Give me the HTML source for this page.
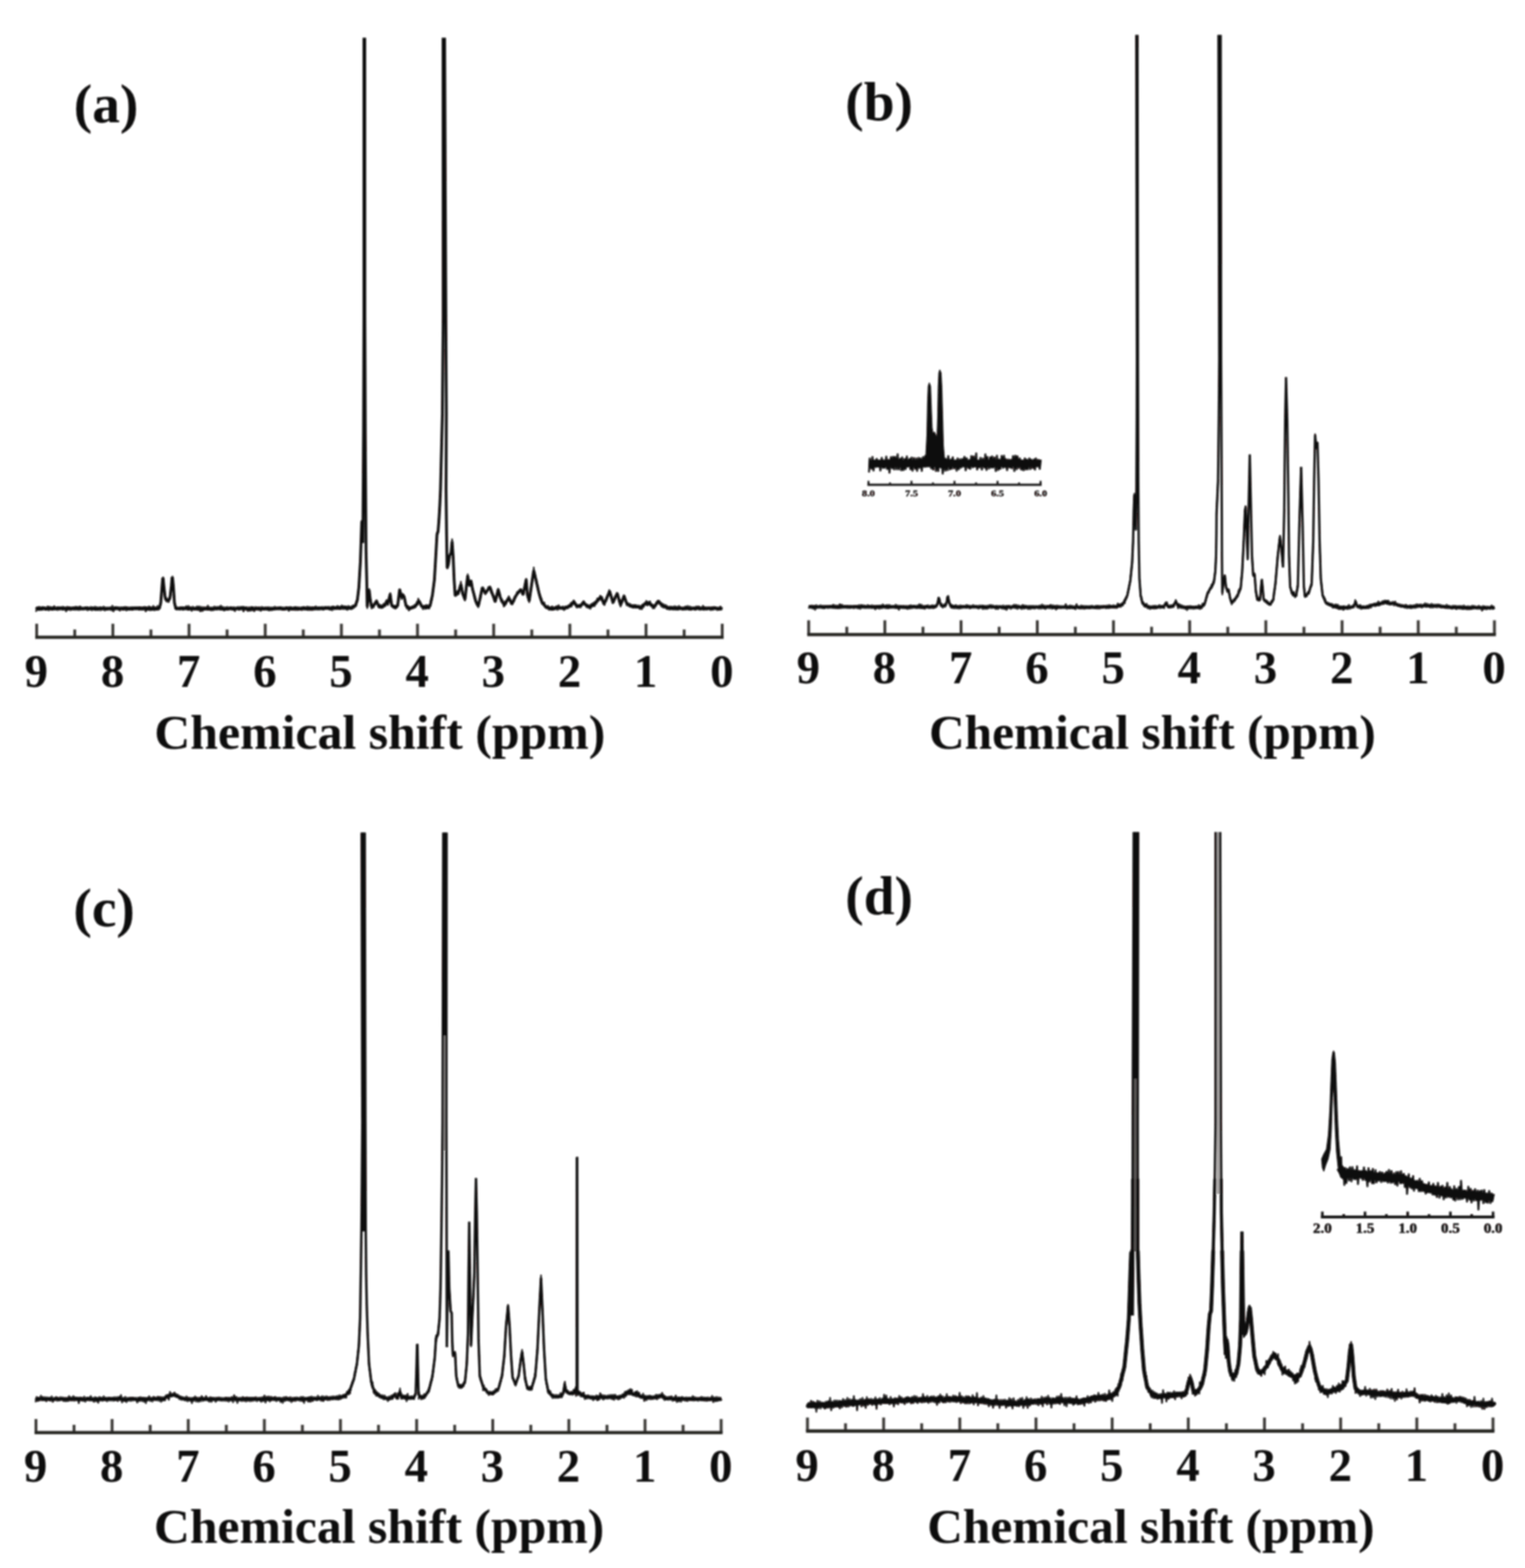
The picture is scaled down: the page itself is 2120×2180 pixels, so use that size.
<!DOCTYPE html>
<html lang="en"><head><meta charset="utf-8"><title>1H NMR spectra</title>
<style>html,body{margin:0;padding:0;background:#fff;overflow:hidden}svg{display:block}text{font-family:"Liberation Serif", "DejaVu Serif", serif;font-weight:bold;fill:#0c0909}</style></head><body>
<svg width="2120" height="2180" viewBox="0 0 2120 2180" role="img" aria-label="1H NMR spectra, panels a to d">
<defs><filter id="bl" x="-2%" y="-2%" width="104%" height="104%"><feGaussianBlur stdDeviation="0.9"/></filter></defs>
<rect width="2120" height="2180" fill="#fff"/>
<g filter="url(#bl)">
<g id="panel-a">
<line x1="1004.0" y1="867.2" x2="1004.0" y2="886.0" stroke="#3d3a39" stroke-width="4.0"/>
<line x1="951.1" y1="875.2" x2="951.1" y2="886.0" stroke="#3d3a39" stroke-width="4.0"/>
<line x1="898.1" y1="867.2" x2="898.1" y2="886.0" stroke="#3d3a39" stroke-width="4.0"/>
<line x1="845.2" y1="875.2" x2="845.2" y2="886.0" stroke="#3d3a39" stroke-width="4.0"/>
<line x1="792.2" y1="867.2" x2="792.2" y2="886.0" stroke="#3d3a39" stroke-width="4.0"/>
<line x1="739.3" y1="875.2" x2="739.3" y2="886.0" stroke="#3d3a39" stroke-width="4.0"/>
<line x1="686.3" y1="867.2" x2="686.3" y2="886.0" stroke="#3d3a39" stroke-width="4.0"/>
<line x1="633.4" y1="875.2" x2="633.4" y2="886.0" stroke="#3d3a39" stroke-width="4.0"/>
<line x1="580.4" y1="867.2" x2="580.4" y2="886.0" stroke="#3d3a39" stroke-width="4.0"/>
<line x1="527.5" y1="875.2" x2="527.5" y2="886.0" stroke="#3d3a39" stroke-width="4.0"/>
<line x1="474.6" y1="867.2" x2="474.6" y2="886.0" stroke="#3d3a39" stroke-width="4.0"/>
<line x1="421.6" y1="875.2" x2="421.6" y2="886.0" stroke="#3d3a39" stroke-width="4.0"/>
<line x1="368.7" y1="867.2" x2="368.7" y2="886.0" stroke="#3d3a39" stroke-width="4.0"/>
<line x1="315.7" y1="875.2" x2="315.7" y2="886.0" stroke="#3d3a39" stroke-width="4.0"/>
<line x1="262.8" y1="867.2" x2="262.8" y2="886.0" stroke="#3d3a39" stroke-width="4.0"/>
<line x1="209.8" y1="875.2" x2="209.8" y2="886.0" stroke="#3d3a39" stroke-width="4.0"/>
<line x1="156.9" y1="867.2" x2="156.9" y2="886.0" stroke="#3d3a39" stroke-width="4.0"/>
<line x1="103.9" y1="875.2" x2="103.9" y2="886.0" stroke="#3d3a39" stroke-width="4.0"/>
<line x1="51.0" y1="867.2" x2="51.0" y2="886.0" stroke="#3d3a39" stroke-width="4.0"/>
<line x1="49.0" y1="886.0" x2="1006.0" y2="886.0" stroke="#282524" stroke-width="4.6"/>
<text x="1003.5" y="955.0" font-size="65" text-anchor="middle">0</text>
<text x="897.6" y="955.0" font-size="65" text-anchor="middle">1</text>
<text x="791.7" y="955.0" font-size="65" text-anchor="middle">2</text>
<text x="685.8" y="955.0" font-size="65" text-anchor="middle">3</text>
<text x="579.9" y="955.0" font-size="65" text-anchor="middle">4</text>
<text x="474.1" y="955.0" font-size="65" text-anchor="middle">5</text>
<text x="368.2" y="955.0" font-size="65" text-anchor="middle">6</text>
<text x="262.3" y="955.0" font-size="65" text-anchor="middle">7</text>
<text x="156.4" y="955.0" font-size="65" text-anchor="middle">8</text>
<text x="50.5" y="955.0" font-size="65" text-anchor="middle">9</text>
<text x="214.5" y="1041.0" font-size="68" textLength="627.0" lengthAdjust="spacingAndGlyphs">Chemical shift (ppm)</text>
<path d="M50.0 846.9 L52.2 844.9 L54.4 847.0 L56.5 847.3 L58.7 844.6 L60.9 845.2 L63.1 846.8 L65.3 847.1 L67.5 845.1 L69.7 846.1 L71.9 847.2 L74.1 844.8 L76.3 846.5 L78.5 845.7 L80.7 844.8 L82.9 845.5 L85.1 845.2 L87.3 847.1 L89.5 845.7 L91.7 845.7 L93.9 847.3 L96.1 844.7 L98.3 846.6 L100.5 845.5 L102.7 845.4 L104.9 844.9 L107.1 845.1 L109.3 845.6 L111.5 846.2 L113.7 846.2 L115.8 845.9 L118.0 845.5 L120.2 844.8 L122.4 845.5 L124.6 846.4 L126.8 846.4 L129.0 845.4 L131.2 847.1 L133.4 847.4 L135.6 847.1 L137.8 845.8 L140.0 845.2 L142.2 846.4 L144.4 845.6 L146.6 846.7 L148.8 846.0 L151.0 846.5 L153.2 846.0 L155.4 846.0 L157.6 847.4 L159.8 845.1 L162.0 844.7 L164.2 846.4 L166.4 846.7 L168.6 844.9 L170.8 847.4 L173.0 844.9 L175.1 845.2 L177.3 846.5 L179.5 847.1 L181.7 846.1 L183.9 847.4 L186.1 845.1 L188.3 846.5 L190.5 845.1 L192.7 846.2 L194.9 844.5 L197.1 846.9 L199.3 845.3 L201.5 844.7 L203.7 846.7 L205.9 847.3 L208.1 844.6 L210.3 847.4 L212.5 847.2 L214.7 845.2 L216.9 846.9 L219.1 845.5 L221.5 846.1 L223.5 838.0 L225.3 814.9 L226.2 803.7 L226.8 804.0 L227.8 815.1 L229.5 830.3 L231.5 833.8 L234.5 834.8 L236.5 830.0 L238.2 814.9 L239.2 802.4 L239.9 803.5 L241.0 815.1 L242.5 838.0 L244.5 846.5 L246.5 845.9 L248.5 846.1 L250.7 846.6 L252.9 844.8 L255.1 845.7 L257.3 845.4 L259.5 845.7 L261.7 847.3 L263.9 846.4 L266.1 846.1 L268.3 846.0 L270.5 846.7 L272.7 846.0 L274.9 846.9 L277.1 846.3 L279.4 846.7 L281.6 847.2 L283.8 847.0 L286.0 846.5 L288.2 846.8 L290.4 847.1 L292.6 845.7 L294.8 847.3 L297.0 846.3 L299.2 846.0 L301.4 846.7 L303.6 845.2 L305.8 846.5 L308.0 846.3 L310.2 847.2 L312.4 847.4 L314.6 846.8 L316.8 846.8 L319.0 845.9 L321.2 844.8 L323.4 847.2 L325.6 847.0 L327.9 845.9 L330.1 845.6 L332.3 847.0 L334.5 845.0 L336.7 844.6 L338.9 844.6 L341.1 845.3 L343.3 847.0 L345.5 846.9 L347.7 847.3 L349.9 844.5 L352.1 846.3 L354.3 846.6 L356.5 846.8 L358.7 845.6 L360.9 846.0 L363.1 847.3 L365.3 845.6 L367.5 847.0 L369.7 845.4 L371.9 847.3 L374.1 847.1 L376.4 845.7 L378.6 847.2 L380.8 846.5 L383.0 846.4 L385.2 845.3 L387.4 846.4 L389.6 844.7 L391.8 846.4 L394.0 846.8 L396.2 846.8 L398.4 844.7 L400.6 846.6 L402.8 844.6 L405.0 845.5 L407.2 847.0 L409.4 845.3 L411.6 844.6 L413.8 846.9 L416.0 846.3 L418.2 846.6 L420.4 845.2 L422.6 844.6 L424.9 846.3 L427.1 846.7 L430.0 844.7 L432.2 847.2 L434.4 844.8 L436.5 846.0 L438.7 845.0 L440.9 846.7 L443.1 845.4 L445.3 845.3 L447.4 845.4 L449.6 846.6 L451.8 845.0 L454.0 844.7 L456.1 845.4 L458.3 846.5 L460.5 845.6 L462.7 844.0 L464.9 845.4 L467.0 845.1 L469.2 843.8 L471.4 846.5 L473.6 844.2 L475.8 844.7 L477.9 843.9 L480.1 844.2 L482.3 845.5 L484.5 845.3 L486.6 845.7 L488.8 845.6 L491.4 843.6 L494.1 841.9 L496.8 834.2 L498.9 816.5 L501.0 780.9 L502.3 743.1 L502.9 724.6 L504.4 755.0 L505.4 600.0 L505.9 440.0 L505.9 52.6 M507.1 52.6 L507.2 440.0 L507.8 600.0 L508.8 764.0 L509.8 806.0 L510.5 843.8 L511.9 831.1 L513.2 820.2 L514.7 833.4 L516.6 843.6 L519.3 842.3 L521.4 839.1 L523.5 835.4 L526.6 843.4 L528.7 844.2 L530.8 844.6 L532.9 841.9 L535.0 842.2 L537.6 835.4 L539.2 839.8 L542.4 825.9 L544.5 841.8 L547.1 843.8 L549.7 844.8 L552.9 841.6 L555.6 819.3 L558.2 830.8 L559.8 826.5 L561.9 829.9 L564.5 842.5 L567.1 843.9 L569.7 846.3 L572.2 844.6 L574.6 844.4 L577.1 843.4 L579.7 839.6 L582.3 835.2 L584.4 839.3 L586.5 843.2 L588.6 843.6 L590.7 843.3 L592.8 845.6 L595.4 843.3 L598.1 841.4 L601.2 827.1 L603.9 806.0 L606.1 768.3 L607.5 743.0 L609.0 738.8 L610.3 722.0 L611.5 701.1 L612.4 680.0 L615.0 575.0 L616.1 440.0 L615.9 52.6 M618.1 52.6 L619.8 440.0 L620.5 575.0 L620.1 680.0 L620.8 743.0 L621.6 789.6 L623.3 784.8 L625.0 772.8 L627.1 768.2 L628.5 752.6 L630.0 774.5 L631.3 806.0 L632.7 828.1 L634.8 825.7 L636.9 825.4 L638.8 818.7 L640.7 812.2 L643.2 825.4 L646.4 833.5 L648.5 814.3 L650.2 800.3 L652.3 814.2 L654.8 807.7 L656.9 819.0 L659.0 826.7 L661.1 835.0 L663.0 839.7 L664.9 842.9 L666.7 834.8 L668.4 827.0 L670.5 817.0 L672.6 821.0 L674.7 824.9 L677.9 820.5 L681.1 816.1 L684.2 825.1 L686.3 830.4 L688.4 836.6 L690.5 828.3 L692.6 819.6 L695.8 831.8 L698.4 836.1 L701.0 841.4 L703.1 837.8 L705.2 834.5 L707.3 831.1 L709.4 835.4 L711.5 839.9 L713.6 836.0 L715.7 831.1 L717.8 827.6 L719.9 824.3 L722.0 821.9 L724.1 819.4 L727.3 826.8 L729.4 816.1 L731.5 805.5 L733.2 827.1 L735.7 835.5 L738.8 814.4 L742.0 792.8 L745.1 806.4 L747.2 815.5 L749.3 824.5 L751.4 831.6 L753.5 837.7 L756.2 840.2 L758.8 844.1 L761.2 845.4 L763.7 844.8 L766.1 846.6 L768.2 847.1 L770.3 846.4 L772.4 844.9 L774.5 844.5 L776.6 844.6 L778.7 845.0 L780.8 845.1 L782.9 846.0 L785.0 846.2 L787.1 843.8 L789.2 844.7 L791.3 842.4 L793.4 841.3 L795.5 839.9 L797.6 836.0 L799.7 839.7 L801.8 843.2 L804.5 841.9 L807.1 842.1 L809.2 840.3 L811.3 836.7 L813.4 840.7 L815.5 842.0 L818.1 842.3 L820.8 844.1 L821.8 842.1 L823.9 840.0 L826.0 839.8 L828.1 837.2 L830.5 835.5 L833.0 832.0 L835.4 829.9 L837.5 834.1 L839.6 839.9 L841.7 835.6 L843.8 830.8 L845.6 826.6 L847.4 821.9 L849.8 829.8 L852.2 838.1 L854.2 833.0 L856.1 828.7 L858.1 825.1 L860.4 833.2 L862.7 841.3 L865.1 834.8 L867.6 828.5 L869.3 833.6 L871.1 838.7 L873.6 840.4 L876.0 842.7 L878.5 843.3 L880.6 844.1 L882.7 841.9 L884.8 844.0 L886.9 844.0 L889.0 844.3 L891.1 844.4 L893.5 841.9 L896.0 840.3 L898.4 838.5 L901.1 838.7 L903.7 839.4 L906.3 841.2 L908.9 843.4 L911.1 841.3 L913.2 838.7 L915.3 835.8 L917.9 839.4 L920.5 841.0 L922.6 842.3 L924.7 843.0 L926.8 844.9 L928.9 844.3 L931.1 847.0 L933.4 844.2 L935.6 846.9 L937.8 846.2 L940.0 845.1 L942.3 846.9 L944.5 845.2 L946.7 845.7 L948.9 846.5 L951.2 846.5 L953.4 846.7 L955.6 846.1 L957.8 846.2 L960.0 846.8 L962.3 845.9 L964.5 846.5 L966.7 845.9 L968.9 845.9 L971.2 845.4 L973.4 846.1 L975.6 845.7 L977.8 846.4 L980.1 845.7 L982.3 846.9 L984.5 845.5 L986.7 846.0 L989.0 846.3 L991.2 845.7 L993.4 844.8 L995.6 845.6 L997.9 846.0 L1000.1 847.3 L1002.3 845.8 L1004.5 846.0" fill="none" stroke="#0a0808" stroke-width="3.8" stroke-linejoin="bevel" stroke-linecap="butt"/><path d="M50.0 850.6 L51.5 843.7 L53.0 848.9 L54.4 842.9 L55.9 848.2 L57.4 843.6 L58.9 848.8 L60.4 843.5 L61.9 848.3 L63.4 843.7 L64.9 848.7 L66.4 842.3 L67.9 849.2 L69.4 842.9 L70.9 848.1 L72.4 843.6 L73.9 848.8 L75.4 842.1 L76.9 848.3 L78.4 843.8 L79.9 849.0 L81.4 843.6 L82.9 848.5 L84.4 843.3 L85.9 848.1 L87.4 842.7 L88.9 848.1 L90.4 843.7 L91.9 850.9 L93.4 842.9 L94.9 848.4 L96.4 843.4 L97.8 849.1 L99.3 843.9 L100.8 848.4 L102.3 843.5 L103.8 848.8 L105.3 842.7 L106.8 848.7 L108.3 842.9 L109.8 849.1 L111.3 842.3 L112.8 848.4 L114.3 843.7 L115.8 848.4 L117.3 843.8 L118.8 848.2 L120.3 843.9 L121.8 849.1 L123.3 843.8 L124.8 848.3 L126.3 843.1 L127.8 849.2 L129.3 843.4 L130.8 848.4 L132.3 842.9 L133.8 848.4 L135.3 843.6 L136.8 848.9 L138.3 843.7 L139.8 849.2 L141.3 843.7 L142.7 848.4 L144.2 842.6 L145.7 849.5 L147.2 843.8 L148.7 848.6 L150.2 843.9 L151.7 848.3 L153.2 843.6 L154.7 849.2 L156.2 841.5 L157.7 850.8 L159.2 843.3 L160.7 848.1 L162.2 843.2 L163.7 848.1 L165.2 843.5 L166.7 849.7 L168.2 843.8 L169.7 848.1 L171.2 843.5 L172.7 848.5 L174.2 843.1 L175.7 849.4 L177.2 843.4 L178.7 848.6 L180.2 843.7 L181.7 848.1 L183.2 843.4 L184.7 848.3 L186.2 843.4 L187.6 848.1 L189.1 843.3 L190.6 848.3 L192.1 843.3 L193.6 848.7 L195.1 843.7 L196.6 848.4 L198.1 843.6 L199.6 848.5 L201.1 842.9 L202.6 850.9 L204.1 843.4 L205.6 848.7 L207.1 842.3 L208.6 849.2 L210.1 843.6 L211.6 848.3 L213.1 841.8 L214.6 849.3 L216.1 843.6 L217.6 848.7 L219.1 841.7 L220.3 848.5 L221.5 843.6 L221.9 846.6 L222.3 840.2 L222.7 843.5 L223.1 836.9 L223.5 840.7 L223.6 834.3 L223.7 837.1 L223.9 830.6 L224.0 834.9 L224.1 827.6 L224.2 831.7 L224.3 825.1 L224.5 829.4 L224.6 821.7 L224.7 825.0 L224.8 817.5 L224.9 822.1 L225.1 815.4 L225.2 819.4 L225.3 812.4 L225.4 816.0 L225.6 809.5 L225.7 812.4 L225.8 805.6 L225.9 811.8 L226.1 802.9 L226.2 806.4 L226.8 801.8 L226.9 807.8 L227.1 804.9 L227.2 811.0 L227.4 807.9 L227.5 816.0 L227.7 811.2 L227.8 817.7 L228.0 813.8 L228.1 820.2 L228.3 816.5 L228.5 823.9 L228.7 819.4 L228.8 827.6 L229.0 821.6 L229.2 829.3 L229.3 825.9 L229.5 834.5 L230.0 828.9 L230.5 835.3 L231.0 830.9 L231.5 837.1 L233.0 832.6 L234.5 838.0 L235.0 831.3 L235.5 834.9 L236.0 828.3 L236.5 833.8 L236.7 823.9 L236.8 829.2 L237.0 823.3 L237.2 827.8 L237.3 819.0 L237.5 825.5 L237.7 816.9 L237.9 820.6 L238.0 814.4 L238.2 817.7 L238.3 811.1 L238.4 814.2 L238.6 806.7 L238.7 811.5 L238.8 805.0 L238.9 809.1 L239.1 802.7 L239.2 806.4 L239.9 800.7 L240.0 808.6 L240.2 803.6 L240.3 810.0 L240.4 807.0 L240.6 815.1 L240.7 809.5 L240.9 816.3 L241.0 811.3 L241.1 818.7 L241.2 814.6 L241.3 821.9 L241.4 818.0 L241.5 826.2 L241.6 822.0 L241.7 830.6 L241.8 824.7 L241.9 831.7 L242.0 828.1 L242.1 834.4 L242.2 828.6 L242.3 837.0 L242.4 833.9 L242.5 840.2 L242.9 836.3 L243.3 844.0 L243.7 839.9 L244.1 848.0 L244.5 842.7 L245.8 848.3 L247.2 843.8 L248.5 848.2 L250.0 843.6 L251.5 848.2 L253.0 843.4 L254.5 848.7 L256.0 843.8 L257.5 848.2 L259.0 842.0 L260.5 848.2 L262.0 841.8 L263.5 848.1 L265.0 843.4 L266.5 850.1 L268.0 842.7 L269.5 848.6 L271.0 843.9 L272.5 848.5 L274.0 842.2 L275.5 849.1 L277.0 842.1 L278.5 850.9 L280.0 843.0 L281.5 850.2 L283.0 843.4 L284.5 848.2 L286.0 843.6 L287.5 848.1 L289.0 841.2 L290.5 848.5 L292.0 843.8 L293.5 849.5 L295.0 843.7 L296.5 849.3 L298.0 842.6 L299.5 848.3 L301.0 843.0 L302.5 848.1 L304.0 842.9 L305.5 848.3 L307.0 841.1 L308.5 848.2 L310.0 843.1 L311.5 849.6 L313.0 843.7 L314.5 848.2 L316.0 843.0 L317.5 848.4 L319.0 843.8 L320.5 848.2 L322.0 843.6 L323.5 848.5 L325.0 843.3 L326.5 850.4 L328.0 843.8 L329.5 848.1 L331.0 843.0 L332.5 848.6 L334.0 843.1 L335.5 848.3 L337.0 843.0 L338.5 850.8 L340.0 843.7 L341.5 848.4 L343.0 843.4 L344.5 850.2 L346.0 843.5 L347.5 850.1 L349.0 843.1 L350.5 849.6 L352.0 843.5 L353.5 850.6 L355.0 843.1 L356.5 848.1 L358.0 843.6 L359.5 849.0 L361.0 843.4 L362.5 850.0 L364.0 843.0 L365.5 848.6 L367.0 843.8 L368.5 848.5 L370.0 843.6 L371.5 848.3 L373.0 843.2 L374.5 849.6 L376.0 843.7 L377.5 849.2 L379.0 843.8 L380.5 848.1 L382.0 842.7 L383.5 848.2 L385.0 843.8 L386.5 848.1 L388.0 843.3 L389.5 848.2 L391.0 843.4 L392.5 848.6 L394.0 843.7 L395.5 848.5 L397.0 843.6 L398.5 848.2 L400.0 843.7 L401.5 850.1 L403.0 843.8 L404.5 848.7 L406.1 843.8 L407.6 848.6 L409.1 843.4 L410.6 849.0 L412.1 843.5 L413.6 849.0 L415.1 843.5 L416.6 848.5 L418.1 843.7 L419.6 849.0 L421.1 843.7 L422.6 848.5 L424.1 843.5 L425.6 848.4 L427.1 842.6 L428.5 849.1 L430.0 843.1 L431.5 849.1 L433.0 843.5 L434.5 848.9 L436.0 843.5 L437.5 848.5 L439.0 842.3 L440.6 848.2 L442.1 843.2 L443.6 848.4 L445.1 843.3 L446.6 848.3 L448.1 843.1 L449.6 848.4 L451.1 843.0 L452.6 847.7 L454.1 843.0 L455.6 847.8 L457.1 842.8 L458.7 848.4 L460.2 843.1 L461.7 849.2 L463.2 842.4 L464.7 847.9 L466.2 843.0 L467.7 847.7 L469.2 841.8 L470.7 847.5 L472.2 842.7 L473.7 847.8 L475.2 841.0 L476.8 847.6 L478.3 842.1 L479.8 847.7 L481.3 842.3 L482.8 848.7 L484.3 841.7 L485.8 847.2 L487.3 842.7 L488.8 847.8 L490.1 841.1 L491.4 846.3 L492.8 840.4 L494.1 844.1 L494.6 837.8 L495.2 842.9 L495.7 834.4 L496.3 838.2 L496.8 831.7 L497.0 835.9 L497.2 829.0 L497.3 832.7 L497.5 824.0 L497.7 829.2 L497.9 823.1 L498.0 828.9 L498.2 820.0 L498.4 823.1 L498.6 817.0 L498.7 820.3 L498.9 813.9 L499.0 818.0 L499.1 811.0 L499.2 815.7 L499.3 808.3 L499.3 813.8 L499.4 804.4 L499.5 808.3 L499.6 802.5 L499.7 805.4 L499.8 799.6 L499.9 803.0 L500.0 795.1 L500.0 802.1 L500.1 792.5 L500.2 796.9 L500.3 790.5 L500.4 793.7 L500.5 786.5 L500.6 790.6 L500.7 784.7 L500.7 788.0 L500.8 781.1 L500.9 784.8 L501.0 778.5 L501.1 781.4 L501.1 775.7 L501.2 778.5 L501.2 772.6 L501.3 775.7 L501.3 769.2 L501.4 774.4 L501.4 765.8 L501.5 770.2 L501.5 763.2 L501.6 768.4 L501.6 760.4 L501.7 764.2 L501.7 757.2 L501.8 762.6 L501.8 754.1 L501.9 757.7 L501.9 750.9 L502.0 754.7 L502.0 747.4 L502.1 752.6 L502.1 745.4 L502.2 748.5 L502.2 742.1 L502.3 745.5 L502.3 739.3 L502.4 742.5 L502.4 734.7 L502.5 739.5 L502.5 733.2 L502.6 736.1 L502.6 728.7 L502.7 733.6 L502.7 726.6 L502.8 729.9 L502.8 723.2 L502.9 726.7 L503.0 723.7 L503.0 729.7 L503.1 726.7 L503.2 734.3 L503.3 729.1 L503.3 738.5 L503.4 732.2 L503.5 739.0 L503.6 735.2 L503.6 742.2 L503.7 738.6 L503.8 745.1 L503.9 741.5 L503.9 749.3 L504.0 745.2 L504.1 751.8 L504.2 748.3 L504.2 754.2 L504.3 751.1 M510.5 846.4 L510.6 839.2 L510.8 843.0 L511.0 837.0 L511.2 840.0 L511.4 833.6 L511.6 836.7 L511.7 830.5 L511.9 835.2 L512.1 827.5 L512.3 831.0 L512.5 824.3 L512.7 827.6 L512.8 820.4 L513.0 826.8 L513.2 818.0 L513.4 824.9 L513.5 820.1 L513.7 827.0 L513.8 821.6 L514.0 830.1 L514.2 826.8 L514.3 832.9 L514.5 829.8 L514.7 835.8 L515.0 832.5 L515.3 841.1 L515.6 835.8 L515.9 843.4 L516.2 839.1 L516.6 846.9 L517.9 839.9 L519.3 845.4 L520.1 838.3 L521.0 841.7 L521.8 835.9 L522.6 839.3 L523.5 833.6 L524.1 839.5 L524.7 836.1 L525.4 842.2 L526.0 839.1 L526.6 845.1 L528.0 840.0 L529.4 845.8 L530.8 840.8 L532.2 845.8 L533.6 838.5 L535.0 843.9 L535.5 838.0 L536.1 841.6 L536.6 835.8 L537.1 840.6 L537.6 833.4 L538.1 839.2 L538.7 835.5 L539.2 842.1 L539.6 834.9 L539.9 839.9 L540.3 833.0 L540.6 835.8 L541.0 829.5 L541.3 833.0 L541.7 826.3 L542.0 830.2 L542.4 823.8 L542.6 829.6 L542.8 824.0 L543.0 832.7 L543.2 828.8 L543.3 835.5 L543.5 832.1 L543.7 838.3 L543.9 834.2 L544.1 842.4 L544.3 837.9 L544.5 843.9 L545.8 840.3 L547.1 846.1 L548.4 841.3 L549.7 847.1 L550.8 841.2 L551.8 845.5 L552.9 838.7 L553.1 843.6 L553.3 835.7 L553.4 840.1 L553.6 832.8 L553.8 837.1 L554.0 830.4 L554.2 834.2 L554.4 826.9 L554.5 830.6 L554.7 824.1 L554.9 828.1 L555.1 821.2 L555.3 824.8 L555.4 818.2 L555.6 823.6 L555.9 818.3 L556.3 825.4 L556.6 820.6 L556.9 827.4 L557.2 823.0 L557.5 830.9 L557.8 826.6 L558.2 833.9 L558.7 827.5 L559.3 831.3 L559.8 824.8 L560.9 831.8 L561.9 827.3 L562.2 834.5 L562.6 830.1 L562.9 837.0 L563.2 833.2 L563.5 839.4 L563.8 836.1 L564.1 842.9 L564.5 839.4 L565.8 847.0 L567.1 841.5 L568.4 849.5 L569.7 843.6 L571.2 847.5 L572.6 842.5 L574.1 846.4 L575.6 840.8 L577.1 845.0 L577.9 838.9 L578.8 842.5 L579.7 835.7 L580.6 841.6 L581.4 831.5 L582.3 837.3 L582.9 834.2 L583.5 839.7 L584.1 836.2 L584.7 842.4 L585.3 838.7 L585.9 844.8 L586.5 841.3 L588.1 847.7 L589.7 841.2 L591.2 847.2 L592.8 840.3 L594.1 846.9 L595.4 840.9 L596.8 846.9 L598.1 839.5 L598.4 843.8 L598.7 834.2 L599.0 840.3 L599.3 833.4 L599.6 836.6 L600.0 830.7 L600.3 834.9 L600.6 827.4 L600.9 831.7 L601.2 824.1 L601.4 828.0 L601.6 821.2 L601.8 824.8 L602.0 818.9 L602.2 822.1 L602.4 815.8 L602.6 821.1 L602.8 812.3 L603.0 815.9 L603.2 809.4 L603.4 813.1 L603.6 806.8 L603.8 810.4 L603.9 803.4 L604.0 808.3 L604.1 800.8 L604.2 803.8 L604.3 797.9 L604.4 801.4 L604.5 793.4 L604.5 798.4 L604.6 791.1 L604.7 794.6 L604.8 788.7 L604.9 792.8 L605.0 784.7 L605.0 789.6 L605.1 782.7 L605.2 785.8 L605.3 779.7 L605.4 782.9 L605.5 776.3 L605.5 779.5 L605.6 771.7 L605.7 778.6 L605.8 770.6 L605.9 773.6 L606.0 766.9 L606.1 770.5 L606.1 764.1 L606.2 767.9 L606.3 761.6 L606.4 767.2 L606.5 756.6 L606.6 761.5 L606.7 755.1 L606.7 759.2 L606.8 752.7 L606.9 755.7 L607.0 749.3 L607.1 753.4 L607.2 746.5 L607.3 750.2 L607.3 743.7 L607.4 746.7 L607.5 739.5 L608.0 743.8 L608.5 737.9 L609.0 741.7 L609.1 734.9 L609.2 739.2 L609.3 731.9 L609.4 735.4 L609.6 728.7 L609.7 732.1 L609.8 725.0 L609.9 730.3 L610.0 721.6 L610.1 727.7 L610.3 718.5 L610.3 722.9 L610.4 716.4 L610.5 721.4 L610.6 711.8 L610.7 717.3 L610.8 710.5 L610.9 714.5 L611.0 706.7 L611.1 711.7 L611.2 704.8 L611.2 708.0 L611.3 701.4 L611.4 705.6 L611.5 698.6 L611.6 704.1 L611.6 694.7 L611.7 698.8 L611.8 692.8 L611.8 696.9 L611.9 689.8 L611.9 692.7 L612.0 686.5 L612.1 690.3 L612.1 682.6 L612.2 687.0 L612.2 680.7 L612.3 683.8 M621.6 791.4 L622.2 784.8 L622.7 790.1 L623.3 782.3 L623.5 786.0 L623.7 779.8 L623.9 783.2 L624.1 776.2 L624.3 779.4 L624.5 773.3 L624.7 777.1 L625.0 770.2 L625.7 773.9 L626.4 767.5 L627.1 770.5 L627.2 764.6 L627.3 769.0 L627.5 761.1 L627.6 765.5 L627.7 758.7 L627.9 762.1 L628.0 754.8 L628.1 760.8 L628.3 752.8 L628.4 756.7 L628.5 748.8 L628.6 757.1 L628.7 751.7 L628.8 759.0 L628.9 755.4 L629.0 762.9 L629.1 758.1 L629.2 765.3 L629.3 762.0 L629.4 768.6 L629.5 764.2 L629.6 770.9 L629.7 767.8 L629.8 774.4 L629.9 770.3 L630.0 776.7 L630.1 773.0 L630.1 782.4 L630.2 776.4 L630.2 782.8 L630.3 779.4 L630.4 785.7 L630.4 781.1 L630.5 789.6 L630.5 784.4 L630.6 791.9 L630.7 787.8 L630.7 795.0 L630.8 791.4 L630.8 797.9 L630.9 794.8 L631.0 802.1 L631.0 797.9 L631.1 804.0 L631.1 800.0 L631.2 807.8 L631.3 803.9 L631.4 810.3 L631.5 806.7 L631.6 812.7 L631.7 807.7 L631.8 816.0 L631.9 812.0 L632.0 818.8 L632.1 813.2 L632.2 821.7 L632.3 818.8 L632.4 824.7 L632.5 821.7 L632.6 829.5 L632.7 824.8 L634.1 829.1 L635.5 820.8 L636.9 827.2 L637.4 820.1 L637.8 826.3 L638.2 817.7 L638.6 822.7 L639.0 814.0 L639.5 819.2 L639.9 812.3 L640.3 816.5 L640.7 807.9 L641.0 817.0 L641.3 813.0 L641.6 819.6 L641.8 815.8 L642.1 821.9 L642.4 817.4 L642.7 825.4 L643.0 821.3 L643.2 827.4 L643.8 823.9 L644.3 830.8 L644.8 826.5 L645.3 833.7 L645.9 829.6 L646.4 835.9 L646.5 828.6 L646.7 833.2 L646.9 825.6 L647.0 830.0 L647.2 822.1 L647.4 827.1 L647.5 820.2 L647.7 823.9 L647.8 817.9 L648.0 821.1 L648.2 815.0 L648.3 818.4 L648.5 812.0 L648.7 815.2 L648.8 808.6 L649.0 812.5 L649.2 806.6 L649.3 809.5 L649.5 803.7 L649.7 807.3 L649.8 799.7 L650.0 803.9 L650.2 797.5 L650.4 803.9 L650.6 800.7 L650.8 806.7 L651.0 803.5 L651.2 812.0 L651.4 806.3 L651.6 812.5 L651.8 809.1 L652.1 815.2 L652.3 812.3 L652.8 815.5 L653.3 808.8 L653.8 813.1 L654.3 806.0 L654.8 809.7 L655.1 806.0 L655.3 812.6 L655.6 809.4 L655.8 816.5 L656.1 810.4 L656.4 818.6 L656.6 815.0 L656.9 821.3 L657.2 817.8 L657.6 824.3 L657.9 819.6 L658.3 826.5 L658.6 823.3 L659.0 830.8 L659.3 825.6 L659.7 832.6 L660.0 829.1 L660.4 835.6 L660.7 830.6 L661.1 838.1 L661.7 833.0 L662.4 840.2 L663.0 836.2 L663.6 842.5 L664.2 838.9 L664.9 845.1 L665.2 838.6 L665.5 842.8 L665.8 836.1 L666.2 839.6 L666.5 832.6 L666.8 837.0 L667.1 829.8 L667.5 834.2 L667.8 826.5 L668.1 833.4 L668.4 824.8 L668.7 828.4 L669.0 821.9 L669.3 825.6 L669.6 818.7 L669.9 822.9 L670.2 815.9 L670.5 818.9 L671.2 815.6 L671.9 822.6 L672.6 817.5 L673.3 824.6 L674.0 820.7 L674.7 827.2 L675.5 821.1 L676.3 824.7 L677.1 818.9 L677.9 821.9 L678.9 815.3 L680.0 820.5 L681.1 814.4 L681.6 820.1 L682.1 817.0 L682.6 824.8 L683.2 819.6 L683.7 825.9 L684.2 822.7 L684.7 828.7 L685.3 825.1 L685.8 831.6 L686.3 827.0 L686.8 834.9 L687.4 831.2 L687.9 837.6 L688.4 833.6 L688.8 837.9 L689.1 829.9 L689.5 834.8 L689.8 828.3 L690.2 832.5 L690.5 825.4 L690.9 829.6 L691.2 823.1 L691.6 828.6 L691.9 818.8 L692.3 823.9 L692.6 817.5 L693.0 824.5 L693.4 820.4 L693.8 826.5 L694.2 822.8 L694.6 829.2 L695.0 824.3 L695.4 832.1 L695.8 829.1 L696.4 836.7 L697.1 831.1 L697.7 838.3 L698.4 834.0 L699.0 840.0 L699.7 836.8 L700.4 844.2 L701.0 838.8 L701.8 842.9 L702.6 834.9 L703.4 840.9 L704.2 834.3 L704.9 837.5 L705.7 831.4 L706.5 835.6 L707.3 828.2 L708.0 836.0 L708.7 831.5 L709.4 837.6 L710.1 833.4 L710.8 840.6 L711.5 837.1 L712.2 841.2 L712.9 834.3 L713.6 838.0 L714.3 831.4 L715.0 836.5 L715.7 828.4 L716.4 832.4 L717.1 826.3 L717.8 829.3 L718.9 822.1 L719.9 826.9 L721.0 820.8 L722.0 824.8 L723.1 818.6 L724.1 822.3 L724.7 818.5 L725.4 825.6 L726.0 821.9 L726.6 828.0 L727.3 824.9 L727.5 827.8 L727.8 822.0 L728.1 824.9 L728.4 817.8 L728.7 822.3 L728.9 816.3 L729.2 819.1 L729.5 812.4 L729.8 816.4 L730.1 810.4 L730.4 814.3 L730.6 807.2 L730.9 811.4 L731.2 804.4 L731.5 808.3 L731.6 803.7 L731.7 810.6 L731.8 807.8 L732.0 813.9 L732.1 811.0 L732.2 817.9 L732.3 812.3 L732.4 820.0 L732.6 817.2 L732.7 823.4 L732.8 820.2 L732.9 826.2 L733.0 822.5 L733.2 829.5 L733.6 826.3 L734.0 832.2 L734.4 828.0 L734.8 835.9 L735.3 830.8 L735.7 838.2 L735.9 830.9 L736.1 836.0 L736.3 828.7 L736.6 831.8 L736.8 825.3 L737.0 829.4 L737.2 822.3 L737.5 825.6 L737.7 818.6 L737.9 823.0 L738.1 816.3 L738.4 820.1 L738.6 813.2 L738.8 817.0 L739.0 809.6 L739.2 814.0 L739.5 805.4 L739.7 811.7 L739.9 805.1 L740.1 809.2 L740.3 801.7 L740.5 806.0 L740.7 798.9 L740.9 802.6 L741.1 795.3 L741.3 799.2 L741.6 793.1 L741.8 796.4 L742.0 788.0 L742.3 796.5 L742.7 793.5 L743.0 799.4 L743.4 796.4 L743.7 802.8 L744.1 798.4 L744.4 805.3 L744.8 801.6 L745.1 808.7 L745.4 805.1 L745.8 811.7 L746.1 805.5 L746.4 815.0 L746.7 810.1 L747.1 817.1 L747.4 813.4 L747.7 820.8 L748.0 814.8 L748.4 823.2 L748.7 818.9 L749.0 826.3 L749.3 822.7 L749.8 829.2 L750.3 825.1 L750.7 832.5 L751.2 828.2 L751.7 835.1 L752.1 830.3 L752.6 837.6 L753.1 831.8 L753.5 840.6 L754.6 836.5 L755.6 842.4 L756.7 836.9 L757.7 844.9 L758.8 841.6 L760.3 846.8 L761.7 841.4 L763.2 848.6 L764.7 843.4 L766.1 848.8 L767.6 842.2 L769.1 848.0 L770.6 843.6 L772.1 848.0 L773.6 842.1 L775.1 848.8 L776.6 840.8 L778.1 847.5 L779.6 843.1 L781.1 847.3 L782.6 842.6 L784.1 848.9 L785.6 842.7 L787.1 847.0 L788.4 842.0 L789.7 846.3 L790.9 840.4 L792.2 844.7 L793.4 837.8 L794.5 844.0 L795.5 836.3 L796.6 840.2 L797.6 833.8 L798.5 840.9 L799.3 836.8 L800.2 842.5 L801.0 838.7 L801.8 845.4 L803.2 840.5 L804.5 845.0 L805.8 840.1 L807.1 845.3 L807.9 838.8 L808.8 843.1 L809.6 837.0 L810.5 840.7 L811.3 834.9 L812.1 840.7 L813.0 837.3 L813.8 842.7 L814.7 838.8 L815.5 845.1 L816.8 840.1 L818.1 846.0 L819.4 841.3 L820.8 847.2 L821.3 839.5 L821.8 845.1 L823.0 838.8 L824.3 843.9 L825.5 836.9 L826.8 843.3 L828.1 834.8 L829.1 840.2 L830.2 831.3 L831.2 837.0 L832.3 830.8 L833.3 834.9 L834.4 827.4 L835.4 834.2 L836.0 828.7 L836.6 835.9 L837.2 829.7 L837.8 837.5 L838.4 833.9 L839.0 840.9 L839.6 835.9 L840.3 842.2 L841.0 834.0 L841.7 838.0 L842.4 831.4 L843.1 836.2 L843.8 828.3 L844.3 832.5 L844.8 826.1 L845.4 829.7 L845.9 823.5 L846.4 826.9 L846.9 819.6 L847.4 824.2 L847.8 820.9 L848.3 827.7 L848.7 823.9 L849.2 830.4 L849.6 826.4 L850.0 833.2 L850.5 829.7 L850.9 836.2 L851.3 831.8 L851.8 839.8 L852.2 832.7 L852.9 838.9 L853.5 832.4 L854.2 835.5 L854.8 829.3 L855.5 833.1 L856.1 826.9 L856.8 829.9 L857.5 823.4 L858.1 827.4 L858.5 823.8 L858.9 830.1 L859.3 826.7 L859.6 833.6 L860.0 829.8 L860.4 837.2 L860.8 832.6 L861.2 838.7 L861.6 833.1 L862.0 841.7 L862.3 838.2 L862.7 844.1 L863.2 837.4 L863.7 841.4 L864.2 834.7 L864.7 838.7 L865.1 832.7 L865.6 837.3 L866.1 829.6 L866.6 834.8 L867.1 826.7 L867.6 830.3 L868.0 827.2 L868.5 834.7 L868.9 829.2 L869.3 836.4 L869.8 833.1 L870.2 839.3 L870.7 834.9 L871.1 842.3 L872.6 837.7 L874.1 843.5 L875.5 838.9 L877.0 844.4 L878.5 840.2 L880.1 845.5 L881.6 840.3 L883.2 845.6 L884.8 840.9 L886.4 845.7 L887.9 841.1 L889.5 847.4 L891.1 841.6 L892.3 847.8 L893.5 839.3 L894.8 844.9 L896.0 837.5 L897.2 841.6 L898.4 834.6 L899.8 842.5 L901.1 835.9 L902.4 841.8 L903.7 835.3 L905.0 843.8 L906.3 839.5 L907.6 846.6 L908.9 841.1 L909.8 846.3 L910.8 839.3 L911.7 843.6 L912.6 836.2 L913.5 840.4 L914.4 834.2 L915.3 839.0 L916.3 834.5 L917.4 841.0 L918.4 836.6 L919.5 844.0 L920.5 838.3 L921.9 845.4 L923.3 839.8 L924.7 845.9 L926.1 840.8 L927.5 847.7 L928.9 842.8 L930.4 848.0 L931.9 842.5 L933.4 847.9 L935.0 842.9 L936.5 847.7 L938.0 841.9 L939.5 848.6 L941.0 842.8 L942.5 848.2 L944.0 841.7 L945.5 848.0 L947.1 843.5 L948.6 848.5 L950.1 843.5 L951.6 847.8 L953.1 842.2 L954.6 847.8 L956.1 841.7 L957.6 848.5 L959.2 842.4 L960.7 848.6 L962.2 843.6 L963.7 847.9 L965.2 843.2 L966.7 848.7 L968.2 842.3 L969.7 848.1 L971.3 842.2 L972.8 848.8 L974.3 843.5 L975.8 848.4 L977.3 841.4 L978.8 848.8 L980.3 843.4 L981.8 848.2 L983.4 843.5 L984.9 848.0 L986.4 843.4 L987.9 849.1 L989.4 843.3 L990.9 848.7 L992.4 843.1 L993.9 848.0 L995.5 843.7 L997.0 848.9 L998.5 843.8 L1000.0 848.1 L1001.5 842.4 L1003.0 848.6" fill="none" stroke="#0a0808" stroke-width="2.1" stroke-linejoin="bevel" stroke-linecap="butt"/>
</g>
<g id="panel-b">
<line x1="2077.5" y1="862.4" x2="2077.5" y2="882.2" stroke="#3d3a39" stroke-width="4.0"/>
<line x1="2024.5" y1="871.4" x2="2024.5" y2="882.2" stroke="#3d3a39" stroke-width="4.0"/>
<line x1="1971.6" y1="862.4" x2="1971.6" y2="882.2" stroke="#3d3a39" stroke-width="4.0"/>
<line x1="1918.6" y1="871.4" x2="1918.6" y2="882.2" stroke="#3d3a39" stroke-width="4.0"/>
<line x1="1865.7" y1="862.4" x2="1865.7" y2="882.2" stroke="#3d3a39" stroke-width="4.0"/>
<line x1="1812.7" y1="871.4" x2="1812.7" y2="882.2" stroke="#3d3a39" stroke-width="4.0"/>
<line x1="1759.7" y1="862.4" x2="1759.7" y2="882.2" stroke="#3d3a39" stroke-width="4.0"/>
<line x1="1706.8" y1="871.4" x2="1706.8" y2="882.2" stroke="#3d3a39" stroke-width="4.0"/>
<line x1="1653.8" y1="862.4" x2="1653.8" y2="882.2" stroke="#3d3a39" stroke-width="4.0"/>
<line x1="1600.9" y1="871.4" x2="1600.9" y2="882.2" stroke="#3d3a39" stroke-width="4.0"/>
<line x1="1547.9" y1="862.4" x2="1547.9" y2="882.2" stroke="#3d3a39" stroke-width="4.0"/>
<line x1="1494.9" y1="871.4" x2="1494.9" y2="882.2" stroke="#3d3a39" stroke-width="4.0"/>
<line x1="1442.0" y1="862.4" x2="1442.0" y2="882.2" stroke="#3d3a39" stroke-width="4.0"/>
<line x1="1389.0" y1="871.4" x2="1389.0" y2="882.2" stroke="#3d3a39" stroke-width="4.0"/>
<line x1="1336.0" y1="862.4" x2="1336.0" y2="882.2" stroke="#3d3a39" stroke-width="4.0"/>
<line x1="1283.1" y1="871.4" x2="1283.1" y2="882.2" stroke="#3d3a39" stroke-width="4.0"/>
<line x1="1230.1" y1="862.4" x2="1230.1" y2="882.2" stroke="#3d3a39" stroke-width="4.0"/>
<line x1="1177.2" y1="871.4" x2="1177.2" y2="882.2" stroke="#3d3a39" stroke-width="4.0"/>
<line x1="1124.2" y1="862.4" x2="1124.2" y2="882.2" stroke="#3d3a39" stroke-width="4.0"/>
<line x1="1122.2" y1="882.2" x2="2079.5" y2="882.2" stroke="#282524" stroke-width="4.6"/>
<text x="2077.0" y="950.3" font-size="65" text-anchor="middle">0</text>
<text x="1971.1" y="950.3" font-size="65" text-anchor="middle">1</text>
<text x="1865.2" y="950.3" font-size="65" text-anchor="middle">2</text>
<text x="1759.2" y="950.3" font-size="65" text-anchor="middle">3</text>
<text x="1653.3" y="950.3" font-size="65" text-anchor="middle">4</text>
<text x="1547.4" y="950.3" font-size="65" text-anchor="middle">5</text>
<text x="1441.5" y="950.3" font-size="65" text-anchor="middle">6</text>
<text x="1335.5" y="950.3" font-size="65" text-anchor="middle">7</text>
<text x="1229.6" y="950.3" font-size="65" text-anchor="middle">8</text>
<text x="1123.7" y="950.3" font-size="65" text-anchor="middle">9</text>
<text x="1291.5" y="1040.5" font-size="68" textLength="621.0" lengthAdjust="spacingAndGlyphs">Chemical shift (ppm)</text>
<path d="M1124.2 843.5 L1126.4 842.8 L1128.5 844.4 L1130.7 843.3 L1132.9 843.2 L1135.1 844.1 L1137.3 843.5 L1139.5 844.1 L1141.7 843.6 L1143.9 844.7 L1146.1 844.9 L1148.3 843.4 L1150.5 843.8 L1152.7 843.6 L1154.9 842.7 L1157.1 842.4 L1159.3 844.9 L1161.5 844.8 L1163.7 844.7 L1165.8 844.8 L1168.0 844.1 L1170.2 843.5 L1172.4 843.6 L1174.6 843.2 L1176.8 843.0 L1179.0 843.8 L1181.2 844.8 L1183.4 844.3 L1185.6 843.2 L1187.8 842.8 L1190.0 843.0 L1192.2 842.7 L1194.4 844.8 L1196.6 843.9 L1198.8 842.9 L1200.9 843.4 L1203.1 843.4 L1205.3 843.8 L1207.5 843.3 L1209.7 842.5 L1211.9 844.7 L1214.1 844.2 L1216.3 843.5 L1218.5 842.8 L1220.7 842.5 L1222.9 842.5 L1225.1 842.5 L1227.3 842.7 L1229.5 843.6 L1231.7 842.5 L1233.9 844.3 L1236.0 844.4 L1238.2 844.2 L1240.4 843.8 L1242.6 842.8 L1244.8 844.4 L1247.0 844.9 L1249.2 844.5 L1251.4 843.2 L1253.6 844.5 L1255.8 842.9 L1258.0 844.1 L1260.2 844.0 L1262.4 844.8 L1264.6 842.5 L1266.8 843.5 L1269.0 842.5 L1271.2 842.6 L1273.3 844.8 L1275.5 844.8 L1277.7 844.4 L1279.9 844.3 L1282.1 843.8 L1284.3 844.8 L1286.5 843.0 L1288.7 842.6 L1290.9 844.7 L1293.1 844.8 L1295.3 842.5 L1297.5 843.2 L1299.5 842.3 L1301.5 843.4 L1303.5 838.9 L1304.8 830.7 L1305.6 832.0 L1307.0 839.3 L1309.0 842.7 L1311.5 842.3 L1314.0 841.8 L1316.0 838.1 L1317.3 829.3 L1318.3 830.7 L1319.6 838.0 L1322.0 843.1 L1323.9 844.4 L1325.8 842.5 L1328.0 842.8 L1330.3 844.1 L1332.5 843.4 L1334.7 844.6 L1336.9 842.9 L1339.1 843.2 L1341.3 843.8 L1343.5 844.4 L1345.7 842.9 L1347.9 843.2 L1350.1 844.6 L1352.3 843.3 L1354.6 843.2 L1356.8 842.9 L1359.0 844.8 L1361.2 844.4 L1363.4 844.3 L1365.6 842.5 L1367.8 842.9 L1370.0 844.9 L1372.2 844.9 L1374.4 843.6 L1376.6 843.1 L1378.8 843.5 L1381.1 844.7 L1383.3 843.3 L1385.5 844.0 L1387.7 843.9 L1389.9 843.3 L1392.1 844.8 L1394.3 844.8 L1396.5 844.7 L1398.7 843.0 L1400.9 843.0 L1403.1 842.7 L1405.3 845.0 L1407.6 842.8 L1409.8 843.9 L1412.0 844.7 L1414.2 843.3 L1416.4 843.8 L1418.6 844.6 L1420.8 843.6 L1423.0 842.7 L1425.2 845.2 L1427.4 842.9 L1429.6 845.1 L1431.9 844.0 L1434.1 843.7 L1436.3 844.0 L1438.5 844.2 L1440.7 843.4 L1442.9 844.2 L1445.1 843.0 L1447.3 844.3 L1449.5 842.8 L1451.7 845.2 L1453.9 844.4 L1456.1 843.2 L1458.4 842.9 L1460.6 842.9 L1462.8 845.2 L1465.0 844.4 L1467.2 844.8 L1469.4 845.2 L1471.6 844.3 L1473.8 844.5 L1476.0 844.6 L1478.2 844.2 L1480.4 843.7 L1482.6 844.4 L1484.9 843.7 L1487.1 845.2 L1489.3 844.3 L1491.5 845.4 L1493.7 845.4 L1495.9 843.2 L1498.1 843.5 L1500.0 845.3 L1502.2 844.9 L1504.4 843.6 L1506.6 844.0 L1508.8 844.9 L1510.9 843.3 L1513.1 843.5 L1515.3 845.5 L1517.5 843.2 L1519.7 845.0 L1521.9 843.5 L1524.1 845.0 L1526.3 842.9 L1528.4 844.3 L1530.6 843.3 L1532.8 844.0 L1535.0 843.0 L1537.2 843.4 L1539.4 844.7 L1541.6 845.0 L1543.8 842.9 L1546.0 843.0 L1548.1 844.2 L1550.3 842.9 L1552.5 843.4 L1554.6 843.5 L1556.7 841.4 L1558.8 841.1 L1560.9 840.2 L1563.0 836.0 L1565.1 832.3 L1567.2 827.5 L1569.3 817.4 L1571.4 806.7 L1573.9 781.5 L1575.2 752.1 L1576.1 710.1 L1576.9 688.0 L1578.2 710.1 L1579.0 737.4 L1579.8 678.6 L1580.3 584.0 L1580.5 500.0 L1579.7 48.4 M1581.3 48.4 L1581.9 500.0 L1582.4 668.1 L1583.0 752.1 L1584.0 804.6 L1585.7 828.0 L1588.2 838.9 L1590.3 839.6 L1592.4 841.7 L1594.5 843.4 L1596.6 843.3 L1598.7 845.0 L1600.8 844.4 L1602.9 844.9 L1605.0 843.9 L1607.1 845.1 L1609.2 844.3 L1611.3 843.2 L1613.4 843.7 L1615.5 844.1 L1617.6 843.4 L1620.8 838.6 L1623.9 844.1 L1626.4 844.2 L1628.9 843.9 L1631.3 842.9 L1634.5 835.8 L1637.6 842.9 L1640.0 842.2 L1642.3 843.9 L1644.7 843.3 L1647.1 844.7 L1649.2 843.8 L1651.3 843.8 L1653.4 844.2 L1655.5 843.6 L1657.6 843.5 L1659.7 845.1 L1661.8 843.5 L1663.9 844.2 L1666.0 845.0 L1668.1 844.3 L1670.2 843.5 L1672.3 841.6 L1674.4 840.6 L1676.5 832.8 L1678.6 825.1 L1681.7 819.9 L1684.9 814.8 L1687.6 809.0 L1689.5 794.2 L1690.5 773.1 L1691.0 741.6 L1691.2 714.3 L1693.3 668.1 L1694.3 584.0 L1695.0 500.0 L1693.9 48.4 M1696.9 48.4 L1697.5 500.0 L1698.1 626.0 L1698.5 710.1 L1698.7 773.1 L1699.2 824.4 L1700.6 811.0 L1702.7 799.9 L1704.2 815.3 L1705.9 820.5 L1708.0 820.3 L1710.1 831.7 L1712.2 838.2 L1714.3 835.8 L1716.4 834.0 L1718.5 831.0 L1720.6 827.5 L1722.7 822.3 L1724.8 817.3 L1726.9 794.2 L1729.0 752.2 L1730.7 710.0 L1731.7 704.8 L1733.2 741.7 L1734.5 777.3 L1735.7 710.1 L1737.4 631.9 L1739.1 710.1 L1740.5 773.1 L1742.2 799.9 L1744.1 798.4 L1745.8 821.6 L1747.9 834.0 L1749.8 833.4 L1751.7 833.9 L1753.2 815.0 L1754.2 805.7 L1755.5 819.3 L1756.7 833.3 L1759.1 835.5 L1761.6 838.0 L1763.7 838.5 L1765.8 840.3 L1767.9 837.2 L1770.0 833.9 L1773.1 810.9 L1776.3 773.1 L1779.4 746.0 L1781.5 764.7 L1783.6 788.9 L1785.3 710.1 L1786.6 584.1 L1787.8 524.2 L1789.5 584.0 L1791.0 689.1 L1792.0 773.1 L1793.5 815.5 L1796.2 825.1 L1798.8 827.1 L1801.5 828.9 L1804.2 815.1 L1806.3 731.1 L1808.8 649.1 L1810.9 731.1 L1812.6 815.2 L1814.1 829.5 L1816.7 826.1 L1819.3 824.9 L1821.4 817.8 L1823.5 810.9 L1825.6 752.1 L1826.9 668.1 L1828.2 604.9 L1829.8 622.1 L1831.5 614.5 L1833.0 668.1 L1834.5 752.1 L1836.1 804.6 L1838.7 828.1 L1841.1 832.7 L1843.5 838.9 L1845.9 839.8 L1848.2 841.1 L1850.6 840.6 L1852.9 843.3 L1855.0 843.0 L1857.1 843.5 L1859.2 844.6 L1861.3 845.6 L1863.4 845.8 L1865.5 843.5 L1867.6 843.4 L1869.7 845.7 L1871.8 845.3 L1873.9 843.5 L1876.1 845.3 L1878.2 844.0 L1880.3 844.2 L1882.4 842.0 L1884.5 836.2 L1886.6 843.1 L1888.7 842.6 L1890.8 843.6 L1892.9 843.3 L1895.0 843.4 L1897.1 844.8 L1899.2 843.8 L1901.0 843.0 L1902.8 844.0 L1904.9 842.2 L1907.0 840.7 L1909.1 841.0 L1911.2 840.0 L1913.3 841.4 L1915.4 840.8 L1917.5 840.8 L1919.9 838.3 L1922.4 838.0 L1924.8 836.7 L1927.5 838.6 L1930.1 838.6 L1932.2 839.7 L1934.3 839.8 L1936.4 838.1 L1938.5 839.6 L1940.6 839.4 L1942.7 842.0 L1944.8 841.6 L1946.9 843.0 L1949.0 842.7 L1951.1 843.3 L1953.2 843.0 L1955.3 842.6 L1957.4 843.3 L1959.5 844.9 L1961.6 842.6 L1963.7 843.2 L1965.8 842.7 L1967.9 843.4 L1970.0 843.0 L1972.1 842.2 L1974.2 841.6 L1976.3 843.0 L1978.4 841.4 L1980.5 841.5 L1982.6 843.0 L1984.7 842.5 L1986.8 842.9 L1988.9 841.7 L1991.0 842.1 L1993.1 842.0 L1995.2 842.7 L1997.3 841.8 L1999.4 841.7 L2001.5 841.7 L2003.6 843.6 L2005.7 842.5 L2007.8 844.0 L2009.9 844.1 L2012.0 843.8 L2014.1 843.2 L2016.3 845.2 L2018.5 844.8 L2020.7 845.4 L2023.0 844.3 L2025.2 843.7 L2027.4 843.7 L2029.6 843.4 L2031.8 845.3 L2034.0 845.0 L2036.2 845.7 L2038.4 845.0 L2040.6 845.8 L2042.8 845.8 L2045.1 845.5 L2047.3 845.2 L2049.5 843.9 L2051.7 846.0 L2053.9 844.5 L2056.1 844.6 L2058.3 844.7 L2060.5 845.5 L2062.7 843.9 L2064.9 845.4 L2067.1 845.7 L2069.4 845.2 L2071.6 846.0 L2073.8 843.8 L2076.0 845.6 L2078.2 845.2" fill="none" stroke="#0a0808" stroke-width="3.1" stroke-linejoin="bevel" stroke-linecap="butt"/><path d="M1124.2 846.1 L1125.7 841.6 L1127.1 845.9 L1128.6 841.0 L1130.1 847.0 L1131.6 841.2 L1133.1 848.6 L1134.6 840.6 L1136.1 846.1 L1137.6 841.6 L1139.1 846.0 L1140.6 840.9 L1142.1 846.1 L1143.6 841.4 L1145.1 846.7 L1146.6 841.4 L1148.1 846.0 L1149.6 841.4 L1151.1 846.1 L1152.5 841.2 L1154.0 845.9 L1155.5 841.4 L1157.0 846.1 L1158.5 840.0 L1160.0 845.9 L1161.5 840.9 L1163.0 846.5 L1164.5 841.1 L1166.0 846.8 L1167.5 839.1 L1169.0 846.6 L1170.5 840.0 L1172.0 846.1 L1173.5 841.2 L1175.0 845.9 L1176.5 841.4 L1177.9 846.1 L1179.4 841.3 L1180.9 846.3 L1182.4 841.4 L1183.9 845.9 L1185.4 841.6 L1186.9 846.4 L1188.4 841.5 L1189.9 846.0 L1191.4 841.2 L1192.9 846.8 L1194.4 840.4 L1195.9 847.3 L1197.4 840.2 L1198.9 846.0 L1200.4 840.9 L1201.9 846.3 L1203.3 841.2 L1204.8 846.2 L1206.3 840.5 L1207.8 846.3 L1209.3 841.3 L1210.8 846.1 L1212.3 840.9 L1213.8 846.2 L1215.3 841.2 L1216.8 848.0 L1218.3 841.5 L1219.8 846.4 L1221.3 841.6 L1222.8 847.1 L1224.3 841.0 L1225.8 846.4 L1227.3 839.6 L1228.7 846.0 L1230.2 841.0 L1231.7 846.5 L1233.2 840.3 L1234.7 846.8 L1236.2 840.3 L1237.7 846.1 L1239.2 841.4 L1240.7 845.9 L1242.2 841.6 L1243.7 846.3 L1245.2 840.1 L1246.7 846.3 L1248.2 841.0 L1249.7 848.6 L1251.2 841.2 L1252.7 846.1 L1254.1 841.5 L1255.6 846.4 L1257.1 841.5 L1258.6 846.6 L1260.1 841.6 L1261.6 847.5 L1263.1 841.5 L1264.6 847.1 L1266.1 840.8 L1267.6 846.4 L1269.1 841.3 L1270.6 846.0 L1272.1 841.2 L1273.6 846.3 L1275.1 841.0 L1276.6 846.1 L1278.1 839.2 L1279.5 846.6 L1281.0 840.0 L1282.5 846.8 L1284.0 841.5 L1285.5 847.2 L1287.0 841.4 L1288.5 845.9 L1290.0 840.8 L1291.5 846.1 L1293.0 841.6 L1294.5 846.3 L1296.0 840.8 L1297.5 846.6 L1298.8 841.1 L1300.2 845.6 L1301.5 840.6 L1302.2 844.1 L1302.8 837.8 L1303.5 841.2 L1303.8 834.6 L1304.0 838.3 L1304.3 832.5 L1304.5 836.0 L1304.8 829.8 L1305.6 834.7 L1305.9 831.1 L1306.2 837.5 L1306.4 833.6 L1306.7 839.7 L1307.0 836.9 L1308.0 843.7 L1309.0 838.8 L1310.7 845.5 L1312.3 839.9 L1314.0 844.3 L1314.7 837.9 L1315.3 842.3 L1316.0 835.8 L1316.3 838.8 L1316.5 830.8 L1316.8 836.0 L1317.0 828.5 L1317.3 832.8 L1318.3 827.6 L1318.6 834.8 L1318.8 831.3 L1319.1 837.9 L1319.3 833.7 L1319.6 840.1 L1320.2 836.8 L1320.8 843.4 L1321.4 839.3 L1322.0 845.5 L1323.3 840.1 L1324.6 846.3 L1325.8 841.3 L1327.3 846.5 L1328.8 840.6 L1330.3 846.6 L1331.8 841.4 L1333.3 847.1 L1334.8 840.9 L1336.3 846.4 L1337.8 841.5 L1339.3 846.0 L1340.8 841.2 L1342.3 845.9 L1343.8 840.2 L1345.3 846.0 L1346.8 841.0 L1348.3 846.8 L1349.8 841.5 L1351.3 845.9 L1352.8 840.6 L1354.3 845.9 L1355.8 841.2 L1357.3 846.0 L1358.8 841.5 L1360.3 847.0 L1361.8 841.0 L1363.3 846.0 L1364.8 841.1 L1366.3 847.5 L1367.8 841.3 L1369.3 847.3 L1370.8 841.5 L1372.3 847.3 L1373.8 841.0 L1375.3 846.1 L1376.8 840.2 L1378.3 846.2 L1379.8 840.7 L1381.3 846.0 L1382.8 841.7 L1384.3 847.5 L1385.8 841.3 L1387.3 847.6 L1388.8 841.7 L1390.3 846.0 L1391.8 841.7 L1393.2 847.0 L1394.7 840.9 L1396.2 847.5 L1397.7 841.7 L1399.2 848.8 L1400.7 841.7 L1402.2 846.2 L1403.7 841.7 L1405.2 847.2 L1406.7 841.7 L1408.2 846.0 L1409.7 840.1 L1411.2 846.2 L1412.7 840.1 L1414.2 847.4 L1415.7 840.9 L1417.2 846.1 L1418.7 841.8 L1420.2 847.5 L1421.7 840.3 L1423.2 846.9 L1424.7 841.0 L1426.2 846.2 L1427.7 841.7 L1429.2 847.4 L1430.7 841.4 L1432.2 847.6 L1433.7 841.6 L1435.2 846.6 L1436.7 841.5 L1438.2 847.0 L1439.7 841.7 L1441.2 846.2 L1442.7 841.8 L1444.2 846.9 L1445.7 840.9 L1447.2 847.1 L1448.7 839.7 L1450.2 846.4 L1451.7 841.1 L1453.2 847.4 L1454.7 841.4 L1456.2 846.1 L1457.7 841.3 L1459.2 846.4 L1460.7 840.1 L1462.2 847.1 L1463.7 840.7 L1465.2 846.4 L1466.7 841.3 L1468.1 848.2 L1469.6 841.0 L1471.1 846.4 L1472.6 841.5 L1474.1 846.5 L1475.6 841.9 L1477.1 846.2 L1478.6 841.9 L1480.1 846.4 L1481.6 839.2 L1483.1 847.2 L1484.6 841.9 L1486.1 846.6 L1487.6 840.9 L1489.1 846.2 L1490.6 841.5 L1492.1 846.5 L1493.6 842.0 L1495.1 847.9 L1496.6 839.2 L1498.1 846.3 L1500.0 842.2 L1501.5 846.9 L1503.0 841.0 L1504.5 846.9 L1506.0 841.6 L1507.5 847.1 L1509.0 841.9 L1510.5 846.6 L1512.0 842.1 L1513.5 846.8 L1515.0 841.7 L1516.5 846.5 L1518.0 841.3 L1519.5 846.3 L1521.0 842.0 L1522.5 846.7 L1524.0 841.3 L1525.5 847.0 L1527.0 841.4 L1528.5 846.9 L1530.0 841.7 L1531.5 846.1 L1533.0 841.5 L1534.5 846.0 L1536.0 841.5 L1537.5 846.4 L1539.0 841.0 L1540.5 845.9 L1542.0 840.6 L1543.5 845.9 L1545.0 841.4 L1546.5 845.8 L1548.0 840.7 L1549.5 846.0 L1551.0 841.2 L1552.5 846.1 L1553.9 838.1 L1555.3 844.6 L1556.7 839.4 L1558.1 844.4 L1559.5 838.1 L1560.9 842.8 L1561.6 836.7 L1562.3 839.9 L1563.0 833.4 L1563.7 839.3 L1564.4 831.1 L1565.1 835.2 L1565.8 828.4 L1566.5 832.0 L1567.2 825.6 L1567.5 828.6 L1567.8 822.4 L1568.1 825.7 L1568.4 819.5 L1568.7 822.6 L1569.0 816.0 L1569.3 820.4 L1569.6 813.2 L1569.9 817.1 L1570.2 810.4 L1570.5 813.4 L1570.8 807.5 L1571.1 810.5 L1571.4 803.7 L1571.6 807.6 L1571.7 798.9 L1571.9 804.7 L1572.0 798.4 L1572.2 801.5 L1572.3 794.6 L1572.5 798.8 L1572.6 792.3 L1572.8 797.1 L1572.9 789.2 L1573.1 792.8 L1573.2 786.4 L1573.4 790.0 L1573.5 783.7 L1573.7 789.1 L1573.8 780.3 L1573.9 784.0 L1574.0 775.5 L1574.1 782.3 L1574.1 774.4 L1574.2 778.9 L1574.3 771.7 L1574.3 775.2 L1574.4 769.0 L1574.5 772.1 L1574.5 765.7 L1574.6 770.6 L1574.6 763.2 L1574.7 768.8 L1574.8 760.0 L1574.8 764.7 L1574.9 756.5 L1575.0 760.5 L1575.0 753.0 L1575.1 757.3 L1575.1 750.7 M1576.1 712.7 L1576.1 706.2 L1576.2 709.3 L1576.2 703.4 L1576.3 709.1 L1576.3 700.5 L1576.4 704.2 L1576.4 697.3 L1576.5 700.7 L1576.6 691.9 L1576.6 697.7 L1576.7 691.8 L1576.7 694.6 L1576.8 688.9 L1576.8 691.7 L1576.9 685.6 L1577.0 691.8 L1577.1 688.7 L1577.1 694.8 L1577.2 690.7 L1577.3 699.5 L1577.4 694.5 L1577.5 701.6 L1577.6 695.7 L1577.6 704.7 L1577.7 699.6 L1577.8 707.0 L1577.9 703.4 L1578.0 711.1 L1578.1 705.7 L1578.2 715.0 L1578.2 709.4 L1578.2 716.4 L1578.3 711.4 L1578.3 719.0 L1578.4 714.8 L1578.4 721.4 L1578.5 718.2 L1578.5 724.9 L1578.6 718.8 L1578.6 728.2 L1578.7 724.2 L1578.7 731.1 L1578.8 727.6 L1578.8 735.3 L1578.9 730.2 L1578.9 736.8 L1578.9 732.5 M1584.0 806.8 L1584.1 804.0 L1584.3 809.8 L1584.4 807.0 L1584.5 814.0 L1584.6 809.7 L1584.7 816.1 L1584.8 813.2 L1584.9 819.7 L1585.0 816.2 L1585.2 822.4 L1585.3 818.6 L1585.4 825.9 L1585.5 822.4 L1585.6 830.0 L1585.7 823.9 L1586.1 832.4 L1586.4 828.2 L1586.8 835.0 L1587.2 830.1 L1587.5 837.4 L1587.9 834.2 L1588.2 841.0 L1589.3 836.2 L1590.3 843.6 L1591.4 839.2 L1592.4 844.7 L1594.0 838.8 L1595.6 846.5 L1597.2 841.4 L1598.7 847.4 L1600.2 842.1 L1601.6 846.6 L1603.1 841.5 L1604.6 847.1 L1606.0 841.2 L1607.5 846.7 L1608.9 841.8 L1610.4 846.0 L1611.8 840.6 L1613.3 846.1 L1614.7 841.4 L1616.2 845.7 L1617.6 841.1 L1618.4 846.4 L1619.2 838.7 L1620.0 842.6 L1620.8 836.5 L1621.6 842.2 L1622.4 836.6 L1623.2 844.9 L1623.9 840.5 L1625.4 845.5 L1626.9 840.8 L1628.4 845.0 L1629.8 840.4 L1631.3 845.0 L1631.9 838.3 L1632.6 842.4 L1633.2 836.5 L1633.8 840.1 L1634.5 833.4 L1635.1 839.6 L1635.7 835.9 L1636.3 842.3 L1637.0 838.6 L1637.6 846.5 L1639.2 839.0 L1640.8 845.9 L1642.3 840.6 L1643.9 846.5 L1645.5 841.9 L1647.1 847.2 L1648.6 842.3 L1650.1 848.9 L1651.6 842.1 L1653.1 847.0 L1654.6 841.9 L1656.1 847.0 L1657.6 842.3 L1659.1 847.2 L1660.6 842.3 L1662.1 846.8 L1663.6 842.1 L1665.1 846.7 L1666.6 840.4 L1668.1 847.6 L1669.3 841.4 L1670.6 846.6 L1671.8 838.2 L1673.1 843.9 L1674.4 837.8 L1674.8 841.4 L1675.2 835.2 L1675.6 838.8 L1676.1 831.7 L1676.5 835.9 L1676.9 829.2 L1677.3 832.2 L1677.7 826.5 L1678.2 830.3 L1678.6 823.4 L1679.2 826.5 L1679.8 821.0 L1680.5 825.0 L1681.1 818.2 L1681.7 821.5 L1682.5 815.9 L1683.3 819.6 L1684.1 812.2 L1684.9 817.7 L1685.4 811.2 L1686.0 815.3 L1686.5 807.8 L1687.1 812.5 L1687.6 806.4 L1687.8 810.3 L1688.0 803.6 L1688.2 806.6 L1688.4 800.8 L1688.6 804.0 L1688.7 797.3 L1688.9 800.7 L1689.1 793.5 L1689.3 797.9 L1689.5 791.7 L1689.6 795.2 L1689.6 788.3 L1689.7 792.3 L1689.8 785.5 L1689.9 790.9 L1689.9 782.1 L1690.0 785.7 L1690.1 778.7 L1690.2 783.2 L1690.2 776.6 L1690.3 779.7 L1690.4 773.5 L1690.5 777.0 M1691.2 712.1 L1691.2 716.0 L1691.3 708.9 L1691.4 713.1 L1691.4 706.0 L1691.5 709.3 L1691.6 701.9 L1691.7 706.0 L1691.7 698.8 L1691.8 703.6 L1691.9 697.0 L1691.9 701.1 L1692.0 694.2 L1692.1 697.5 L1692.1 691.1 L1692.2 695.0 L1692.3 688.2 L1692.3 691.3 L1692.4 684.6 L1692.5 688.4 L1692.5 680.7 L1692.6 686.3 L1692.7 679.4 L1692.7 682.4 L1692.8 676.3 L1692.9 679.8 L1692.9 672.8 L1693.0 676.9 L1693.1 668.6 L1693.1 673.7 L1693.2 667.0 M1699.2 827.5 L1699.3 820.8 L1699.5 823.8 L1699.6 817.8 L1699.8 820.8 L1700.0 814.5 L1700.1 819.5 L1700.3 809.1 L1700.5 815.9 L1700.6 807.6 L1700.9 812.3 L1701.2 805.2 L1701.5 809.2 L1701.8 801.8 L1702.1 805.4 L1702.4 798.9 L1702.7 803.2 L1702.9 799.2 L1703.0 805.4 L1703.2 802.4 L1703.3 808.8 L1703.5 805.3 L1703.6 814.0 L1703.8 808.0 L1703.9 815.0 L1704.1 811.3 L1704.2 817.9 L1704.6 813.6 L1705.0 820.6 L1705.5 817.3 L1705.9 823.7 L1706.9 818.8 L1708.0 822.7 L1708.2 818.4 L1708.5 825.8 L1708.8 821.8 L1709.0 828.8 L1709.3 825.4 L1709.6 831.7 L1709.8 828.1 L1710.1 835.0 L1710.6 831.4 L1711.1 838.2 L1711.7 834.0 L1712.2 841.1 L1713.2 834.3 L1714.3 838.6 L1715.3 832.1 L1716.4 836.5 L1717.2 830.2 L1718.1 833.9 L1718.9 827.4 L1719.7 831.4 L1720.6 825.1 L1721.1 829.9 L1721.6 820.6 L1722.2 826.3 L1722.7 818.3 L1723.2 824.0 L1723.7 817.7 L1724.3 821.0 L1724.8 814.8 L1724.9 818.5 L1725.1 811.5 L1725.2 815.0 L1725.4 808.9 L1725.5 812.1 L1725.6 803.1 L1725.8 809.8 L1725.9 802.3 L1726.1 805.5 L1726.2 799.4 L1726.3 802.5 L1726.5 796.4 L1726.6 799.3 L1726.8 793.2 L1726.9 796.3 L1727.0 790.3 L1727.0 793.3 L1727.1 786.6 L1727.2 790.2 L1727.3 783.3 L1727.3 787.3 L1727.4 781.5 L1727.5 784.4 L1727.6 778.4 L1727.6 783.0 L1727.7 774.3 L1727.8 778.6 L1727.9 771.4 L1727.9 775.8 L1728.0 768.1 L1728.1 773.1 L1728.2 766.4 L1728.2 769.7 L1728.3 763.0 L1728.4 766.5 L1728.5 759.1 L1728.5 763.4 L1728.6 757.4 L1728.7 760.7 L1728.8 754.4 L1728.8 757.2 L1728.9 751.3 L1729.0 754.5 L1729.1 745.7 L1729.1 751.5 L1729.2 742.7 L1729.2 749.0 L1729.3 742.3 L1729.4 745.2 L1729.4 737.8 L1729.5 743.2 L1729.5 735.1 L1729.6 739.3 L1729.7 733.4 L1729.7 736.7 L1729.8 730.2 L1729.8 733.6 L1729.9 727.4 L1730.0 731.9 L1730.0 723.9 L1730.1 727.9 L1730.1 720.4 L1730.2 727.0 L1730.3 718.3 L1730.3 721.2 L1730.4 715.2 L1730.4 718.5 L1730.5 711.9 L1730.6 716.0 L1730.6 709.2 L1730.7 713.1 L1730.9 706.0 L1731.2 709.6 L1731.5 702.9 L1731.7 707.1 L1731.8 703.7 L1731.8 711.2 L1731.9 705.1 L1732.0 713.8 L1732.0 709.8 L1732.1 715.8 L1732.1 711.9 L1732.2 718.7 L1732.3 715.2 L1732.3 723.7 L1732.4 716.4 L1732.4 725.4 L1732.5 721.3 L1732.5 728.1 L1732.6 724.2 L1732.7 730.5 L1732.7 726.0 L1732.8 734.2 L1732.8 730.4 L1732.9 737.1 L1733.0 733.3 L1733.0 742.1 L1733.1 736.1 L1733.1 745.0 L1733.2 738.6 L1733.2 745.2 L1733.3 741.0 L1733.4 748.2 L1733.4 744.6 L1733.5 751.4 L1733.5 747.6 L1733.6 755.1 L1733.6 750.0 L1733.7 757.3 L1733.7 753.4 L1733.8 760.2 L1733.8 756.6 L1733.9 763.0 L1733.9 759.7 L1734.0 766.6 L1734.0 763.1 L1734.1 769.1 L1734.1 765.5 L1734.2 773.0 L1734.2 768.9 L1734.3 775.3 L1734.3 771.0 L1734.4 778.9 M1740.5 770.9 L1740.6 777.3 L1740.7 773.4 L1740.8 780.2 L1740.9 776.8 L1741.0 784.2 L1741.1 779.8 L1741.2 786.3 L1741.3 782.9 L1741.4 789.8 L1741.5 785.8 L1741.6 792.8 L1741.7 788.8 L1741.8 795.7 L1741.9 792.1 L1741.9 799.3 L1742.0 794.2 L1742.1 801.7 L1742.2 798.2 L1743.2 801.8 L1744.1 796.2 L1744.2 802.4 L1744.3 799.0 L1744.5 806.6 L1744.6 801.6 L1744.7 808.2 L1744.8 804.2 L1744.9 811.3 L1745.0 805.7 L1745.1 814.5 L1745.2 811.6 L1745.4 817.8 L1745.5 813.5 L1745.6 820.5 L1745.7 817.6 L1745.8 824.9 L1746.1 820.5 L1746.3 826.7 L1746.6 823.0 L1746.8 830.3 L1747.1 826.4 L1747.4 832.2 L1747.6 827.1 L1747.9 835.2 L1749.2 830.6 L1750.4 836.0 L1751.7 829.5 L1751.8 835.3 L1751.9 828.5 L1752.0 831.8 L1752.1 825.6 L1752.2 831.7 L1752.4 822.3 L1752.5 826.1 L1752.6 818.9 L1752.7 823.5 L1752.8 815.6 L1752.9 820.4 L1753.0 812.2 L1753.2 818.6 L1753.3 810.7 L1753.5 814.5 L1753.7 807.7 L1753.9 811.0 L1754.0 804.9 L1754.2 807.8 L1754.3 804.9 L1754.5 811.3 L1754.6 806.1 L1754.8 814.8 L1754.9 811.0 L1755.0 817.5 L1755.2 813.9 L1755.3 820.1 L1755.5 817.1 L1755.6 823.7 L1755.7 818.6 L1755.8 826.2 L1756.0 822.6 L1756.1 831.3 L1756.2 825.8 L1756.3 832.9 L1756.5 828.4 L1756.6 834.8 L1756.7 831.1 L1757.9 837.0 L1759.1 833.0 L1760.3 838.9 L1761.6 834.6 L1762.6 840.8 L1763.7 836.6 L1764.7 842.0 L1765.8 837.9 L1766.6 841.8 L1767.4 834.7 L1768.3 838.9 L1769.1 833.1 L1770.0 836.3 L1770.2 829.3 L1770.4 834.5 L1770.5 827.0 L1770.7 830.8 L1770.9 821.9 L1771.1 827.5 L1771.3 821.7 L1771.5 824.6 L1771.7 818.5 L1771.9 822.9 L1772.1 814.7 L1772.3 819.7 L1772.5 813.1 L1772.7 816.2 L1772.9 808.6 L1773.1 813.0 L1773.2 806.7 L1773.4 811.9 L1773.5 803.5 L1773.6 807.2 L1773.7 799.6 L1773.9 804.3 L1774.0 797.4 L1774.1 801.7 L1774.2 795.2 L1774.4 798.3 L1774.5 791.7 L1774.6 795.1 L1774.7 789.0 L1774.9 792.6 L1775.0 785.8 L1775.1 789.3 L1775.3 782.3 L1775.4 787.5 L1775.5 780.0 L1775.6 782.8 L1775.8 774.3 L1775.9 780.4 L1776.0 774.0 L1776.1 778.5 L1776.3 769.6 L1776.4 773.9 L1776.6 767.5 L1776.8 770.8 L1777.0 764.6 L1777.1 767.7 L1777.3 761.4 L1777.5 764.7 L1777.7 757.4 L1777.8 762.4 L1778.0 755.0 L1778.2 758.9 L1778.4 752.8 L1778.5 755.5 L1778.7 749.4 L1778.9 752.5 L1779.1 746.7 L1779.2 749.7 L1779.4 743.7 L1779.6 750.3 L1779.7 746.0 L1779.9 753.3 L1780.1 749.1 L1780.2 755.3 L1780.4 752.4 L1780.5 759.7 L1780.7 754.4 L1780.9 761.1 L1781.0 758.1 L1781.2 764.0 L1781.4 760.8 L1781.5 767.9 L1781.6 764.0 L1781.8 771.2 L1781.9 766.9 L1782.0 773.7 L1782.2 769.5 L1782.3 777.0 L1782.4 772.1 L1782.6 778.9 L1782.7 775.0 L1782.8 782.1 L1783.0 779.2 L1783.1 785.2 L1783.2 782.2 L1783.4 788.1 L1783.5 785.1 M1792.0 775.5 L1792.1 772.2 L1792.1 778.6 L1792.2 775.0 L1792.2 781.3 L1792.3 778.2 L1792.3 784.8 L1792.4 781.3 L1792.4 787.6 L1792.5 784.4 L1792.5 791.2 L1792.6 787.5 L1792.6 793.5 L1792.7 789.7 L1792.8 796.4 L1792.8 793.2 L1792.9 799.8 L1792.9 796.4 L1793.0 802.4 L1793.0 799.2 L1793.1 805.8 L1793.1 801.8 L1793.2 808.8 L1793.2 804.8 L1793.3 811.3 L1793.3 808.3 L1793.4 815.0 L1793.4 811.2 L1793.5 817.6 L1793.9 814.1 L1794.3 820.4 L1794.7 817.0 L1795.0 823.4 L1795.4 819.6 L1795.8 826.5 L1796.2 821.3 L1797.5 829.0 L1798.8 822.1 L1800.2 831.1 L1801.5 826.6 L1801.8 829.9 L1802.1 823.5 L1802.4 829.1 L1802.7 820.0 L1803.0 824.5 L1803.3 814.8 L1803.6 820.8 L1803.9 813.4 M1806.3 733.6 L1806.3 727.2 L1806.4 730.4 L1806.4 724.4 L1806.5 727.5 L1806.5 721.2 L1806.6 725.3 L1806.6 718.4 L1806.7 722.3 L1806.7 715.4 L1806.8 720.3 L1806.8 712.6 L1806.9 715.6 L1806.9 709.5 L1806.9 712.6 L1807.0 703.8 L1807.0 711.7 L1807.1 703.4 L1807.1 706.7 L1807.2 698.5 L1807.2 703.7 L1807.3 697.4 L1807.3 701.6 L1807.4 694.4 L1807.4 698.1 L1807.4 691.7 L1807.5 695.1 L1807.5 688.8 L1807.6 692.6 L1807.6 683.2 L1807.7 688.6 L1807.7 682.8 L1807.8 685.5 L1807.8 679.3 L1807.9 682.7 L1807.9 675.6 L1808.0 680.9 L1808.0 673.2 L1808.0 676.7 L1808.1 668.9 L1808.1 673.6 L1808.2 667.1 L1808.2 671.2 L1808.3 664.5 L1808.3 667.7 L1808.4 660.9 L1808.4 667.4 L1808.5 658.9 L1808.5 661.7 L1808.5 655.3 L1808.6 658.7 L1808.6 652.1 L1808.7 656.9 L1808.7 649.6 L1808.8 652.9 M1812.6 812.8 L1812.8 818.8 L1812.9 814.4 L1813.1 821.9 L1813.3 818.2 L1813.4 824.9 L1813.6 821.7 L1813.7 827.9 L1813.9 824.9 L1814.1 831.0 L1815.4 825.4 L1816.7 829.9 L1818.0 822.5 L1819.3 826.8 L1819.7 821.1 L1820.2 824.0 L1820.6 818.4 L1821.0 821.3 L1821.4 815.4 L1821.8 818.8 L1822.3 812.8 L1822.7 816.7 L1823.1 810.0 L1823.5 815.0 L1823.6 807.1 L1823.6 812.2 L1823.7 804.0 L1823.7 807.4 L1823.8 799.9 L1823.9 804.3 L1823.9 797.5 L1824.0 801.5 L1824.0 795.2 L1824.1 797.9 L1824.1 791.3 L1824.2 795.5 L1824.2 787.2 L1824.3 792.6 L1824.3 785.9 L1824.4 789.2 L1824.4 783.1 L1824.5 786.0 L1824.6 779.5 L1824.6 784.3 L1824.7 777.1 L1824.7 780.0 L1824.8 773.0 L1824.8 776.9 L1824.9 769.5 L1824.9 775.5 L1825.0 767.6 L1825.0 771.3 L1825.1 764.4 L1825.1 769.6 L1825.2 762.1 L1825.3 764.8 L1825.3 758.0 L1825.4 761.8 L1825.4 755.7 L1825.5 759.1 L1825.5 752.8 L1825.6 755.8 M1828.2 602.8 L1828.3 609.1 L1828.5 605.6 L1828.6 612.2 L1828.8 608.9 L1828.9 615.4 L1829.1 611.5 L1829.2 618.2 L1829.4 614.9 L1829.5 621.7 L1829.7 618.2 L1829.8 624.5 L1830.2 618.2 L1830.5 621.2 L1830.8 614.3 L1831.2 620.4 M1834.5 749.5 L1834.5 756.2 L1834.5 752.9 L1834.6 758.9 L1834.6 755.7 L1834.7 761.8 L1834.7 758.9 L1834.8 764.9 L1834.8 761.3 L1834.9 768.4 L1834.9 764.1 L1835.0 771.0 L1835.0 767.4 L1835.1 774.2 L1835.1 770.8 L1835.2 777.1 L1835.2 772.1 L1835.3 780.1 L1835.3 775.6 L1835.4 782.9 L1835.4 779.8 L1835.5 785.9 L1835.5 782.8 L1835.6 789.7 L1835.6 785.9 L1835.7 792.6 L1835.7 788.7 L1835.8 795.0 L1835.8 792.0 L1835.8 797.7 L1835.9 793.5 L1835.9 802.0 L1836.0 797.7 L1836.0 804.4 L1836.1 799.1 L1836.1 807.1 L1836.3 804.0 L1836.5 810.9 L1836.6 806.9 L1836.8 813.0 L1837.0 807.4 L1837.1 816.2 L1837.3 812.1 L1837.5 819.5 L1837.6 816.2 L1837.8 822.3 L1838.0 818.9 L1838.2 825.3 L1838.3 822.2 L1838.5 828.3 L1838.7 824.9 L1839.3 831.5 L1839.9 827.6 L1840.5 834.2 L1841.1 829.5 L1841.7 837.2 L1842.3 832.3 L1842.9 839.1 L1843.5 836.0 L1844.8 841.1 L1846.2 837.1 L1847.5 842.3 L1848.9 838.3 L1850.2 843.4 L1851.6 838.7 L1852.9 845.7 L1854.3 840.0 L1855.7 845.7 L1857.1 839.5 L1858.5 846.6 L1859.9 840.0 L1861.3 847.7 L1862.9 842.1 L1864.4 847.6 L1865.9 842.3 L1867.5 848.8 L1869.0 842.1 L1870.5 847.2 L1872.0 842.2 L1873.6 847.6 L1875.1 840.2 L1876.6 847.1 L1878.2 842.1 L1879.6 846.0 L1881.0 840.7 L1882.4 845.3 L1882.9 838.3 L1883.4 842.2 L1883.9 833.5 L1884.5 838.4 L1885.0 835.4 L1885.5 841.6 L1886.0 838.0 L1886.6 845.1 L1888.0 841.0 L1889.4 846.2 L1890.8 840.2 L1892.2 847.4 L1893.6 842.2 L1895.0 846.8 L1896.4 842.1 L1897.8 846.7 L1899.2 841.9 L1900.4 846.6 L1901.6 840.9 L1902.8 846.4 L1904.3 839.8 L1905.9 845.5 L1907.5 839.3 L1909.1 843.2 L1910.5 838.3 L1911.9 843.6 L1913.3 837.9 L1914.7 842.5 L1916.1 835.4 L1917.5 842.5 L1918.9 837.0 L1920.4 841.2 L1921.9 834.9 L1923.4 840.7 L1924.8 834.1 L1926.1 839.8 L1927.5 834.2 L1928.8 840.7 L1930.1 834.2 L1931.7 841.5 L1933.2 836.7 L1934.8 841.2 L1936.4 835.9 L1938.0 842.5 L1939.5 835.6 L1941.1 842.6 L1942.7 838.6 L1944.2 843.4 L1945.6 839.4 L1947.1 844.2 L1948.6 840.0 L1950.0 844.7 L1951.5 840.6 L1953.0 845.7 L1954.5 840.0 L1955.9 846.3 L1957.4 841.2 L1958.9 846.0 L1960.3 840.8 L1961.8 846.5 L1963.3 841.1 L1964.7 845.9 L1966.2 840.6 L1967.7 846.0 L1969.2 839.2 L1970.6 845.1 L1972.1 839.8 L1973.6 844.7 L1975.1 839.5 L1976.6 845.5 L1978.1 839.9 L1979.6 844.3 L1981.1 838.1 L1982.6 844.4 L1984.1 838.8 L1985.6 844.3 L1987.1 839.9 L1988.6 845.4 L1990.1 838.8 L1991.6 845.6 L1993.1 839.7 L1994.6 844.9 L1996.1 839.8 L1997.6 845.3 L1999.1 839.5 L2000.6 844.9 L2002.1 840.1 L2003.6 845.6 L2005.1 841.0 L2006.6 845.6 L2008.1 841.4 L2009.6 846.2 L2011.1 840.0 L2012.6 846.5 L2014.1 841.4 L2015.6 846.4 L2017.1 842.0 L2018.6 847.1 L2020.1 841.3 L2021.6 846.5 L2023.1 841.4 L2024.5 847.7 L2026.0 841.9 L2027.5 846.9 L2029.0 841.9 L2030.5 847.1 L2032.0 841.8 L2033.5 847.7 L2035.0 840.9 L2036.5 847.5 L2038.0 842.3 L2039.4 847.9 L2040.9 841.9 L2042.4 848.1 L2043.9 842.3 L2045.4 847.8 L2046.9 841.2 L2048.4 847.1 L2049.9 841.9 L2051.4 846.8 L2052.9 842.5 L2054.4 847.3 L2055.8 841.6 L2057.3 847.1 L2058.8 842.7 L2060.3 849.8 L2061.8 841.7 L2063.3 847.8 L2064.8 842.3 L2066.3 847.9 L2067.8 842.6 L2069.3 847.2 L2070.7 842.8 L2072.2 847.3 L2073.7 841.0 L2075.2 847.4 L2076.7 842.3" fill="none" stroke="#0a0808" stroke-width="2.1" stroke-linejoin="bevel" stroke-linecap="butt"/>
</g>
<g id="panel-c">
<line x1="1002.5" y1="1972.9" x2="1002.5" y2="1991.7" stroke="#3d3a39" stroke-width="4.0"/>
<line x1="949.6" y1="1980.9" x2="949.6" y2="1991.7" stroke="#3d3a39" stroke-width="4.0"/>
<line x1="896.7" y1="1972.9" x2="896.7" y2="1991.7" stroke="#3d3a39" stroke-width="4.0"/>
<line x1="843.8" y1="1980.9" x2="843.8" y2="1991.7" stroke="#3d3a39" stroke-width="4.0"/>
<line x1="790.8" y1="1972.9" x2="790.8" y2="1991.7" stroke="#3d3a39" stroke-width="4.0"/>
<line x1="737.9" y1="1980.9" x2="737.9" y2="1991.7" stroke="#3d3a39" stroke-width="4.0"/>
<line x1="685.0" y1="1972.9" x2="685.0" y2="1991.7" stroke="#3d3a39" stroke-width="4.0"/>
<line x1="632.1" y1="1980.9" x2="632.1" y2="1991.7" stroke="#3d3a39" stroke-width="4.0"/>
<line x1="579.2" y1="1972.9" x2="579.2" y2="1991.7" stroke="#3d3a39" stroke-width="4.0"/>
<line x1="526.2" y1="1980.9" x2="526.2" y2="1991.7" stroke="#3d3a39" stroke-width="4.0"/>
<line x1="473.3" y1="1972.9" x2="473.3" y2="1991.7" stroke="#3d3a39" stroke-width="4.0"/>
<line x1="420.4" y1="1980.9" x2="420.4" y2="1991.7" stroke="#3d3a39" stroke-width="4.0"/>
<line x1="367.5" y1="1972.9" x2="367.5" y2="1991.7" stroke="#3d3a39" stroke-width="4.0"/>
<line x1="314.6" y1="1980.9" x2="314.6" y2="1991.7" stroke="#3d3a39" stroke-width="4.0"/>
<line x1="261.7" y1="1972.9" x2="261.7" y2="1991.7" stroke="#3d3a39" stroke-width="4.0"/>
<line x1="208.8" y1="1980.9" x2="208.8" y2="1991.7" stroke="#3d3a39" stroke-width="4.0"/>
<line x1="155.8" y1="1972.9" x2="155.8" y2="1991.7" stroke="#3d3a39" stroke-width="4.0"/>
<line x1="102.9" y1="1980.9" x2="102.9" y2="1991.7" stroke="#3d3a39" stroke-width="4.0"/>
<line x1="50.0" y1="1972.9" x2="50.0" y2="1991.7" stroke="#3d3a39" stroke-width="4.0"/>
<line x1="48.0" y1="1991.7" x2="1004.5" y2="1991.7" stroke="#282524" stroke-width="4.6"/>
<text x="1002.0" y="2059.5" font-size="65" text-anchor="middle">0</text>
<text x="896.2" y="2059.5" font-size="65" text-anchor="middle">1</text>
<text x="790.3" y="2059.5" font-size="65" text-anchor="middle">2</text>
<text x="684.5" y="2059.5" font-size="65" text-anchor="middle">3</text>
<text x="578.7" y="2059.5" font-size="65" text-anchor="middle">4</text>
<text x="472.8" y="2059.5" font-size="65" text-anchor="middle">5</text>
<text x="367.0" y="2059.5" font-size="65" text-anchor="middle">6</text>
<text x="261.2" y="2059.5" font-size="65" text-anchor="middle">7</text>
<text x="155.3" y="2059.5" font-size="65" text-anchor="middle">8</text>
<text x="49.5" y="2059.5" font-size="65" text-anchor="middle">9</text>
<text x="214.0" y="2144.7" font-size="68" textLength="626.0" lengthAdjust="spacingAndGlyphs">Chemical shift (ppm)</text>
<line x1="618.0" y1="1440" x2="617.9" y2="1600" stroke="#8f8c8b" stroke-width="3.0"/><path d="M49.4 1946.7 L51.4 1944.4 L53.4 1943.9 L55.4 1944.9 L57.3 1943.9 L59.3 1945.5 L61.3 1946.4 L63.3 1945.4 L65.3 1944.1 L67.3 1944.9 L69.3 1946.4 L71.3 1944.3 L73.3 1946.8 L75.3 1944.8 L77.3 1944.2 L79.3 1943.7 L81.3 1946.5 L83.3 1945.2 L85.3 1944.7 L87.3 1945.3 L89.3 1944.9 L91.3 1944.9 L93.3 1944.8 L95.2 1945.4 L97.2 1943.9 L99.2 1945.8 L101.2 1945.6 L103.2 1944.0 L105.2 1944.2 L107.2 1943.7 L109.2 1944.0 L111.2 1945.4 L113.2 1943.6 L115.2 1946.7 L117.2 1945.0 L119.2 1946.0 L121.2 1943.6 L123.2 1943.7 L125.2 1944.6 L127.2 1946.8 L129.2 1944.8 L131.1 1944.8 L133.1 1943.8 L135.1 1946.6 L137.1 1944.5 L139.1 1943.8 L141.1 1946.4 L143.1 1946.1 L145.1 1946.1 L147.1 1944.8 L149.1 1944.9 L151.1 1944.1 L153.1 1943.7 L155.1 1944.9 L157.1 1943.8 L159.1 1946.7 L161.1 1944.9 L163.1 1944.6 L165.1 1944.1 L167.1 1945.2 L169.0 1945.8 L171.0 1944.8 L173.0 1946.5 L175.0 1946.8 L177.0 1945.8 L179.0 1944.7 L181.0 1943.9 L183.0 1944.4 L185.0 1943.8 L187.0 1944.8 L189.0 1946.0 L191.0 1946.3 L193.0 1943.7 L195.0 1944.3 L197.0 1945.0 L199.0 1945.2 L201.0 1943.8 L203.0 1945.4 L204.9 1944.2 L206.9 1944.6 L208.9 1945.0 L210.9 1943.8 L212.9 1946.0 L214.9 1944.2 L216.9 1945.6 L218.9 1944.1 L220.9 1943.7 L222.9 1945.1 L224.9 1946.1 L226.9 1946.0 L229.0 1943.2 L231.1 1942.1 L233.2 1941.7 L235.1 1939.2 L237.0 1939.7 L238.9 1939.8 L240.8 1940.7 L242.6 1939.0 L244.4 1941.0 L246.1 1941.5 L247.9 1941.5 L250.0 1943.0 L252.1 1943.0 L254.2 1944.5 L256.3 1945.3 L258.3 1945.6 L260.3 1945.6 L262.3 1945.3 L264.4 1945.9 L266.4 1945.1 L268.4 1944.9 L270.4 1943.7 L272.4 1944.7 L274.4 1946.0 L276.4 1946.3 L278.4 1944.9 L280.4 1943.6 L282.5 1944.4 L284.5 1946.7 L286.5 1943.7 L288.5 1946.7 L290.5 1945.2 L292.5 1944.0 L294.5 1944.6 L296.5 1945.3 L298.6 1945.1 L300.6 1946.1 L302.6 1945.1 L304.6 1944.5 L306.6 1946.1 L308.6 1946.1 L310.6 1945.0 L312.6 1945.6 L314.7 1943.7 L316.7 1944.9 L318.7 1943.9 L320.7 1946.5 L322.7 1945.4 L324.7 1944.4 L326.7 1944.7 L328.7 1945.6 L330.7 1945.0 L332.8 1945.2 L334.8 1945.9 L336.8 1944.7 L338.8 1944.5 L340.8 1945.1 L342.8 1943.7 L344.8 1944.3 L346.8 1945.8 L348.9 1943.9 L350.9 1944.3 L352.9 1943.8 L354.9 1944.8 L356.9 1945.4 L358.9 1944.5 L360.9 1946.3 L362.9 1946.5 L365.0 1944.8 L367.0 1943.8 L369.0 1944.3 L371.0 1945.5 L373.0 1946.5 L375.0 1945.0 L377.0 1946.5 L379.0 1944.0 L381.1 1944.2 L383.1 1945.2 L385.1 1944.1 L387.1 1944.8 L389.1 1944.2 L391.1 1946.2 L393.1 1945.6 L395.1 1945.6 L397.1 1946.0 L399.2 1944.6 L401.2 1946.3 L403.3 1945.2 L405.3 1946.2 L407.4 1946.5 L409.4 1946.0 L411.5 1943.5 L413.6 1945.3 L415.6 1945.4 L417.7 1944.9 L419.7 1945.6 L421.8 1946.4 L423.8 1944.5 L425.9 1945.8 L427.9 1943.9 L430.0 1943.3 L432.0 1943.3 L434.0 1945.9 L436.0 1943.4 L438.0 1945.8 L440.0 1944.2 L442.0 1945.8 L444.0 1944.2 L446.0 1943.1 L448.0 1945.8 L450.0 1945.4 L452.0 1944.4 L454.0 1943.6 L456.0 1943.3 L458.0 1943.6 L460.0 1943.7 L462.0 1945.0 L464.0 1944.3 L466.0 1943.2 L468.0 1942.9 L470.0 1944.7 L472.0 1942.4 L474.1 1942.5 L476.2 1941.7 L478.3 1939.9 L480.4 1941.0 L482.5 1937.5 L484.6 1934.3 L486.7 1931.7 L488.5 1927.4 L490.2 1921.9 L492.0 1917.5 L494.1 1906.5 L496.2 1896.1 L498.9 1870.9 L500.6 1833.1 L501.6 1770.1 L502.5 1707.1 L503.1 1644.0 L503.7 1560.0 L502.8 1157.6 M507.0 1157.6 L507.9 1560.0 L508.4 1707.1 L509.0 1770.1 L509.8 1812.1 L511.1 1854.1 L513.0 1896.3 L514.6 1908.7 L516.1 1921.6 L518.2 1928.0 L520.3 1934.9 L522.4 1935.0 L524.5 1938.4 L526.6 1939.3 L528.7 1940.8 L530.8 1941.7 L532.9 1943.7 L535.0 1944.3 L537.1 1944.3 L539.2 1943.8 L541.3 1945.4 L543.4 1942.7 L545.5 1943.8 L547.1 1940.9 L548.7 1938.9 L550.3 1941.5 L551.8 1943.9 L554.4 1939.9 L556.1 1934.0 L558.2 1943.7 L560.3 1941.7 L562.4 1943.6 L564.5 1943.4 L566.6 1944.9 L568.7 1942.7 L570.8 1942.3 L572.9 1944.1 L575.0 1944.0 L577.9 1938.1 L579.2 1896.1 L579.8 1868.9 L580.3 1869.8 L580.8 1896.1 L581.9 1939.2 L583.7 1940.8 L585.5 1943.2 L587.6 1942.0 L589.7 1942.9 L591.8 1939.3 L593.9 1936.1 L596.0 1934.3 L597.7 1927.1 L599.5 1919.9 L601.2 1913.1 L602.8 1900.2 L604.4 1887.7 L606.1 1860.4 L609.0 1854.0 L611.1 1833.2 L612.4 1791.1 L613.4 1728.1 L614.5 1644.0 L615.3 1560.0 L616.3 1157.6 M620.8 1157.6 L620.5 1560.0 L621.0 1770.1 L621.2 1873.0 L622.2 1791.1 L623.3 1738.6 L624.5 1791.1 L626.4 1822.6 L627.9 1825.2 L628.7 1864.6 L629.6 1884.1 L631.3 1881.4 L632.7 1881.4 L634.2 1913.2 L636.9 1925.7 L638.7 1925.6 L640.4 1927.5 L642.2 1927.9 L644.3 1924.9 L646.4 1921.3 L648.9 1896.1 L650.6 1854.1 L651.4 1770.1 L652.3 1698.6 L653.3 1770.1 L654.8 1871.0 L656.5 1833.1 L657.9 1805.7 L659.4 1770.1 L660.7 1686.0 L661.7 1637.8 L662.8 1686.0 L664.0 1770.1 L665.3 1864.6 L667.0 1913.4 L669.3 1920.7 L671.6 1928.4 L673.7 1930.6 L675.8 1932.6 L677.9 1935.5 L680.0 1936.4 L682.1 1936.6 L684.2 1938.1 L686.3 1936.9 L688.4 1934.7 L690.5 1932.6 L692.6 1931.6 L694.4 1926.0 L696.1 1919.1 L697.9 1913.1 L699.4 1899.3 L701.0 1885.7 L703.5 1843.7 L706.3 1815.3 L708.4 1843.6 L710.5 1885.5 L712.6 1915.3 L714.7 1920.2 L716.8 1924.7 L718.9 1918.3 L721.0 1913.0 L723.7 1892.2 L725.8 1879.1 L727.9 1896.2 L730.0 1917.2 L732.9 1928.6 L734.9 1931.2 L736.9 1931.6 L738.8 1930.5 L740.6 1924.6 L742.3 1918.9 L744.1 1913.1 L745.7 1893.9 L747.2 1875.1 L749.7 1822.7 L752.1 1776.5 L754.2 1822.5 L756.3 1875.2 L758.8 1917.5 L760.4 1925.3 L761.9 1933.3 L764.0 1936.7 L766.1 1938.3 L768.2 1939.9 L770.3 1942.2 L772.4 1942.3 L774.5 1942.6 L776.6 1942.6 L778.7 1941.5 L780.8 1940.8 L783.4 1935.9 L785.0 1923.7 L786.7 1934.8 L789.0 1935.2 L791.3 1937.5 L793.4 1937.0 L795.5 1937.3 L797.6 1937.0 L800.2 1934.3 L801.7 1938.0 L802.0 1608.7 L802.4 1609.5 L802.8 1938.8 L804.4 1935.4 L807.1 1938.0 L808.9 1939.6 L810.8 1941.6 L812.6 1940.3 L814.5 1941.3 L816.6 1942.5 L818.7 1941.2 L820.8 1943.2 L822.9 1942.6 L825.0 1942.5 L827.1 1944.6 L829.2 1943.1 L830.9 1944.2 L832.6 1942.7 L834.4 1940.7 L836.3 1940.7 L838.2 1943.6 L840.2 1943.3 L842.1 1942.5 L844.1 1943.0 L846.0 1941.7 L847.9 1943.5 L849.9 1941.5 L851.8 1941.2 L853.8 1942.9 L855.7 1942.0 L857.6 1941.9 L859.6 1941.9 L861.7 1942.0 L863.8 1942.2 L865.9 1940.8 L868.0 1939.9 L870.1 1939.1 L872.2 1937.3 L874.3 1935.2 L876.4 1933.0 L878.5 1936.4 L880.6 1939.9 L882.3 1938.0 L884.1 1937.7 L885.8 1937.4 L887.6 1939.4 L889.3 1941.1 L891.1 1942.3 L893.0 1941.8 L894.9 1941.9 L896.8 1941.8 L898.7 1942.7 L900.6 1943.4 L902.6 1941.1 L904.5 1941.6 L906.4 1944.1 L908.3 1943.3 L910.2 1941.7 L912.1 1944.0 L914.2 1941.4 L916.3 1942.0 L918.4 1940.9 L920.5 1939.4 L922.6 1941.6 L924.7 1945.2 L926.7 1945.2 L928.6 1944.7 L930.6 1944.1 L932.5 1943.6 L934.5 1944.2 L936.5 1946.0 L938.4 1946.1 L940.4 1945.1 L942.4 1944.0 L944.3 1943.3 L946.3 1943.9 L948.2 1945.3 L950.2 1944.7 L952.2 1944.7 L954.1 1945.7 L956.1 1944.3 L958.1 1944.0 L960.0 1945.7 L962.0 1945.5 L964.0 1946.4 L966.0 1944.4 L967.9 1946.2 L969.9 1945.7 L971.9 1944.1 L973.9 1944.5 L975.8 1946.7 L977.8 1946.1 L979.8 1944.7 L981.8 1944.1 L983.7 1946.0 L985.7 1945.6 L987.7 1946.1 L989.7 1944.6 L991.6 1944.7 L993.6 1944.6 L995.6 1946.6 L997.6 1946.5 L999.5 1946.0 L1001.5 1946.4 L1003.5 1945.2" fill="none" stroke="#0a0808" stroke-width="3.3" stroke-linejoin="bevel" stroke-linecap="butt"/><path d="M49.4 1949.6 L50.9 1941.5 L52.4 1948.8 L53.9 1942.4 L55.4 1947.9 L56.9 1939.8 L58.4 1947.7 L59.9 1941.4 L61.4 1947.6 L62.9 1941.8 L64.4 1949.0 L65.9 1942.0 L67.4 1947.6 L68.9 1942.3 L70.4 1948.2 L71.9 1940.6 L73.4 1949.8 L74.9 1942.7 L76.4 1947.8 L78.0 1941.4 L79.5 1948.2 L81.0 1942.6 L82.5 1947.9 L84.0 1941.8 L85.5 1947.6 L87.0 1941.9 L88.5 1948.8 L90.0 1942.5 L91.5 1949.0 L93.0 1942.4 L94.5 1948.8 L96.0 1940.3 L97.5 1948.0 L99.0 1942.0 L100.5 1948.1 L102.0 1940.3 L103.5 1948.3 L105.0 1942.1 L106.5 1947.6 L108.0 1942.4 L109.5 1951.6 L111.1 1942.1 L112.6 1948.0 L114.1 1942.4 L115.6 1948.6 L117.1 1941.0 L118.6 1949.5 L120.1 1942.6 L121.6 1947.6 L123.1 1942.3 L124.6 1948.1 L126.1 1940.2 L127.6 1948.0 L129.1 1942.7 L130.6 1949.7 L132.1 1941.8 L133.6 1949.0 L135.1 1942.6 L136.6 1951.0 L138.1 1941.4 L139.6 1948.0 L141.1 1942.3 L142.6 1948.2 L144.1 1940.6 L145.7 1947.7 L147.2 1942.3 L148.7 1949.0 L150.2 1942.2 L151.7 1948.0 L153.2 1942.7 L154.7 1948.0 L156.2 1942.3 L157.7 1948.3 L159.2 1941.8 L160.7 1947.8 L162.2 1941.7 L163.7 1948.9 L165.2 1941.1 L166.7 1947.6 L168.2 1938.8 L169.7 1950.6 L171.2 1942.6 L172.7 1948.8 L174.2 1941.3 L175.7 1950.2 L177.2 1942.6 L178.7 1948.3 L180.3 1942.5 L181.8 1948.5 L183.3 1942.2 L184.8 1948.0 L186.3 1942.5 L187.8 1947.8 L189.3 1942.5 L190.8 1950.9 L192.3 1942.5 L193.8 1948.7 L195.3 1941.6 L196.8 1948.5 L198.3 1942.2 L199.8 1949.6 L201.3 1942.7 L202.8 1951.6 L204.3 1942.6 L205.8 1947.9 L207.3 1940.5 L208.8 1948.5 L210.3 1942.8 L211.8 1949.3 L213.4 1941.1 L214.9 1947.6 L216.4 1941.9 L217.9 1947.8 L219.4 1941.0 L220.9 1948.2 L222.4 1941.3 L223.9 1949.7 L225.4 1941.7 L226.9 1948.1 L228.2 1941.6 L229.4 1947.8 L230.7 1939.1 L231.9 1944.5 L233.2 1938.4 L234.8 1947.0 L236.3 1934.4 L237.9 1942.8 L239.5 1936.7 L241.1 1941.8 L242.6 1935.3 L244.0 1942.7 L245.3 1937.5 L246.6 1943.7 L247.9 1938.7 L249.3 1946.1 L250.7 1940.4 L252.1 1947.0 L253.5 1941.4 L254.9 1947.1 L256.3 1942.0 L257.8 1948.0 L259.3 1940.7 L260.8 1949.1 L262.3 1942.2 L263.8 1948.2 L265.3 1942.7 L266.8 1951.6 L268.3 1942.5 L269.8 1948.3 L271.3 1940.6 L272.8 1949.2 L274.3 1942.2 L275.9 1949.7 L277.4 1942.3 L278.9 1949.0 L280.4 1940.2 L281.9 1948.4 L283.4 1942.6 L284.9 1947.7 L286.4 1940.3 L287.9 1947.9 L289.4 1942.6 L290.9 1949.5 L292.4 1941.6 L293.9 1949.7 L295.4 1942.2 L296.9 1947.6 L298.4 1942.5 L299.9 1949.8 L301.4 1942.2 L302.9 1947.8 L304.4 1942.1 L305.9 1947.9 L307.4 1942.6 L308.9 1948.2 L310.4 1942.8 L311.9 1948.3 L313.4 1942.3 L314.9 1948.4 L316.5 1942.6 L318.0 1949.4 L319.5 1942.5 L321.0 1947.9 L322.5 1941.3 L324.0 1950.4 L325.5 1938.8 L327.0 1948.1 L328.5 1941.1 L330.0 1951.3 L331.5 1942.6 L333.0 1947.9 L334.5 1942.6 L336.0 1948.7 L337.5 1941.5 L339.0 1948.6 L340.5 1942.3 L342.0 1949.2 L343.5 1942.0 L345.0 1948.4 L346.5 1942.3 L348.0 1949.0 L349.5 1942.6 L351.0 1948.4 L352.5 1942.5 L354.0 1947.9 L355.6 1941.7 L357.1 1948.9 L358.6 1942.5 L360.1 1947.8 L361.6 1942.3 L363.1 1949.8 L364.6 1941.8 L366.1 1948.9 L367.6 1939.4 L369.1 1950.9 L370.6 1941.0 L372.1 1947.7 L373.6 1940.6 L375.1 1949.3 L376.6 1941.1 L378.1 1947.6 L379.6 1941.9 L381.1 1947.7 L382.6 1941.2 L384.1 1948.9 L385.6 1942.5 L387.1 1947.7 L388.6 1942.4 L390.1 1950.0 L391.6 1942.8 L393.1 1951.2 L394.6 1941.7 L396.2 1948.5 L397.7 1941.2 L399.2 1947.6 L400.6 1942.3 L402.1 1948.2 L403.6 1941.7 L405.0 1950.2 L406.5 1942.4 L408.0 1948.6 L409.4 1942.3 L410.9 1948.4 L412.4 1942.0 L413.8 1947.5 L415.3 1942.6 L416.8 1948.2 L418.3 1941.4 L419.7 1948.8 L421.2 1941.2 L422.7 1951.3 L424.1 1942.2 L425.6 1947.5 L427.1 1942.3 L428.5 1949.5 L430.0 1941.6 L431.5 1949.9 L433.0 1940.8 L434.5 1948.7 L436.0 1941.8 L437.5 1947.1 L439.0 1941.9 L440.5 1947.7 L442.0 1939.8 L443.5 1947.0 L445.0 1941.8 L446.5 1948.3 L448.0 1940.1 L449.5 1948.9 L451.0 1941.0 L452.5 1946.8 L454.0 1940.6 L455.5 1947.4 L457.0 1941.4 L458.5 1947.2 L460.0 1941.0 L461.5 1946.3 L463.0 1940.6 L464.5 1946.2 L466.0 1940.9 L467.5 1946.4 L469.0 1939.9 L470.5 1946.9 L472.0 1939.0 L473.4 1946.0 L474.8 1939.6 L476.2 1944.5 L477.6 1938.3 L479.0 1943.9 L480.4 1937.1 L481.3 1944.2 L482.2 1934.0 L483.1 1939.1 L484.0 1933.0 L484.9 1939.5 L485.8 1930.0 L486.7 1938.2 L487.2 1926.8 L487.8 1933.4 L488.3 1924.4 L488.8 1928.4 L489.3 1921.3 L489.9 1925.5 L490.4 1918.6 L490.9 1923.5 L491.4 1916.1 L492.0 1920.5 L492.3 1913.0 L492.6 1916.9 L492.9 1907.8 L493.2 1913.6 L493.5 1906.7 L493.8 1912.0 L494.1 1904.1 L494.4 1908.4 L494.7 1900.0 L495.0 1905.0 L495.3 1898.2 L495.6 1901.8 L495.9 1895.1 L496.2 1899.2 L496.3 1892.1 L496.5 1896.6 L496.7 1887.3 L496.8 1893.2 L497.0 1885.8 L497.1 1890.2 L497.3 1882.1 L497.5 1886.7 L497.6 1877.9 L497.8 1886.4 L497.9 1877.2 L498.1 1881.0 L498.3 1872.2 L498.4 1879.9 L498.6 1869.3 L498.7 1876.7 L498.9 1867.3 L499.0 1872.6 L499.0 1864.7 L499.1 1868.9 L499.2 1862.2 L499.2 1868.5 L499.3 1857.6 L499.4 1863.6 L499.4 1855.6 L499.5 1859.7 L499.6 1852.7 L499.6 1857.1 L499.7 1850.3 L499.8 1855.6 L499.8 1847.0 L499.9 1852.0 L500.0 1844.1 L500.1 1851.0 L500.1 1841.3 L500.2 1845.5 L500.3 1835.6 L500.3 1842.6 L500.4 1834.7 L500.5 1839.5 L500.5 1831.4 M511.1 1858.9 L511.2 1852.5 L511.2 1860.8 L511.3 1856.2 L511.4 1864.3 L511.4 1858.8 L511.5 1865.6 L511.6 1861.4 L511.6 1869.6 L511.7 1864.8 L511.8 1872.5 L511.8 1867.1 L511.9 1875.5 L512.0 1868.7 L512.0 1878.1 L512.1 1874.0 L512.2 1882.1 L512.2 1876.4 L512.3 1884.3 L512.4 1879.7 L512.4 1887.4 L512.5 1882.8 L512.6 1890.1 L512.6 1885.8 L512.7 1892.6 L512.8 1887.5 L512.8 1896.5 L512.9 1890.5 L513.0 1899.8 L513.2 1893.8 L513.4 1902.4 L513.5 1897.4 L513.7 1905.4 L513.9 1900.7 L514.1 1907.6 L514.3 1903.3 L514.5 1910.9 L514.7 1906.6 L514.8 1914.5 L515.0 1909.4 L515.2 1918.5 L515.4 1912.8 L515.6 1919.8 L515.8 1915.0 L515.9 1922.6 L516.1 1917.2 L516.6 1927.2 L517.1 1920.0 L517.5 1930.2 L518.0 1921.1 L518.5 1930.9 L518.9 1926.8 L519.4 1936.6 L519.9 1929.6 L520.3 1938.4 L521.5 1931.4 L522.7 1941.2 L523.9 1934.4 L525.1 1941.8 L526.3 1936.1 L527.5 1943.5 L528.7 1938.4 L530.2 1944.8 L531.7 1938.9 L533.2 1946.3 L534.7 1939.6 L536.2 1946.3 L537.7 1941.6 L539.2 1948.7 L540.8 1940.9 L542.4 1946.6 L544.0 1939.5 L545.5 1946.1 L546.3 1938.7 L547.1 1943.9 L547.9 1937.2 L548.7 1942.0 L549.5 1935.9 L550.3 1944.1 L551.1 1939.7 L551.8 1946.0 L552.7 1936.0 L553.5 1945.6 L554.4 1937.7 L554.8 1941.7 L555.2 1933.5 L555.6 1938.2 L556.1 1929.5 L556.4 1938.2 L556.8 1934.2 L557.1 1942.0 L557.5 1936.5 L557.8 1945.8 L558.2 1937.4 L559.6 1945.2 L561.0 1939.3 L562.4 1945.6 L563.8 1939.3 L565.2 1949.0 L566.6 1937.0 L568.0 1946.2 L569.4 1940.9 L570.8 1946.1 L572.2 1940.5 L573.6 1945.8 L575.0 1940.3 L575.7 1946.2 L576.4 1937.8 L577.2 1942.6 M581.9 1945.6 L582.8 1935.4 L583.7 1943.9 L584.6 1939.7 L585.5 1946.4 L586.9 1939.8 L588.3 1945.6 L589.7 1937.5 L590.6 1944.3 L591.5 1937.5 L592.4 1941.5 L593.3 1934.7 L594.2 1938.9 L595.1 1931.3 L596.0 1936.5 L596.3 1928.2 L596.7 1933.5 L597.1 1926.9 L597.5 1930.7 L597.8 1923.5 L598.2 1927.6 L598.6 1920.4 L599.0 1926.0 L599.3 1918.0 L599.7 1922.5 L600.1 1914.4 L600.5 1920.0 L600.8 1910.7 L601.2 1915.7 L601.4 1908.7 L601.6 1912.9 L601.8 1904.7 L602.0 1909.4 L602.1 1902.8 L602.3 1906.5 L602.5 1899.7 L602.7 1907.5 L602.9 1896.7 L603.1 1901.3 L603.3 1893.2 L603.4 1898.1 L603.6 1891.1 L603.8 1895.0 L604.0 1886.8 L604.2 1891.7 L604.4 1885.0 L604.5 1889.4 L604.6 1882.2 L604.6 1887.2 L604.7 1879.1 L604.8 1882.7 L604.9 1875.9 L605.0 1879.5 L605.1 1872.9 L605.2 1878.5 L605.3 1870.1 L605.4 1875.8 L605.5 1865.6 L605.6 1871.4 L605.7 1864.0 L605.8 1870.1 L605.9 1859.8 L606.0 1865.2 L606.1 1855.9 L606.6 1865.1 L607.2 1855.5 L607.8 1860.3 L608.4 1852.2 L609.0 1857.8 L609.1 1850.2 L609.3 1856.9 L609.4 1845.3 L609.6 1851.3 L609.7 1842.9 L609.9 1848.0 L610.0 1840.7 L610.2 1845.2 L610.3 1838.1 L610.5 1841.7 L610.6 1835.2 L610.8 1839.9 L610.9 1831.8 M624.5 1794.8 L624.6 1788.7 L624.7 1797.7 L624.8 1791.8 L624.9 1801.4 L625.0 1795.2 L625.1 1803.1 L625.2 1799.1 L625.3 1808.5 L625.3 1801.7 L625.4 1808.5 L625.5 1805.1 L625.6 1815.4 L625.7 1808.1 L625.8 1817.4 L625.9 1810.0 L626.0 1818.8 L626.1 1813.3 L626.2 1820.5 L626.2 1816.9 L626.3 1823.6 L626.4 1819.3 L627.2 1827.0 M628.7 1860.0 L628.8 1868.5 L628.9 1865.1 L628.9 1872.7 L629.0 1866.6 L629.1 1874.8 L629.1 1870.8 L629.2 1877.8 L629.3 1873.5 L629.3 1881.5 L629.4 1876.5 L629.5 1885.1 L629.5 1878.8 L629.6 1886.8 L630.4 1879.3 L631.3 1883.0 L632.7 1878.6 L632.8 1885.5 L632.9 1881.8 L632.9 1889.5 L633.0 1884.5 L633.1 1892.2 L633.2 1887.2 L633.2 1894.6 L633.3 1889.0 L633.4 1900.1 L633.4 1893.3 L633.5 1901.7 L633.6 1896.4 L633.6 1906.1 L633.7 1899.3 L633.8 1906.8 L633.9 1901.1 L633.9 1910.2 L634.0 1903.6 L634.1 1913.5 L634.1 1908.1 L634.2 1915.4 L634.5 1911.2 L634.8 1919.4 L635.1 1914.8 L635.4 1921.8 L635.7 1917.9 L636.0 1925.2 L636.3 1921.0 L636.6 1928.4 L636.9 1923.5 L638.2 1930.2 L639.6 1924.2 L640.9 1930.9 L642.2 1924.6 L643.0 1929.7 L643.9 1922.5 L644.7 1927.9 L645.5 1919.8 L646.4 1924.2 L646.5 1917.0 L646.7 1921.7 L646.8 1914.5 L647.0 1918.7 L647.1 1911.2 L647.3 1915.6 L647.4 1904.9 L647.6 1913.5 L647.7 1904.9 L647.9 1910.4 L648.0 1902.6 L648.2 1906.6 L648.3 1897.1 L648.5 1904.0 L648.6 1892.8 L648.8 1900.5 L648.9 1893.7 L649.0 1897.2 L649.0 1888.6 L649.1 1894.2 L649.1 1887.7 L649.2 1892.0 L649.3 1882.1 L649.3 1888.1 L649.4 1881.6 L649.4 1885.8 L649.5 1878.7 L649.6 1882.7 L649.6 1875.3 L649.7 1879.0 L649.7 1872.1 L649.8 1876.1 L649.9 1868.9 L649.9 1873.8 L650.0 1866.5 L650.0 1873.0 L650.1 1862.6 L650.2 1867.6 L650.2 1859.7 L650.3 1864.1 L650.3 1855.0 L650.4 1862.3 L650.5 1854.5 L650.5 1858.4 M654.8 1867.2 L654.9 1872.7 L654.9 1864.2 L655.0 1868.8 L655.1 1860.8 L655.1 1866.2 L655.2 1857.8 L655.3 1862.8 L655.3 1856.3 L655.4 1860.2 L655.5 1852.8 L655.5 1856.9 L655.6 1847.3 L655.7 1855.0 L655.7 1847.2 L655.8 1854.6 L655.9 1843.7 L655.9 1848.1 L656.0 1840.6 L656.1 1845.0 L656.1 1838.0 L656.2 1841.7 L656.3 1835.1 L656.3 1838.5 L656.4 1828.2 L656.5 1837.7 L656.6 1827.2 L656.6 1832.6 L656.7 1825.0 L656.8 1829.7 L656.9 1822.7 L657.0 1826.7 L657.0 1820.0 L657.1 1823.7 L657.2 1815.9 L657.3 1821.0 L657.4 1812.6 L657.5 1818.2 L657.5 1811.0 L657.6 1814.7 L657.7 1807.1 L657.8 1812.8 L657.9 1804.6 L657.9 1809.2 L658.0 1801.5 L658.1 1806.5 L658.1 1798.8 L658.2 1802.5 L658.2 1794.7 L658.3 1801.7 L658.4 1792.9 L658.4 1796.4 L658.5 1789.0 L658.6 1796.0 L658.6 1785.8 L658.7 1790.6 L658.7 1781.0 L658.8 1788.5 L658.9 1781.0 L658.9 1784.5 L659.0 1778.1 L659.0 1781.6 L659.1 1773.6 L659.2 1778.5 L659.2 1771.9 L659.3 1777.2 L659.4 1768.7 M665.3 1867.2 L665.3 1862.0 L665.4 1871.0 L665.5 1865.7 L665.5 1875.8 L665.6 1869.4 L665.6 1876.7 L665.7 1871.7 L665.7 1879.9 L665.8 1875.8 L665.8 1883.3 L665.9 1877.9 L665.9 1885.5 L666.0 1881.8 L666.0 1890.8 L666.1 1883.7 L666.1 1891.6 L666.2 1884.1 L666.2 1894.6 L666.3 1889.9 L666.3 1899.5 L666.4 1893.0 L666.4 1901.0 L666.5 1894.9 L666.6 1903.4 L666.6 1899.1 L666.7 1906.6 L666.7 1901.4 L666.8 1909.6 L666.8 1904.8 L666.9 1913.5 L666.9 1907.6 L667.0 1916.6 L667.4 1911.2 L667.9 1919.7 L668.4 1914.3 L668.8 1921.7 L669.3 1917.8 L669.7 1924.2 L670.2 1920.2 L670.7 1927.6 L671.1 1923.4 L671.6 1934.0 L672.5 1925.0 L673.4 1933.4 L674.3 1928.8 L675.2 1935.0 L676.1 1930.4 L677.0 1937.8 L677.9 1933.4 L679.5 1940.2 L681.1 1933.9 L682.6 1939.5 L684.2 1934.4 L685.4 1939.7 L686.6 1933.0 L687.8 1937.9 L689.0 1930.5 L690.2 1936.0 L691.4 1929.9 L692.6 1934.6 L693.0 1927.9 L693.4 1931.7 L693.8 1924.4 L694.2 1928.8 L694.6 1921.8 L695.0 1925.7 L695.4 1919.1 L695.8 1922.7 L696.2 1915.3 L696.6 1921.1 L697.0 1912.0 L697.5 1916.9 L697.9 1909.3 L698.0 1914.6 L698.2 1907.0 L698.4 1911.4 L698.6 1903.8 L698.7 1909.7 L698.9 1900.3 L699.1 1905.8 L699.3 1897.7 L699.4 1902.4 L699.6 1895.0 L699.8 1899.3 L700.0 1890.8 L700.1 1897.6 L700.3 1889.0 L700.5 1893.1 L700.7 1884.4 L700.8 1889.7 L701.0 1883.1 L701.1 1887.1 L701.2 1879.9 L701.3 1886.5 L701.4 1875.4 L701.5 1883.2 L701.5 1871.3 L701.6 1877.7 L701.7 1870.9 L701.8 1875.1 L701.9 1864.2 L702.0 1872.3 L702.1 1862.8 L702.2 1869.3 L702.3 1860.4 L702.4 1866.7 L702.4 1858.5 L702.5 1863.5 L702.6 1855.8 L702.7 1859.6 L702.8 1851.4 L702.9 1859.2 L703.0 1850.1 L703.1 1854.1 L703.2 1846.3 L703.3 1851.6 L703.3 1842.8 L703.4 1847.8 L703.5 1840.8 L703.7 1847.4 L703.8 1836.5 L704.0 1841.9 L704.1 1835.0 L704.2 1842.5 L704.4 1831.8 L704.5 1835.9 L704.7 1828.2 L704.8 1833.0 L705.0 1825.7 L705.1 1830.8 L705.3 1823.0 L705.4 1827.9 L705.5 1818.8 L705.7 1823.6 L705.8 1815.6 L706.0 1823.9 L706.1 1813.2 L706.3 1818.3 L706.4 1813.6 L706.5 1822.5 L706.6 1816.7 L706.7 1824.9 L706.8 1819.7 L706.9 1827.0 L707.0 1823.0 L707.1 1829.8 L707.3 1825.3 L707.4 1834.9 L707.5 1827.6 L707.6 1835.8 L707.7 1832.2 L707.8 1841.1 L707.9 1834.0 L708.0 1842.6 L708.1 1836.7 L708.3 1844.5 L708.4 1840.6 L708.4 1851.5 L708.5 1843.8 L708.6 1850.8 L708.7 1846.1 L708.7 1857.0 L708.8 1849.4 L708.9 1856.8 L709.0 1853.0 L709.0 1860.0 L709.1 1854.8 L709.2 1863.7 L709.3 1858.7 L709.3 1866.0 L709.4 1861.3 L709.5 1869.6 L709.6 1864.9 L709.6 1871.8 L709.7 1867.9 L709.8 1875.1 L709.9 1870.5 L709.9 1877.6 L710.0 1871.4 L710.1 1881.8 L710.2 1877.2 L710.2 1883.9 L710.3 1879.4 L710.4 1886.5 L710.5 1882.9 L710.6 1890.3 L710.7 1885.4 L710.8 1893.0 L710.9 1889.0 L711.0 1897.5 L711.1 1891.6 L711.2 1899.8 L711.3 1894.3 L711.4 1901.3 L711.5 1897.7 L711.6 1905.6 L711.7 1900.5 L711.8 1908.9 L711.9 1902.4 L712.0 1914.1 L712.1 1906.4 L712.2 1914.7 L712.4 1909.5 L712.5 1916.3 L712.6 1912.0 L713.2 1918.9 L713.8 1915.3 L714.4 1921.7 L715.0 1917.6 L715.6 1925.6 L716.2 1919.8 L716.8 1927.3 L717.3 1920.4 L717.8 1925.1 L718.3 1917.7 L718.9 1921.8 L719.4 1914.6 L719.9 1918.4 L720.4 1912.0 L721.0 1915.7 L721.2 1908.8 L721.4 1912.3 L721.6 1905.1 L721.7 1911.0 L721.9 1902.8 L722.1 1907.3 L722.3 1899.9 L722.5 1903.9 L722.7 1896.9 L722.9 1902.3 L723.1 1892.1 L723.3 1897.9 L723.5 1889.9 L723.7 1894.5 L723.9 1887.2 L724.2 1891.9 L724.4 1884.6 L724.6 1890.5 L724.9 1881.4 L725.1 1885.7 L725.3 1879.1 L725.6 1882.8 L725.8 1875.7 L726.0 1885.0 L726.1 1878.8 L726.3 1886.3 L726.5 1880.8 L726.7 1890.0 L726.8 1882.8 L727.0 1895.4 L727.2 1887.9 L727.4 1894.4 L727.5 1889.6 L727.7 1897.6 L727.9 1893.5 L728.0 1900.7 L728.2 1896.2 L728.3 1903.9 L728.5 1899.1 L728.6 1907.5 L728.8 1901.3 L728.9 1909.9 L729.1 1904.8 L729.2 1912.4 L729.4 1908.3 L729.5 1915.1 L729.7 1911.5 L729.8 1919.2 L730.0 1913.9 L730.3 1921.6 L730.7 1914.7 L731.0 1924.2 L731.3 1918.2 L731.6 1927.3 L732.0 1922.8 L732.3 1930.4 L732.6 1924.9 L732.9 1932.2 L734.4 1926.9 L735.9 1933.2 L737.4 1926.9 L738.8 1933.3 L739.3 1926.8 L739.7 1932.1 L740.1 1922.6 L740.6 1927.8 L741.0 1920.8 L741.4 1924.8 L741.9 1916.8 L742.3 1922.5 L742.8 1914.5 L743.2 1918.6 L743.6 1909.2 L744.1 1916.8 L744.2 1908.8 L744.3 1912.7 L744.5 1904.3 L744.6 1909.6 L744.7 1903.0 L744.8 1907.1 L745.0 1899.8 L745.1 1903.6 L745.2 1894.6 L745.3 1902.4 L745.5 1893.7 L745.6 1899.6 L745.7 1889.9 L745.8 1895.1 L746.0 1886.1 L746.1 1891.4 L746.2 1883.0 L746.3 1889.2 L746.5 1881.7 L746.6 1889.1 L746.7 1876.1 L746.8 1883.6 L747.0 1875.4 L747.1 1883.0 L747.2 1872.1 L747.3 1876.1 L747.4 1869.6 L747.4 1873.8 L747.5 1866.1 L747.6 1870.8 L747.7 1863.2 L747.7 1867.3 L747.8 1860.2 L747.9 1864.2 L747.9 1856.4 L748.0 1863.5 L748.1 1853.8 L748.2 1858.4 L748.2 1851.5 L748.3 1855.4 L748.4 1847.8 L748.5 1852.3 L748.5 1843.7 L748.6 1849.1 L748.7 1842.6 L748.7 1847.3 L748.8 1839.7 L748.9 1843.3 L749.0 1834.4 L749.0 1840.7 L749.1 1832.7 L749.2 1838.9 L749.2 1830.6 L749.3 1835.5 L749.4 1827.4 L749.5 1831.3 L749.5 1824.2 L749.6 1829.2 L749.7 1821.3 L749.7 1825.5 L749.8 1817.5 L749.9 1825.0 L750.0 1813.8 L750.0 1819.7 L750.1 1811.6 L750.2 1816.4 L750.3 1808.7 L750.3 1815.2 L750.4 1804.7 L750.5 1811.3 L750.6 1803.5 L750.6 1807.9 L750.7 1797.9 L750.8 1804.6 L750.9 1797.8 L750.9 1801.8 L751.0 1794.5 L751.1 1800.5 L751.2 1789.0 L751.2 1795.4 L751.3 1788.5 L751.4 1792.8 L751.5 1785.4 L751.5 1789.7 L751.6 1782.1 L751.7 1787.4 L751.8 1779.3 L751.8 1783.6 L751.9 1775.4 L752.0 1780.7 L752.1 1772.3 L752.1 1780.6 L752.2 1776.3 L752.3 1785.0 L752.3 1778.3 L752.4 1788.6 L752.5 1782.7 L752.5 1789.3 L752.6 1785.1 L752.7 1792.6 L752.7 1788.7 L752.8 1797.4 L752.9 1791.3 L752.9 1798.3 L753.0 1794.0 L753.1 1802.1 L753.1 1797.8 L753.2 1804.3 L753.3 1800.2 L753.3 1807.6 L753.4 1803.3 L753.5 1811.4 L753.5 1806.2 L753.6 1813.1 L753.7 1807.3 L753.8 1816.4 L753.8 1810.3 L753.9 1820.2 L754.0 1815.1 L754.0 1823.6 L754.1 1818.7 L754.2 1825.8 L754.2 1820.5 L754.3 1830.7 L754.3 1824.5 L754.4 1831.7 L754.5 1824.5 L754.5 1834.4 L754.6 1829.9 L754.6 1838.0 L754.7 1833.1 L754.8 1841.2 L754.8 1836.2 L754.9 1844.0 L754.9 1839.6 L755.0 1846.9 L755.1 1841.0 L755.1 1851.6 L755.2 1843.9 L755.2 1853.6 L755.3 1847.7 L755.4 1855.8 L755.4 1851.7 L755.5 1858.2 L755.5 1854.4 L755.6 1861.4 L755.7 1856.7 L755.7 1864.6 L755.8 1858.6 L755.8 1867.7 L755.9 1862.8 L756.0 1870.1 L756.0 1866.6 L756.1 1875.4 L756.1 1868.7 L756.2 1876.2 L756.3 1872.3 L756.4 1879.5 L756.4 1872.0 L756.5 1882.3 L756.6 1878.6 L756.7 1886.6 L756.8 1881.1 L756.9 1889.2 L757.0 1884.6 L757.1 1893.7 L757.2 1887.1 L757.3 1894.3 L757.3 1890.1 L757.4 1897.8 L757.5 1890.4 L757.6 1901.3 L757.7 1896.5 L757.8 1904.2 L757.9 1898.9 L758.0 1908.8 L758.1 1902.7 L758.2 1912.2 L758.2 1905.5 L758.3 1913.4 L758.4 1908.0 L758.5 1915.3 L758.6 1910.4 L758.7 1918.5 L758.8 1914.0 L759.1 1921.2 L759.4 1917.2 L759.6 1925.1 L759.9 1918.6 L760.2 1927.6 L760.5 1923.8 L760.8 1930.6 L761.1 1925.4 L761.4 1935.5 L761.6 1929.4 L761.9 1937.5 L763.0 1931.6 L764.0 1939.5 L765.1 1933.4 L766.1 1942.1 L767.2 1937.4 L768.2 1944.5 L769.8 1938.6 L771.4 1944.1 L773.0 1938.5 L774.5 1944.0 L776.1 1938.9 L777.7 1943.9 L779.3 1936.0 L780.8 1943.9 L781.5 1937.2 L782.1 1941.6 L782.7 1933.2 L783.4 1938.5 L783.6 1929.5 L783.8 1935.4 L784.0 1928.7 L784.2 1932.8 L784.4 1924.6 L784.6 1929.2 L784.8 1921.7 L785.0 1929.1 L785.3 1920.0 L785.5 1929.8 L785.8 1924.4 L786.0 1932.6 L786.2 1926.6 L786.5 1935.1 L786.7 1928.5 L787.9 1937.5 L789.0 1932.3 L790.2 1939.1 L791.3 1934.5 L792.9 1939.8 L794.5 1934.1 L796.1 1940.0 L797.6 1931.1 L798.9 1938.5 L800.2 1927.8 L800.7 1941.7 L801.2 1931.5 M802.8 1934.7 L803.6 1940.6 L804.4 1933.4 L805.3 1939.7 L806.2 1934.1 L807.1 1942.2 L808.6 1935.9 L810.0 1942.9 L811.5 1935.2 L813.0 1946.0 L814.5 1939.3 L815.9 1945.3 L817.4 1939.0 L818.9 1944.9 L820.3 1940.0 L821.8 1945.8 L823.3 1940.1 L824.7 1947.6 L826.2 1940.4 L827.7 1946.0 L829.2 1939.1 L830.5 1947.9 L831.8 1939.9 L833.1 1946.7 L834.4 1936.2 L835.9 1945.1 L837.3 1938.6 L838.8 1946.8 L840.3 1939.3 L841.8 1945.2 L843.3 1939.9 L844.8 1945.4 L846.2 1938.9 L847.7 1945.1 L849.2 1938.6 L850.7 1946.1 L852.2 1938.5 L853.6 1947.2 L855.1 1938.2 L856.6 1945.4 L858.1 1940.6 L859.6 1946.5 L860.9 1939.6 L862.2 1945.6 L863.5 1939.0 L864.8 1943.8 L866.1 1937.1 L867.5 1944.3 L868.8 1934.2 L870.1 1942.2 L871.3 1933.3 L872.6 1939.3 L873.9 1931.8 L875.1 1939.7 L876.4 1930.3 L877.4 1939.5 L878.5 1931.3 L879.5 1940.6 L880.6 1935.9 L881.9 1941.3 L883.2 1934.1 L884.5 1942.5 L885.8 1933.5 L887.2 1942.6 L888.5 1935.5 L889.8 1944.2 L891.1 1939.0 L892.6 1944.8 L894.1 1936.8 L895.6 1948.6 L897.1 1939.8 L898.6 1947.6 L900.1 1940.0 L901.6 1946.0 L903.1 1939.7 L904.6 1946.3 L906.1 1940.2 L907.6 1945.9 L909.1 1940.1 L910.6 1945.5 L912.1 1938.3 L913.5 1946.3 L914.9 1938.6 L916.3 1944.5 L917.7 1938.0 L919.1 1943.6 L920.5 1935.7 L921.6 1945.2 L922.6 1938.6 L923.7 1947.4 L924.7 1940.4 L926.2 1946.7 L927.6 1941.4 L929.1 1947.0 L930.6 1940.9 L932.1 1946.9 L933.5 1940.4 L935.0 1948.2 L936.5 1942.0 L937.9 1947.5 L939.4 1939.4 L940.9 1950.1 L942.4 1941.9 L943.8 1949.2 L945.3 1942.1 L946.8 1949.5 L948.2 1941.2 L949.7 1947.5 L951.2 1942.2 L952.6 1948.3 L954.1 1941.9 L955.6 1948.7 L957.1 1942.3 L958.6 1947.8 L960.1 1942.3 L961.6 1947.8 L963.1 1940.1 L964.6 1948.0 L966.1 1941.7 L967.6 1947.8 L969.1 1942.6 L970.6 1948.2 L972.1 1942.5 L973.6 1947.7 L975.1 1941.3 L976.6 1947.8 L978.1 1941.9 L979.6 1948.2 L981.0 1942.3 L982.5 1948.5 L984.0 1942.1 L985.5 1947.9 L987.0 1942.6 L988.5 1947.7 L990.0 1940.0 L991.5 1950.2 L993.0 1942.0 L994.5 1949.1 L996.0 1941.5 L997.5 1948.6 L999.0 1942.1 L1000.5 1947.8 L1002.0 1942.3" fill="none" stroke="#0a0808" stroke-width="2.1" stroke-linejoin="bevel" stroke-linecap="butt"/><path d="M504.9 1157.6 L505.7 1600 L505.5 1712" fill="none" stroke="#0a0808" stroke-width="3.6"/><line x1="618.5" y1="1157.6" x2="618.0" y2="1440" stroke="#0a0808" stroke-width="3.0"/>
</g>
<g id="panel-d">
<line x1="2075.5" y1="1970.8" x2="2075.5" y2="1989.6" stroke="#3d3a39" stroke-width="4.0"/>
<line x1="2022.6" y1="1978.8" x2="2022.6" y2="1989.6" stroke="#3d3a39" stroke-width="4.0"/>
<line x1="1969.6" y1="1970.8" x2="1969.6" y2="1989.6" stroke="#3d3a39" stroke-width="4.0"/>
<line x1="1916.7" y1="1978.8" x2="1916.7" y2="1989.6" stroke="#3d3a39" stroke-width="4.0"/>
<line x1="1863.7" y1="1970.8" x2="1863.7" y2="1989.6" stroke="#3d3a39" stroke-width="4.0"/>
<line x1="1810.8" y1="1978.8" x2="1810.8" y2="1989.6" stroke="#3d3a39" stroke-width="4.0"/>
<line x1="1757.8" y1="1970.8" x2="1757.8" y2="1989.6" stroke="#3d3a39" stroke-width="4.0"/>
<line x1="1704.9" y1="1978.8" x2="1704.9" y2="1989.6" stroke="#3d3a39" stroke-width="4.0"/>
<line x1="1651.9" y1="1970.8" x2="1651.9" y2="1989.6" stroke="#3d3a39" stroke-width="4.0"/>
<line x1="1599.0" y1="1978.8" x2="1599.0" y2="1989.6" stroke="#3d3a39" stroke-width="4.0"/>
<line x1="1546.1" y1="1970.8" x2="1546.1" y2="1989.6" stroke="#3d3a39" stroke-width="4.0"/>
<line x1="1493.1" y1="1978.8" x2="1493.1" y2="1989.6" stroke="#3d3a39" stroke-width="4.0"/>
<line x1="1440.2" y1="1970.8" x2="1440.2" y2="1989.6" stroke="#3d3a39" stroke-width="4.0"/>
<line x1="1387.2" y1="1978.8" x2="1387.2" y2="1989.6" stroke="#3d3a39" stroke-width="4.0"/>
<line x1="1334.3" y1="1970.8" x2="1334.3" y2="1989.6" stroke="#3d3a39" stroke-width="4.0"/>
<line x1="1281.3" y1="1978.8" x2="1281.3" y2="1989.6" stroke="#3d3a39" stroke-width="4.0"/>
<line x1="1228.4" y1="1970.8" x2="1228.4" y2="1989.6" stroke="#3d3a39" stroke-width="4.0"/>
<line x1="1175.4" y1="1978.8" x2="1175.4" y2="1989.6" stroke="#3d3a39" stroke-width="4.0"/>
<line x1="1122.5" y1="1970.8" x2="1122.5" y2="1989.6" stroke="#3d3a39" stroke-width="4.0"/>
<line x1="1120.5" y1="1989.6" x2="2077.5" y2="1989.6" stroke="#282524" stroke-width="4.6"/>
<text x="2075.0" y="2059.0" font-size="65" text-anchor="middle">0</text>
<text x="1969.1" y="2059.0" font-size="65" text-anchor="middle">1</text>
<text x="1863.2" y="2059.0" font-size="65" text-anchor="middle">2</text>
<text x="1757.3" y="2059.0" font-size="65" text-anchor="middle">3</text>
<text x="1651.4" y="2059.0" font-size="65" text-anchor="middle">4</text>
<text x="1545.6" y="2059.0" font-size="65" text-anchor="middle">5</text>
<text x="1439.7" y="2059.0" font-size="65" text-anchor="middle">6</text>
<text x="1333.8" y="2059.0" font-size="65" text-anchor="middle">7</text>
<text x="1227.9" y="2059.0" font-size="65" text-anchor="middle">8</text>
<text x="1122.0" y="2059.0" font-size="65" text-anchor="middle">9</text>
<text x="1289.0" y="2144.7" font-size="68" textLength="622.0" lengthAdjust="spacingAndGlyphs">Chemical shift (ppm)</text>
<line x1="1578.2" y1="1500" x2="1578.0" y2="1740" stroke="#5e5b5a" stroke-width="5.0"/><path d="M1693.1 1156.8 L1693.4 1560 L1693.6 1660" fill="none" stroke="#a9a6a5" stroke-width="4.5"/><path d="M1123.1 1954.9 L1124.5 1951.7 L1125.9 1956.5 L1127.3 1953.7 L1128.7 1956.0 L1130.1 1952.1 L1131.5 1951.0 L1132.9 1953.0 L1134.3 1952.0 L1135.7 1955.5 L1137.1 1951.8 L1138.5 1954.9 L1139.9 1952.8 L1141.3 1951.5 L1142.7 1954.7 L1144.1 1950.7 L1145.5 1955.4 L1146.9 1955.8 L1148.3 1955.6 L1149.7 1952.5 L1151.1 1950.2 L1152.5 1955.7 L1153.9 1951.9 L1155.3 1954.0 L1156.6 1951.9 L1158.0 1949.9 L1159.4 1954.6 L1160.7 1953.4 L1162.1 1953.9 L1163.5 1952.6 L1164.9 1954.4 L1166.2 1954.4 L1167.6 1949.2 L1169.0 1949.5 L1170.3 1950.4 L1171.7 1949.7 L1173.1 1952.8 L1174.4 1951.0 L1175.8 1953.7 L1177.2 1949.6 L1178.6 1951.0 L1179.9 1948.5 L1181.3 1952.3 L1182.7 1951.0 L1184.0 1948.9 L1185.4 1953.2 L1186.8 1953.3 L1188.2 1948.3 L1189.6 1948.1 L1191.0 1950.2 L1192.4 1951.1 L1193.8 1949.3 L1195.2 1951.4 L1196.6 1948.6 L1198.0 1950.3 L1199.4 1950.4 L1200.8 1949.6 L1202.2 1947.8 L1203.6 1948.1 L1205.0 1947.6 L1206.4 1948.6 L1207.8 1948.0 L1209.2 1949.6 L1210.6 1949.7 L1212.0 1948.9 L1213.4 1948.1 L1214.8 1949.4 L1216.2 1951.1 L1217.6 1950.9 L1219.0 1946.5 L1220.4 1947.6 L1221.8 1948.1 L1223.2 1949.6 L1224.6 1949.6 L1226.1 1948.0 L1227.5 1947.8 L1228.9 1949.9 L1230.3 1948.3 L1231.7 1950.5 L1233.1 1945.4 L1234.5 1947.1 L1235.9 1950.6 L1237.3 1948.9 L1238.7 1950.0 L1240.1 1946.2 L1241.5 1948.9 L1242.9 1945.8 L1244.3 1947.6 L1245.7 1945.8 L1247.1 1946.9 L1248.5 1948.9 L1249.9 1946.0 L1251.3 1947.8 L1252.7 1946.6 L1254.1 1949.3 L1255.5 1947.8 L1256.9 1947.7 L1258.3 1945.9 L1259.7 1946.8 L1261.1 1943.9 L1262.5 1944.1 L1263.9 1948.9 L1265.3 1943.9 L1266.7 1948.8 L1268.1 1947.5 L1269.5 1946.9 L1270.9 1947.7 L1272.3 1944.0 L1273.7 1947.8 L1275.1 1947.4 L1276.5 1946.3 L1277.9 1945.9 L1279.3 1945.8 L1280.7 1945.6 L1282.1 1947.7 L1283.5 1944.5 L1284.9 1943.2 L1286.3 1948.5 L1287.7 1945.5 L1289.1 1947.2 L1290.5 1946.7 L1291.9 1945.9 L1293.3 1943.4 L1294.7 1944.1 L1296.1 1945.2 L1297.5 1945.8 L1298.9 1947.3 L1300.3 1944.3 L1301.7 1944.8 L1303.1 1947.6 L1304.5 1947.2 L1305.9 1943.0 L1307.3 1943.2 L1308.7 1946.1 L1310.1 1945.6 L1311.5 1948.1 L1312.9 1946.7 L1314.3 1947.1 L1315.7 1943.7 L1317.1 1945.5 L1318.5 1946.1 L1319.9 1942.5 L1321.3 1945.5 L1322.7 1945.2 L1324.1 1944.6 L1325.5 1944.2 L1326.9 1948.0 L1328.3 1942.9 L1329.7 1944.6 L1331.1 1944.4 L1332.5 1948.4 L1333.9 1942.9 L1335.3 1945.5 L1336.7 1944.8 L1338.1 1947.0 L1339.5 1947.0 L1340.9 1947.0 L1342.3 1948.3 L1343.7 1948.6 L1345.1 1943.6 L1346.5 1943.8 L1347.9 1943.4 L1349.3 1948.6 L1350.7 1949.0 L1352.1 1945.5 L1353.5 1944.0 L1354.8 1944.5 L1356.2 1948.8 L1357.6 1946.6 L1359.0 1945.4 L1360.3 1947.9 L1361.7 1948.9 L1363.1 1947.3 L1364.4 1945.2 L1365.8 1947.2 L1367.2 1950.1 L1368.5 1946.0 L1369.9 1946.2 L1371.3 1950.1 L1372.7 1946.7 L1374.0 1946.8 L1375.4 1947.6 L1376.8 1948.0 L1378.1 1948.4 L1379.5 1951.1 L1380.9 1948.3 L1382.2 1947.7 L1383.6 1947.8 L1385.0 1949.2 L1386.4 1948.5 L1387.7 1952.1 L1389.1 1950.8 L1390.5 1949.0 L1391.8 1953.2 L1393.2 1949.8 L1394.6 1952.7 L1395.9 1949.2 L1397.3 1949.4 L1398.7 1953.3 L1400.1 1948.1 L1401.4 1952.8 L1402.8 1953.3 L1404.2 1949.8 L1405.5 1953.2 L1406.9 1953.1 L1408.3 1953.7 L1409.6 1948.6 L1411.0 1951.5 L1412.4 1952.6 L1413.8 1952.3 L1415.1 1952.9 L1416.5 1948.2 L1417.9 1953.3 L1419.2 1948.8 L1420.6 1947.9 L1422.0 1953.2 L1423.3 1948.6 L1424.7 1952.1 L1426.1 1947.3 L1427.5 1947.3 L1428.8 1947.4 L1430.2 1950.5 L1431.6 1948.2 L1432.9 1949.1 L1434.3 1952.0 L1435.7 1947.6 L1437.0 1947.7 L1438.4 1949.0 L1439.8 1947.7 L1441.2 1948.9 L1442.5 1948.4 L1443.9 1947.6 L1445.3 1945.7 L1446.6 1949.8 L1448.0 1950.6 L1449.4 1947.4 L1450.7 1948.0 L1452.1 1945.6 L1453.5 1949.5 L1454.9 1946.5 L1456.2 1945.8 L1457.6 1945.8 L1459.0 1946.2 L1460.3 1949.2 L1461.7 1947.4 L1463.1 1948.9 L1464.5 1945.6 L1465.8 1946.1 L1467.2 1949.5 L1468.6 1944.7 L1469.9 1945.9 L1471.3 1949.5 L1472.7 1948.5 L1474.0 1946.1 L1475.4 1949.2 L1476.8 1945.4 L1478.2 1947.5 L1479.6 1947.9 L1481.0 1950.1 L1482.4 1948.4 L1483.9 1946.5 L1485.3 1947.5 L1486.7 1946.1 L1488.1 1950.4 L1489.6 1947.1 L1491.0 1945.2 L1492.4 1950.5 L1493.8 1950.1 L1495.3 1948.0 L1496.7 1945.1 L1498.1 1949.5 L1500.0 1950.8 L1501.4 1949.1 L1502.8 1946.9 L1504.2 1950.1 L1505.6 1945.0 L1507.0 1946.3 L1508.4 1946.2 L1509.8 1948.5 L1511.2 1943.8 L1512.6 1946.9 L1514.0 1946.1 L1515.4 1944.7 L1516.8 1943.1 L1518.2 1943.2 L1519.6 1945.6 L1521.0 1941.9 L1522.4 1941.9 L1523.8 1943.9 L1525.2 1944.2 L1526.6 1941.2 L1528.0 1943.9 L1529.4 1941.5 L1530.8 1941.3 L1532.2 1944.4 L1533.6 1942.2 L1535.0 1944.6 L1536.4 1945.5 L1537.8 1943.6 L1539.2 1945.4 L1540.6 1941.8 L1542.0 1942.0 L1543.4 1941.4 L1544.8 1941.0 L1546.2 1941.4 L1547.6 1938.5 L1549.0 1938.3 L1550.4 1938.8 L1551.7 1935.8 L1552.9 1933.5 L1554.2 1930.5 L1555.5 1928.7 L1556.7 1926.3 L1558.0 1919.9 L1559.2 1915.9 L1560.5 1910.4 L1561.8 1905.0 L1563.0 1900.7 L1564.3 1888.2 L1565.5 1876.4 L1566.8 1864.7 L1568.1 1848.7 L1569.3 1833.1 L1570.4 1801.6 L1571.4 1770.2 L1572.5 1740.6 L1573.3 1770.1 L1573.7 1828.9 L1574.2 1770.1 L1574.6 1665.0 L1574.8 1560.0 L1576.2 1156.8 M1582.1 1156.8 L1581.5 1560.0 L1581.7 1738.5 L1582.6 1770.1 L1584.0 1811.9 L1585.7 1843.5 L1586.8 1859.3 L1587.8 1874.9 L1589.1 1889.9 L1590.3 1904.6 L1591.7 1912.7 L1593.1 1919.4 L1594.5 1927.6 L1595.8 1930.9 L1597.1 1930.8 L1598.3 1933.7 L1599.6 1936.0 L1600.8 1936.4 L1602.2 1941.0 L1603.6 1936.9 L1605.0 1940.7 L1606.4 1942.5 L1607.8 1940.1 L1609.2 1941.9 L1610.6 1939.6 L1612.0 1943.8 L1613.4 1941.9 L1614.8 1941.9 L1616.2 1938.9 L1617.6 1942.4 L1619.0 1939.0 L1620.4 1940.9 L1621.8 1942.0 L1623.2 1939.6 L1624.6 1937.5 L1626.1 1942.1 L1627.5 1941.0 L1628.9 1938.9 L1630.3 1938.9 L1631.7 1941.5 L1633.1 1937.1 L1634.5 1938.8 L1635.9 1939.4 L1637.3 1936.2 L1638.7 1938.1 L1640.1 1938.5 L1641.5 1937.2 L1642.9 1938.8 L1644.3 1938.0 L1645.7 1940.7 L1647.1 1937.6 L1648.6 1934.8 L1650.2 1931.5 L1651.3 1926.5 L1652.3 1921.5 L1653.4 1918.7 L1654.4 1915.5 L1655.5 1918.6 L1656.5 1921.6 L1657.6 1927.1 L1658.6 1932.2 L1660.0 1935.8 L1661.3 1937.1 L1662.9 1935.5 L1664.4 1933.7 L1666.0 1933.1 L1667.3 1930.3 L1668.6 1929.3 L1669.9 1926.2 L1671.2 1924.0 L1672.6 1916.7 L1674.0 1911.4 L1675.4 1904.2 L1676.8 1889.8 L1678.2 1875.3 L1679.2 1859.5 L1680.3 1843.9 L1681.9 1827.2 L1683.6 1822.5 L1684.9 1791.1 L1686.6 1738.6 L1688.0 1686.1 L1689.1 1623.1 L1689.9 1560.0 L1690.0 1156.8 M1696.2 1156.8 L1697.1 1560.0 L1697.9 1686.0 L1699.2 1749.1 L1700.2 1791.0 L1701.7 1833.1 L1702.9 1864.5 L1704.0 1883.6 L1705.3 1862.8 L1706.5 1870.7 L1708.0 1891.8 L1709.0 1899.4 L1710.1 1906.7 L1711.7 1911.2 L1713.2 1913.3 L1714.5 1913.4 L1715.9 1911.2 L1717.2 1910.5 L1718.5 1910.6 L1720.1 1903.0 L1721.6 1896.3 L1722.8 1883.4 L1723.9 1870.9 L1725.2 1833.1 L1725.8 1770.1 L1726.5 1712.3 L1727.3 1770.1 L1728.2 1833.1 L1729.0 1855.0 L1730.6 1854.6 L1732.1 1851.2 L1733.2 1845.6 L1734.2 1839.0 L1735.9 1825.1 L1737.4 1817.3 L1739.1 1833.1 L1740.1 1845.5 L1741.2 1858.2 L1742.4 1871.7 L1743.7 1885.7 L1745.1 1891.8 L1746.5 1898.8 L1747.9 1903.4 L1749.3 1905.4 L1750.7 1908.5 L1752.1 1907.9 L1753.4 1908.1 L1754.7 1906.5 L1756.0 1905.4 L1757.4 1903.7 L1758.7 1901.3 L1760.0 1901.0 L1761.3 1899.3 L1762.6 1897.0 L1763.9 1894.6 L1765.2 1891.3 L1766.5 1890.1 L1767.9 1887.6 L1769.3 1886.9 L1770.7 1883.6 L1772.1 1883.1 L1773.5 1886.4 L1774.9 1888.7 L1776.3 1889.5 L1777.6 1892.1 L1778.9 1897.0 L1780.2 1899.3 L1781.5 1902.1 L1782.8 1904.9 L1784.0 1906.0 L1785.3 1907.3 L1786.6 1908.3 L1787.8 1907.0 L1789.1 1908.7 L1790.3 1908.0 L1791.6 1911.1 L1792.9 1911.5 L1794.1 1912.5 L1795.5 1911.9 L1796.9 1912.4 L1798.3 1914.3 L1799.7 1914.0 L1801.1 1917.3 L1802.5 1916.6 L1803.8 1915.5 L1805.1 1912.6 L1806.5 1913.0 L1807.8 1910.8 L1809.1 1906.4 L1810.4 1903.0 L1811.7 1899.9 L1813.0 1895.6 L1814.4 1890.7 L1815.8 1885.5 L1817.2 1878.8 L1818.8 1875.4 L1820.4 1871.8 L1822.0 1875.7 L1823.5 1882.0 L1825.1 1890.6 L1826.7 1900.1 L1828.1 1907.3 L1829.5 1912.5 L1830.9 1919.7 L1832.2 1921.6 L1833.5 1926.3 L1834.8 1928.7 L1836.1 1932.7 L1837.5 1931.1 L1838.9 1934.4 L1840.3 1933.0 L1841.7 1933.5 L1843.1 1937.3 L1844.5 1936.8 L1845.9 1935.1 L1847.3 1934.9 L1848.7 1933.7 L1850.1 1936.1 L1851.5 1933.1 L1852.9 1933.2 L1854.3 1930.5 L1855.7 1930.9 L1857.1 1933.7 L1858.5 1931.1 L1859.8 1931.5 L1861.1 1930.4 L1862.4 1929.9 L1863.7 1931.6 L1865.0 1930.1 L1866.3 1926.5 L1867.6 1927.5 L1869.2 1923.7 L1870.7 1921.3 L1872.3 1919.3 L1873.4 1910.2 L1874.6 1900.4 L1876.5 1879.7 L1878.2 1868.8 L1879.8 1883.8 L1880.9 1898.4 L1881.9 1913.1 L1883.2 1922.2 L1884.5 1931.0 L1885.7 1931.4 L1887.0 1931.9 L1888.2 1934.4 L1889.5 1936.4 L1890.8 1935.3 L1892.2 1936.6 L1893.6 1936.6 L1895.0 1934.5 L1896.4 1937.4 L1897.8 1935.0 L1899.2 1936.0 L1900.4 1933.8 L1901.6 1935.3 L1902.8 1937.9 L1904.1 1933.9 L1905.5 1938.8 L1906.9 1933.6 L1908.2 1937.9 L1909.6 1935.7 L1911.0 1936.1 L1912.3 1934.6 L1913.7 1938.4 L1915.1 1937.8 L1916.4 1937.0 L1917.8 1937.4 L1919.2 1939.7 L1920.5 1939.3 L1921.9 1938.5 L1923.3 1935.5 L1924.6 1939.7 L1926.0 1938.3 L1927.4 1938.1 L1928.7 1938.2 L1930.1 1936.7 L1931.5 1937.9 L1932.9 1936.2 L1934.3 1938.9 L1935.7 1936.8 L1937.1 1940.2 L1938.5 1937.2 L1939.9 1938.9 L1941.3 1939.1 L1942.7 1937.7 L1944.1 1936.7 L1945.5 1942.0 L1946.9 1938.1 L1948.3 1940.0 L1949.7 1939.5 L1951.1 1938.0 L1952.5 1939.0 L1953.9 1939.7 L1955.3 1937.8 L1956.7 1940.4 L1958.1 1938.8 L1959.5 1938.6 L1960.9 1938.0 L1962.3 1937.3 L1963.7 1939.5 L1965.1 1938.1 L1966.5 1939.1 L1967.9 1938.1 L1969.3 1940.9 L1970.7 1942.9 L1972.1 1940.9 L1973.5 1944.1 L1974.9 1941.2 L1976.3 1942.2 L1977.7 1944.0 L1979.1 1943.0 L1980.5 1945.8 L1981.9 1946.2 L1983.3 1941.7 L1984.7 1942.8 L1986.1 1946.0 L1987.5 1946.2 L1988.9 1946.7 L1990.3 1942.4 L1991.7 1944.1 L1993.1 1946.5 L1994.5 1945.6 L1995.9 1943.9 L1997.3 1944.2 L1998.7 1946.1 L2000.1 1947.5 L2001.5 1945.5 L2002.9 1946.9 L2004.3 1948.2 L2005.7 1948.4 L2007.1 1948.2 L2008.5 1948.4 L2009.9 1948.1 L2011.3 1949.0 L2012.7 1949.3 L2014.1 1949.8 L2015.5 1947.4 L2016.9 1944.8 L2018.3 1945.2 L2019.7 1948.7 L2021.1 1946.4 L2022.5 1947.4 L2023.9 1944.9 L2025.3 1944.6 L2026.7 1945.6 L2028.1 1947.0 L2029.5 1943.7 L2030.9 1946.3 L2032.3 1945.8 L2033.7 1947.9 L2035.1 1946.1 L2036.5 1950.0 L2037.9 1949.3 L2039.3 1950.0 L2040.7 1951.2 L2042.1 1950.6 L2043.5 1949.4 L2044.9 1949.8 L2046.3 1950.2 L2047.7 1950.2 L2049.1 1949.3 L2050.5 1951.0 L2051.9 1951.8 L2053.3 1951.0 L2054.7 1950.1 L2056.1 1951.5 L2057.5 1952.2 L2058.9 1952.1 L2060.3 1953.6 L2061.7 1951.5 L2063.1 1951.2 L2064.5 1952.9 L2065.9 1952.7 L2067.3 1949.6 L2068.7 1952.3 L2070.1 1949.8 L2071.5 1950.1 L2072.9 1954.1 L2074.3 1953.3 L2075.7 1953.1 L2077.1 1951.5" fill="none" stroke="#0a0808" stroke-width="3.4" stroke-linejoin="bevel" stroke-linecap="butt"/><path d="M1123.1 1954.9 L1124.5 1951.7 L1125.9 1956.5 L1127.3 1953.7 L1128.7 1956.0 L1130.1 1952.1 L1131.5 1951.0 L1132.9 1953.0 L1134.3 1952.0 L1135.7 1955.5 L1137.1 1951.8 L1138.5 1954.9 L1139.9 1952.8 L1141.3 1951.5 L1142.7 1954.7 L1144.1 1950.7 L1145.5 1955.4 L1146.9 1955.8 L1148.3 1955.6 L1149.7 1952.5 L1151.1 1950.2 L1152.5 1955.7 L1153.9 1951.9 L1155.3 1954.0 L1156.6 1951.9 L1158.0 1949.9 L1159.4 1954.6 L1160.7 1953.4 L1162.1 1953.9 L1163.5 1952.6 L1164.9 1954.4 L1166.2 1954.4 L1167.6 1949.2 L1169.0 1949.5 L1170.3 1950.4 L1171.7 1949.7 L1173.1 1952.8 L1174.4 1951.0 L1175.8 1953.7 L1177.2 1949.6 L1178.6 1951.0 L1179.9 1948.5 L1181.3 1952.3 L1182.7 1951.0 L1184.0 1948.9 L1185.4 1953.2 L1186.8 1953.3 L1188.2 1948.3 L1189.6 1948.1 L1191.0 1950.2 L1192.4 1951.1 L1193.8 1949.3 L1195.2 1951.4 L1196.6 1948.6 L1198.0 1950.3 L1199.4 1950.4 L1200.8 1949.6 L1202.2 1947.8 L1203.6 1948.1 L1205.0 1947.6 L1206.4 1948.6 L1207.8 1948.0 L1209.2 1949.6 L1210.6 1949.7 L1212.0 1948.9 L1213.4 1948.1 L1214.8 1949.4 L1216.2 1951.1 L1217.6 1950.9 L1219.0 1946.5 L1220.4 1947.6 L1221.8 1948.1 L1223.2 1949.6 L1224.6 1949.6 L1226.1 1948.0 L1227.5 1947.8 L1228.9 1949.9 L1230.3 1948.3 L1231.7 1950.5 L1233.1 1945.4 L1234.5 1947.1 L1235.9 1950.6 L1237.3 1948.9 L1238.7 1950.0 L1240.1 1946.2 L1241.5 1948.9 L1242.9 1945.8 L1244.3 1947.6 L1245.7 1945.8 L1247.1 1946.9 L1248.5 1948.9 L1249.9 1946.0 L1251.3 1947.8 L1252.7 1946.6 L1254.1 1949.3 L1255.5 1947.8 L1256.9 1947.7 L1258.3 1945.9 L1259.7 1946.8 L1261.1 1943.9 L1262.5 1944.1 L1263.9 1948.9 L1265.3 1943.9 L1266.7 1948.8 L1268.1 1947.5 L1269.5 1946.9 L1270.9 1947.7 L1272.3 1944.0 L1273.7 1947.8 L1275.1 1947.4 L1276.5 1946.3 L1277.9 1945.9 L1279.3 1945.8 L1280.7 1945.6 L1282.1 1947.7 L1283.5 1944.5 L1284.9 1943.2 L1286.3 1948.5 L1287.7 1945.5 L1289.1 1947.2 L1290.5 1946.7 L1291.9 1945.9 L1293.3 1943.4 L1294.7 1944.1 L1296.1 1945.2 L1297.5 1945.8 L1298.9 1947.3 L1300.3 1944.3 L1301.7 1944.8 L1303.1 1947.6 L1304.5 1947.2 L1305.9 1943.0 L1307.3 1943.2 L1308.7 1946.1 L1310.1 1945.6 L1311.5 1948.1 L1312.9 1946.7 L1314.3 1947.1 L1315.7 1943.7 L1317.1 1945.5 L1318.5 1946.1 L1319.9 1942.5 L1321.3 1945.5 L1322.7 1945.2 L1324.1 1944.6 L1325.5 1944.2 L1326.9 1948.0 L1328.3 1942.9 L1329.7 1944.6 L1331.1 1944.4 L1332.5 1948.4 L1333.9 1942.9 L1335.3 1945.5 L1336.7 1944.8 L1338.1 1947.0 L1339.5 1947.0 L1340.9 1947.0 L1342.3 1948.3 L1343.7 1948.6 L1345.1 1943.6 L1346.5 1943.8 L1347.9 1943.4 L1349.3 1948.6 L1350.7 1949.0 L1352.1 1945.5 L1353.5 1944.0 L1354.8 1944.5 L1356.2 1948.8 L1357.6 1946.6 L1359.0 1945.4 L1360.3 1947.9 L1361.7 1948.9 L1363.1 1947.3 L1364.4 1945.2 L1365.8 1947.2 L1367.2 1950.1 L1368.5 1946.0 L1369.9 1946.2 L1371.3 1950.1 L1372.7 1946.7 L1374.0 1946.8 L1375.4 1947.6 L1376.8 1948.0 L1378.1 1948.4 L1379.5 1951.1 L1380.9 1948.3 L1382.2 1947.7 L1383.6 1947.8 L1385.0 1949.2 L1386.4 1948.5 L1387.7 1952.1 L1389.1 1950.8 L1390.5 1949.0 L1391.8 1953.2 L1393.2 1949.8 L1394.6 1952.7 L1395.9 1949.2 L1397.3 1949.4 L1398.7 1953.3 L1400.1 1948.1 L1401.4 1952.8 L1402.8 1953.3 L1404.2 1949.8 L1405.5 1953.2 L1406.9 1953.1 L1408.3 1953.7 L1409.6 1948.6 L1411.0 1951.5 L1412.4 1952.6 L1413.8 1952.3 L1415.1 1952.9 L1416.5 1948.2 L1417.9 1953.3 L1419.2 1948.8 L1420.6 1947.9 L1422.0 1953.2 L1423.3 1948.6 L1424.7 1952.1 L1426.1 1947.3 L1427.5 1947.3 L1428.8 1947.4 L1430.2 1950.5 L1431.6 1948.2 L1432.9 1949.1 L1434.3 1952.0 L1435.7 1947.6 L1437.0 1947.7 L1438.4 1949.0 L1439.8 1947.7 L1441.2 1948.9 L1442.5 1948.4 L1443.9 1947.6 L1445.3 1945.7 L1446.6 1949.8 L1448.0 1950.6 L1449.4 1947.4 L1450.7 1948.0 L1452.1 1945.6 L1453.5 1949.5 L1454.9 1946.5 L1456.2 1945.8 L1457.6 1945.8 L1459.0 1946.2 L1460.3 1949.2 L1461.7 1947.4 L1463.1 1948.9 L1464.5 1945.6 L1465.8 1946.1 L1467.2 1949.5 L1468.6 1944.7 L1469.9 1945.9 L1471.3 1949.5 L1472.7 1948.5 L1474.0 1946.1 L1475.4 1949.2 L1476.8 1945.4 L1478.2 1947.5 L1479.6 1947.9 L1481.0 1950.1 L1482.4 1948.4 L1483.9 1946.5 L1485.3 1947.5 L1486.7 1946.1 L1488.1 1950.4 L1489.6 1947.1 L1491.0 1945.2 L1492.4 1950.5 L1493.8 1950.1 L1495.3 1948.0 L1496.7 1945.1 L1498.1 1949.5 L1500.0 1950.8 L1501.4 1949.1 L1502.8 1946.9 L1504.2 1950.1 L1505.6 1945.0 L1507.0 1946.3 L1508.4 1946.2 L1509.8 1948.5 L1511.2 1943.8 L1512.6 1946.9 L1514.0 1946.1 L1515.4 1944.7 L1516.8 1943.1 L1518.2 1943.2 L1519.6 1945.6 L1521.0 1941.9 L1522.4 1941.9 L1523.8 1943.9 L1525.2 1944.2 L1526.6 1941.2 L1528.0 1943.9 L1529.4 1941.5 L1530.8 1941.3 L1532.2 1944.4 L1533.6 1942.2 L1535.0 1944.6 L1536.4 1945.5 L1537.8 1943.6 L1539.2 1945.4 L1540.6 1941.8 L1542.0 1942.0 L1543.4 1941.4 L1544.8 1941.0 L1546.2 1941.4 L1547.6 1938.5 L1549.0 1938.3 L1550.4 1938.8 L1551.7 1935.8 L1552.9 1933.5 L1554.2 1930.5 L1555.5 1928.7 L1556.7 1926.3 L1558.0 1919.9 L1559.2 1915.9 L1560.5 1910.4 L1561.8 1905.0 L1563.0 1900.7 L1564.3 1888.2 L1565.5 1876.4 L1566.8 1864.7 L1568.1 1848.7 L1569.3 1833.1 L1570.4 1801.6 L1571.4 1770.2 L1572.5 1740.6 L1573.3 1770.1 L1573.7 1828.9 L1574.2 1770.1 L1574.6 1665.0 L1574.6 1640.0 M1581.6 1640.0 L1581.7 1738.5 L1582.6 1770.1 L1584.0 1811.9 L1585.7 1843.5 L1586.8 1859.3 L1587.8 1874.9 L1589.1 1889.9 L1590.3 1904.6 L1591.7 1912.7 L1593.1 1919.4 L1594.5 1927.6 L1595.8 1930.9 L1597.1 1930.8 L1598.3 1933.7 L1599.6 1936.0 L1600.8 1936.4 L1602.2 1941.0 L1603.6 1936.9 L1605.0 1940.7 L1606.4 1942.5 L1607.8 1940.1 L1609.2 1941.9 L1610.6 1939.6 L1612.0 1943.8 L1613.4 1941.9 L1614.8 1941.9 L1616.2 1938.9 L1617.6 1942.4 L1619.0 1939.0 L1620.4 1940.9 L1621.8 1942.0 L1623.2 1939.6 L1624.6 1937.5 L1626.1 1942.1 L1627.5 1941.0 L1628.9 1938.9 L1630.3 1938.9 L1631.7 1941.5 L1633.1 1937.1 L1634.5 1938.8 L1635.9 1939.4 L1637.3 1936.2 L1638.7 1938.1 L1640.1 1938.5 L1641.5 1937.2 L1642.9 1938.8 L1644.3 1938.0 L1645.7 1940.7 L1647.1 1937.6 L1648.6 1934.8 L1650.2 1931.5 L1651.3 1926.5 L1652.3 1921.5 L1653.4 1918.7 L1654.4 1915.5 L1655.5 1918.6 L1656.5 1921.6 L1657.6 1927.1 L1658.6 1932.2 L1660.0 1935.8 L1661.3 1937.1 L1662.9 1935.5 L1664.4 1933.7 L1666.0 1933.1 L1667.3 1930.3 L1668.6 1929.3 L1669.9 1926.2 L1671.2 1924.0 L1672.6 1916.7 L1674.0 1911.4 L1675.4 1904.2 L1676.8 1889.8 L1678.2 1875.3 L1679.2 1859.5 L1680.3 1843.9 L1681.9 1827.2 L1683.6 1822.5 L1684.9 1791.1 L1686.6 1738.6 L1688.0 1686.1 L1688.8 1640.0 M1697.6 1640.0 L1697.9 1686.0 L1699.2 1749.1 L1700.2 1791.0 L1701.7 1833.1 L1702.9 1864.5 L1704.0 1883.6 L1705.3 1862.8 L1706.5 1870.7 L1708.0 1891.8 L1709.0 1899.4 L1710.1 1906.7 L1711.7 1911.2 L1713.2 1913.3 L1714.5 1913.4 L1715.9 1911.2 L1717.2 1910.5 L1718.5 1910.6 L1720.1 1903.0 L1721.6 1896.3 L1722.8 1883.4 L1723.9 1870.9 L1725.2 1833.1 L1725.8 1770.1 L1726.5 1712.3 L1727.3 1770.1 L1728.2 1833.1 L1729.0 1855.0 L1730.6 1854.6 L1732.1 1851.2 L1733.2 1845.6 L1734.2 1839.0 L1735.9 1825.1 L1737.4 1817.3 L1739.1 1833.1 L1740.1 1845.5 L1741.2 1858.2 L1742.4 1871.7 L1743.7 1885.7 L1745.1 1891.8 L1746.5 1898.8 L1747.9 1903.4 L1749.3 1905.4 L1750.7 1908.5 L1752.1 1907.9 L1753.4 1908.1 L1754.7 1906.5 L1756.0 1905.4 L1757.4 1903.7 L1758.7 1901.3 L1760.0 1901.0 L1761.3 1899.3 L1762.6 1897.0 L1763.9 1894.6 L1765.2 1891.3 L1766.5 1890.1 L1767.9 1887.6 L1769.3 1886.9 L1770.7 1883.6 L1772.1 1883.1 L1773.5 1886.4 L1774.9 1888.7 L1776.3 1889.5 L1777.6 1892.1 L1778.9 1897.0 L1780.2 1899.3 L1781.5 1902.1 L1782.8 1904.9 L1784.0 1906.0 L1785.3 1907.3 L1786.6 1908.3 L1787.8 1907.0 L1789.1 1908.7 L1790.3 1908.0 L1791.6 1911.1 L1792.9 1911.5 L1794.1 1912.5 L1795.5 1911.9 L1796.9 1912.4 L1798.3 1914.3 L1799.7 1914.0 L1801.1 1917.3 L1802.5 1916.6 L1803.8 1915.5 L1805.1 1912.6 L1806.5 1913.0 L1807.8 1910.8 L1809.1 1906.4 L1810.4 1903.0 L1811.7 1899.9 L1813.0 1895.6 L1814.4 1890.7 L1815.8 1885.5 L1817.2 1878.8 L1818.8 1875.4 L1820.4 1871.8 L1822.0 1875.7 L1823.5 1882.0 L1825.1 1890.6 L1826.7 1900.1 L1828.1 1907.3 L1829.5 1912.5 L1830.9 1919.7 L1832.2 1921.6 L1833.5 1926.3 L1834.8 1928.7 L1836.1 1932.7 L1837.5 1931.1 L1838.9 1934.4 L1840.3 1933.0 L1841.7 1933.5 L1843.1 1937.3 L1844.5 1936.8 L1845.9 1935.1 L1847.3 1934.9 L1848.7 1933.7 L1850.1 1936.1 L1851.5 1933.1 L1852.9 1933.2 L1854.3 1930.5 L1855.7 1930.9 L1857.1 1933.7 L1858.5 1931.1 L1859.8 1931.5 L1861.1 1930.4 L1862.4 1929.9 L1863.7 1931.6 L1865.0 1930.1 L1866.3 1926.5 L1867.6 1927.5 L1869.2 1923.7 L1870.7 1921.3 L1872.3 1919.3 L1873.4 1910.2 L1874.6 1900.4 L1876.5 1879.7 L1878.2 1868.8 L1879.8 1883.8 L1880.9 1898.4 L1881.9 1913.1 L1883.2 1922.2 L1884.5 1931.0 L1885.7 1931.4 L1887.0 1931.9 L1888.2 1934.4 L1889.5 1936.4 L1890.8 1935.3 L1892.2 1936.6 L1893.6 1936.6 L1895.0 1934.5 L1896.4 1937.4 L1897.8 1935.0 L1899.2 1936.0 L1900.4 1933.8 L1901.6 1935.3 L1902.8 1937.9 L1904.1 1933.9 L1905.5 1938.8 L1906.9 1933.6 L1908.2 1937.9 L1909.6 1935.7 L1911.0 1936.1 L1912.3 1934.6 L1913.7 1938.4 L1915.1 1937.8 L1916.4 1937.0 L1917.8 1937.4 L1919.2 1939.7 L1920.5 1939.3 L1921.9 1938.5 L1923.3 1935.5 L1924.6 1939.7 L1926.0 1938.3 L1927.4 1938.1 L1928.7 1938.2 L1930.1 1936.7 L1931.5 1937.9 L1932.9 1936.2 L1934.3 1938.9 L1935.7 1936.8 L1937.1 1940.2 L1938.5 1937.2 L1939.9 1938.9 L1941.3 1939.1 L1942.7 1937.7 L1944.1 1936.7 L1945.5 1942.0 L1946.9 1938.1 L1948.3 1940.0 L1949.7 1939.5 L1951.1 1938.0 L1952.5 1939.0 L1953.9 1939.7 L1955.3 1937.8 L1956.7 1940.4 L1958.1 1938.8 L1959.5 1938.6 L1960.9 1938.0 L1962.3 1937.3 L1963.7 1939.5 L1965.1 1938.1 L1966.5 1939.1 L1967.9 1938.1 L1969.3 1940.9 L1970.7 1942.9 L1972.1 1940.9 L1973.5 1944.1 L1974.9 1941.2 L1976.3 1942.2 L1977.7 1944.0 L1979.1 1943.0 L1980.5 1945.8 L1981.9 1946.2 L1983.3 1941.7 L1984.7 1942.8 L1986.1 1946.0 L1987.5 1946.2 L1988.9 1946.7 L1990.3 1942.4 L1991.7 1944.1 L1993.1 1946.5 L1994.5 1945.6 L1995.9 1943.9 L1997.3 1944.2 L1998.7 1946.1 L2000.1 1947.5 L2001.5 1945.5 L2002.9 1946.9 L2004.3 1948.2 L2005.7 1948.4 L2007.1 1948.2 L2008.5 1948.4 L2009.9 1948.1 L2011.3 1949.0 L2012.7 1949.3 L2014.1 1949.8 L2015.5 1947.4 L2016.9 1944.8 L2018.3 1945.2 L2019.7 1948.7 L2021.1 1946.4 L2022.5 1947.4 L2023.9 1944.9 L2025.3 1944.6 L2026.7 1945.6 L2028.1 1947.0 L2029.5 1943.7 L2030.9 1946.3 L2032.3 1945.8 L2033.7 1947.9 L2035.1 1946.1 L2036.5 1950.0 L2037.9 1949.3 L2039.3 1950.0 L2040.7 1951.2 L2042.1 1950.6 L2043.5 1949.4 L2044.9 1949.8 L2046.3 1950.2 L2047.7 1950.2 L2049.1 1949.3 L2050.5 1951.0 L2051.9 1951.8 L2053.3 1951.0 L2054.7 1950.1 L2056.1 1951.5 L2057.5 1952.2 L2058.9 1952.1 L2060.3 1953.6 L2061.7 1951.5 L2063.1 1951.2 L2064.5 1952.9 L2065.9 1952.7 L2067.3 1949.6 L2068.7 1952.3 L2070.1 1949.8 L2071.5 1950.1 L2072.9 1954.1 L2074.3 1953.3 L2075.7 1953.1 L2077.1 1951.5" fill="none" stroke="#0a0808" stroke-width="4.3" stroke-linejoin="bevel" stroke-linecap="round"/><path d="M1123.1 1954.9 L1124.5 1951.7 L1125.9 1956.5 L1127.3 1953.7 L1128.7 1956.0 L1130.1 1952.1 L1131.5 1951.0 L1132.9 1953.0 L1134.3 1952.0 L1135.7 1955.5 L1137.1 1951.8 L1138.5 1954.9 L1139.9 1952.8 L1141.3 1951.5 L1142.7 1954.7 L1144.1 1950.7 L1145.5 1955.4 L1146.9 1955.8 L1148.3 1955.6 L1149.7 1952.5 L1151.1 1950.2 L1152.5 1955.7 L1153.9 1951.9 L1155.3 1954.0 L1156.6 1951.9 L1158.0 1949.9 L1159.4 1954.6 L1160.7 1953.4 L1162.1 1953.9 L1163.5 1952.6 L1164.9 1954.4 L1166.2 1954.4 L1167.6 1949.2 L1169.0 1949.5 L1170.3 1950.4 L1171.7 1949.7 L1173.1 1952.8 L1174.4 1951.0 L1175.8 1953.7 L1177.2 1949.6 L1178.6 1951.0 L1179.9 1948.5 L1181.3 1952.3 L1182.7 1951.0 L1184.0 1948.9 L1185.4 1953.2 L1186.8 1953.3 L1188.2 1948.3 L1189.6 1948.1 L1191.0 1950.2 L1192.4 1951.1 L1193.8 1949.3 L1195.2 1951.4 L1196.6 1948.6 L1198.0 1950.3 L1199.4 1950.4 L1200.8 1949.6 L1202.2 1947.8 L1203.6 1948.1 L1205.0 1947.6 L1206.4 1948.6 L1207.8 1948.0 L1209.2 1949.6 L1210.6 1949.7 L1212.0 1948.9 L1213.4 1948.1 L1214.8 1949.4 L1216.2 1951.1 L1217.6 1950.9 L1219.0 1946.5 L1220.4 1947.6 L1221.8 1948.1 L1223.2 1949.6 L1224.6 1949.6 L1226.1 1948.0 L1227.5 1947.8 L1228.9 1949.9 L1230.3 1948.3 L1231.7 1950.5 L1233.1 1945.4 L1234.5 1947.1 L1235.9 1950.6 L1237.3 1948.9 L1238.7 1950.0 L1240.1 1946.2 L1241.5 1948.9 L1242.9 1945.8 L1244.3 1947.6 L1245.7 1945.8 L1247.1 1946.9 L1248.5 1948.9 L1249.9 1946.0 L1251.3 1947.8 L1252.7 1946.6 L1254.1 1949.3 L1255.5 1947.8 L1256.9 1947.7 L1258.3 1945.9 L1259.7 1946.8 L1261.1 1943.9 L1262.5 1944.1 L1263.9 1948.9 L1265.3 1943.9 L1266.7 1948.8 L1268.1 1947.5 L1269.5 1946.9 L1270.9 1947.7 L1272.3 1944.0 L1273.7 1947.8 L1275.1 1947.4 L1276.5 1946.3 L1277.9 1945.9 L1279.3 1945.8 L1280.7 1945.6 L1282.1 1947.7 L1283.5 1944.5 L1284.9 1943.2 L1286.3 1948.5 L1287.7 1945.5 L1289.1 1947.2 L1290.5 1946.7 L1291.9 1945.9 L1293.3 1943.4 L1294.7 1944.1 L1296.1 1945.2 L1297.5 1945.8 L1298.9 1947.3 L1300.3 1944.3 L1301.7 1944.8 L1303.1 1947.6 L1304.5 1947.2 L1305.9 1943.0 L1307.3 1943.2 L1308.7 1946.1 L1310.1 1945.6 L1311.5 1948.1 L1312.9 1946.7 L1314.3 1947.1 L1315.7 1943.7 L1317.1 1945.5 L1318.5 1946.1 L1319.9 1942.5 L1321.3 1945.5 L1322.7 1945.2 L1324.1 1944.6 L1325.5 1944.2 L1326.9 1948.0 L1328.3 1942.9 L1329.7 1944.6 L1331.1 1944.4 L1332.5 1948.4 L1333.9 1942.9 L1335.3 1945.5 L1336.7 1944.8 L1338.1 1947.0 L1339.5 1947.0 L1340.9 1947.0 L1342.3 1948.3 L1343.7 1948.6 L1345.1 1943.6 L1346.5 1943.8 L1347.9 1943.4 L1349.3 1948.6 L1350.7 1949.0 L1352.1 1945.5 L1353.5 1944.0 L1354.8 1944.5 L1356.2 1948.8 L1357.6 1946.6 L1359.0 1945.4 L1360.3 1947.9 L1361.7 1948.9 L1363.1 1947.3 L1364.4 1945.2 L1365.8 1947.2 L1367.2 1950.1 L1368.5 1946.0 L1369.9 1946.2 L1371.3 1950.1 L1372.7 1946.7 L1374.0 1946.8 L1375.4 1947.6 L1376.8 1948.0 L1378.1 1948.4 L1379.5 1951.1 L1380.9 1948.3 L1382.2 1947.7 L1383.6 1947.8 L1385.0 1949.2 L1386.4 1948.5 L1387.7 1952.1 L1389.1 1950.8 L1390.5 1949.0 L1391.8 1953.2 L1393.2 1949.8 L1394.6 1952.7 L1395.9 1949.2 L1397.3 1949.4 L1398.7 1953.3 L1400.1 1948.1 L1401.4 1952.8 L1402.8 1953.3 L1404.2 1949.8 L1405.5 1953.2 L1406.9 1953.1 L1408.3 1953.7 L1409.6 1948.6 L1411.0 1951.5 L1412.4 1952.6 L1413.8 1952.3 L1415.1 1952.9 L1416.5 1948.2 L1417.9 1953.3 L1419.2 1948.8 L1420.6 1947.9 L1422.0 1953.2 L1423.3 1948.6 L1424.7 1952.1 L1426.1 1947.3 L1427.5 1947.3 L1428.8 1947.4 L1430.2 1950.5 L1431.6 1948.2 L1432.9 1949.1 L1434.3 1952.0 L1435.7 1947.6 L1437.0 1947.7 L1438.4 1949.0 L1439.8 1947.7 L1441.2 1948.9 L1442.5 1948.4 L1443.9 1947.6 L1445.3 1945.7 L1446.6 1949.8 L1448.0 1950.6 L1449.4 1947.4 L1450.7 1948.0 L1452.1 1945.6 L1453.5 1949.5 L1454.9 1946.5 L1456.2 1945.8 L1457.6 1945.8 L1459.0 1946.2 L1460.3 1949.2 L1461.7 1947.4 L1463.1 1948.9 L1464.5 1945.6 L1465.8 1946.1 L1467.2 1949.5 L1468.6 1944.7 L1469.9 1945.9 L1471.3 1949.5 L1472.7 1948.5 L1474.0 1946.1 L1475.4 1949.2 L1476.8 1945.4 L1478.2 1947.5 L1479.6 1947.9 L1481.0 1950.1 L1482.4 1948.4 L1483.9 1946.5 L1485.3 1947.5 L1486.7 1946.1 L1488.1 1950.4 L1489.6 1947.1 L1491.0 1945.2 L1492.4 1950.5 L1493.8 1950.1 L1495.3 1948.0 L1496.7 1945.1 L1498.1 1949.5 L1500.0 1950.8 L1501.4 1949.1 L1502.8 1946.9 L1504.2 1950.1 L1505.6 1945.0 L1507.0 1946.3 L1508.4 1946.2 L1509.8 1948.5 L1511.2 1943.8 L1512.6 1946.9 L1514.0 1946.1 L1515.4 1944.7 L1516.8 1943.1 L1518.2 1943.2 L1519.6 1945.6 L1521.0 1941.9 L1522.4 1941.9 L1523.8 1943.9 L1525.2 1944.2 L1526.6 1941.2 L1528.0 1943.9 L1529.4 1941.5 L1530.8 1941.3 L1532.2 1944.4 L1533.6 1942.2 L1535.0 1944.6 L1536.4 1945.5 L1537.8 1943.6 L1539.2 1945.4 L1540.6 1941.8 L1542.0 1942.0 L1543.4 1941.4 L1544.8 1941.0 L1546.2 1941.4 L1547.6 1938.5 L1549.0 1938.3 L1550.4 1938.8 L1551.7 1935.8 L1552.9 1933.5 L1554.2 1930.5 L1555.5 1928.7 L1556.7 1926.3 L1558.0 1919.9 L1559.2 1915.9 L1560.5 1910.4 L1561.8 1905.0 L1563.0 1900.7 L1564.3 1888.2 L1565.5 1876.4 L1566.8 1864.7 L1568.1 1848.7 L1569.3 1833.1 L1570.4 1801.6 L1571.4 1770.2 L1572.5 1740.6 L1573.3 1770.1 L1573.7 1828.9 L1574.2 1770.1 L1574.3 1740.0 M1581.8 1740.0 L1582.6 1770.1 L1584.0 1811.9 L1585.7 1843.5 L1586.8 1859.3 L1587.8 1874.9 L1589.1 1889.9 L1590.3 1904.6 L1591.7 1912.7 L1593.1 1919.4 L1594.5 1927.6 L1595.8 1930.9 L1597.1 1930.8 L1598.3 1933.7 L1599.6 1936.0 L1600.8 1936.4 L1602.2 1941.0 L1603.6 1936.9 L1605.0 1940.7 L1606.4 1942.5 L1607.8 1940.1 L1609.2 1941.9 L1610.6 1939.6 L1612.0 1943.8 L1613.4 1941.9 L1614.8 1941.9 L1616.2 1938.9 L1617.6 1942.4 L1619.0 1939.0 L1620.4 1940.9 L1621.8 1942.0 L1623.2 1939.6 L1624.6 1937.5 L1626.1 1942.1 L1627.5 1941.0 L1628.9 1938.9 L1630.3 1938.9 L1631.7 1941.5 L1633.1 1937.1 L1634.5 1938.8 L1635.9 1939.4 L1637.3 1936.2 L1638.7 1938.1 L1640.1 1938.5 L1641.5 1937.2 L1642.9 1938.8 L1644.3 1938.0 L1645.7 1940.7 L1647.1 1937.6 L1648.6 1934.8 L1650.2 1931.5 L1651.3 1926.5 L1652.3 1921.5 L1653.4 1918.7 L1654.4 1915.5 L1655.5 1918.6 L1656.5 1921.6 L1657.6 1927.1 L1658.6 1932.2 L1660.0 1935.8 L1661.3 1937.1 L1662.9 1935.5 L1664.4 1933.7 L1666.0 1933.1 L1667.3 1930.3 L1668.6 1929.3 L1669.9 1926.2 L1671.2 1924.0 L1672.6 1916.7 L1674.0 1911.4 L1675.4 1904.2 L1676.8 1889.8 L1678.2 1875.3 L1679.2 1859.5 L1680.3 1843.9 L1681.9 1827.2 L1683.6 1822.5 L1684.9 1791.1 L1686.5 1740.0 M1699.0 1740.0 L1699.2 1749.1 L1700.2 1791.0 L1701.7 1833.1 L1702.9 1864.5 L1704.0 1883.6 L1705.3 1862.8 L1706.5 1870.7 L1708.0 1891.8 L1709.0 1899.4 L1710.1 1906.7 L1711.7 1911.2 L1713.2 1913.3 L1714.5 1913.4 L1715.9 1911.2 L1717.2 1910.5 L1718.5 1910.6 L1720.1 1903.0 L1721.6 1896.3 L1722.8 1883.4 L1723.9 1870.9 L1725.2 1833.1 L1725.8 1770.1 L1726.2 1740.0 M1726.9 1740.0 L1727.3 1770.1 L1728.2 1833.1 L1729.0 1855.0 L1730.6 1854.6 L1732.1 1851.2 L1733.2 1845.6 L1734.2 1839.0 L1735.9 1825.1 L1737.4 1817.3 L1739.1 1833.1 L1740.1 1845.5 L1741.2 1858.2 L1742.4 1871.7 L1743.7 1885.7 L1745.1 1891.8 L1746.5 1898.8 L1747.9 1903.4 L1749.3 1905.4 L1750.7 1908.5 L1752.1 1907.9 L1753.4 1908.1 L1754.7 1906.5 L1756.0 1905.4 L1757.4 1903.7 L1758.7 1901.3 L1760.0 1901.0 L1761.3 1899.3 L1762.6 1897.0 L1763.9 1894.6 L1765.2 1891.3 L1766.5 1890.1 L1767.9 1887.6 L1769.3 1886.9 L1770.7 1883.6 L1772.1 1883.1 L1773.5 1886.4 L1774.9 1888.7 L1776.3 1889.5 L1777.6 1892.1 L1778.9 1897.0 L1780.2 1899.3 L1781.5 1902.1 L1782.8 1904.9 L1784.0 1906.0 L1785.3 1907.3 L1786.6 1908.3 L1787.8 1907.0 L1789.1 1908.7 L1790.3 1908.0 L1791.6 1911.1 L1792.9 1911.5 L1794.1 1912.5 L1795.5 1911.9 L1796.9 1912.4 L1798.3 1914.3 L1799.7 1914.0 L1801.1 1917.3 L1802.5 1916.6 L1803.8 1915.5 L1805.1 1912.6 L1806.5 1913.0 L1807.8 1910.8 L1809.1 1906.4 L1810.4 1903.0 L1811.7 1899.9 L1813.0 1895.6 L1814.4 1890.7 L1815.8 1885.5 L1817.2 1878.8 L1818.8 1875.4 L1820.4 1871.8 L1822.0 1875.7 L1823.5 1882.0 L1825.1 1890.6 L1826.7 1900.1 L1828.1 1907.3 L1829.5 1912.5 L1830.9 1919.7 L1832.2 1921.6 L1833.5 1926.3 L1834.8 1928.7 L1836.1 1932.7 L1837.5 1931.1 L1838.9 1934.4 L1840.3 1933.0 L1841.7 1933.5 L1843.1 1937.3 L1844.5 1936.8 L1845.9 1935.1 L1847.3 1934.9 L1848.7 1933.7 L1850.1 1936.1 L1851.5 1933.1 L1852.9 1933.2 L1854.3 1930.5 L1855.7 1930.9 L1857.1 1933.7 L1858.5 1931.1 L1859.8 1931.5 L1861.1 1930.4 L1862.4 1929.9 L1863.7 1931.6 L1865.0 1930.1 L1866.3 1926.5 L1867.6 1927.5 L1869.2 1923.7 L1870.7 1921.3 L1872.3 1919.3 L1873.4 1910.2 L1874.6 1900.4 L1876.5 1879.7 L1878.2 1868.8 L1879.8 1883.8 L1880.9 1898.4 L1881.9 1913.1 L1883.2 1922.2 L1884.5 1931.0 L1885.7 1931.4 L1887.0 1931.9 L1888.2 1934.4 L1889.5 1936.4 L1890.8 1935.3 L1892.2 1936.6 L1893.6 1936.6 L1895.0 1934.5 L1896.4 1937.4 L1897.8 1935.0 L1899.2 1936.0 L1900.4 1933.8 L1901.6 1935.3 L1902.8 1937.9 L1904.1 1933.9 L1905.5 1938.8 L1906.9 1933.6 L1908.2 1937.9 L1909.6 1935.7 L1911.0 1936.1 L1912.3 1934.6 L1913.7 1938.4 L1915.1 1937.8 L1916.4 1937.0 L1917.8 1937.4 L1919.2 1939.7 L1920.5 1939.3 L1921.9 1938.5 L1923.3 1935.5 L1924.6 1939.7 L1926.0 1938.3 L1927.4 1938.1 L1928.7 1938.2 L1930.1 1936.7 L1931.5 1937.9 L1932.9 1936.2 L1934.3 1938.9 L1935.7 1936.8 L1937.1 1940.2 L1938.5 1937.2 L1939.9 1938.9 L1941.3 1939.1 L1942.7 1937.7 L1944.1 1936.7 L1945.5 1942.0 L1946.9 1938.1 L1948.3 1940.0 L1949.7 1939.5 L1951.1 1938.0 L1952.5 1939.0 L1953.9 1939.7 L1955.3 1937.8 L1956.7 1940.4 L1958.1 1938.8 L1959.5 1938.6 L1960.9 1938.0 L1962.3 1937.3 L1963.7 1939.5 L1965.1 1938.1 L1966.5 1939.1 L1967.9 1938.1 L1969.3 1940.9 L1970.7 1942.9 L1972.1 1940.9 L1973.5 1944.1 L1974.9 1941.2 L1976.3 1942.2 L1977.7 1944.0 L1979.1 1943.0 L1980.5 1945.8 L1981.9 1946.2 L1983.3 1941.7 L1984.7 1942.8 L1986.1 1946.0 L1987.5 1946.2 L1988.9 1946.7 L1990.3 1942.4 L1991.7 1944.1 L1993.1 1946.5 L1994.5 1945.6 L1995.9 1943.9 L1997.3 1944.2 L1998.7 1946.1 L2000.1 1947.5 L2001.5 1945.5 L2002.9 1946.9 L2004.3 1948.2 L2005.7 1948.4 L2007.1 1948.2 L2008.5 1948.4 L2009.9 1948.1 L2011.3 1949.0 L2012.7 1949.3 L2014.1 1949.8 L2015.5 1947.4 L2016.9 1944.8 L2018.3 1945.2 L2019.7 1948.7 L2021.1 1946.4 L2022.5 1947.4 L2023.9 1944.9 L2025.3 1944.6 L2026.7 1945.6 L2028.1 1947.0 L2029.5 1943.7 L2030.9 1946.3 L2032.3 1945.8 L2033.7 1947.9 L2035.1 1946.1 L2036.5 1950.0 L2037.9 1949.3 L2039.3 1950.0 L2040.7 1951.2 L2042.1 1950.6 L2043.5 1949.4 L2044.9 1949.8 L2046.3 1950.2 L2047.7 1950.2 L2049.1 1949.3 L2050.5 1951.0 L2051.9 1951.8 L2053.3 1951.0 L2054.7 1950.1 L2056.1 1951.5 L2057.5 1952.2 L2058.9 1952.1 L2060.3 1953.6 L2061.7 1951.5 L2063.1 1951.2 L2064.5 1952.9 L2065.9 1952.7 L2067.3 1949.6 L2068.7 1952.3 L2070.1 1949.8 L2071.5 1950.1 L2072.9 1954.1 L2074.3 1953.3 L2075.7 1953.1 L2077.1 1951.5" fill="none" stroke="#0a0808" stroke-width="5.3" stroke-linejoin="bevel" stroke-linecap="round"/><path d="M1123.1 1957.7 L1124.6 1949.5 L1126.1 1957.4 L1127.5 1946.6 L1129.0 1957.9 L1130.5 1947.8 L1131.9 1958.1 L1133.4 1949.4 L1134.9 1963.7 L1136.3 1946.5 L1137.8 1958.5 L1139.3 1947.4 L1140.8 1959.0 L1142.2 1949.0 L1143.7 1957.0 L1145.2 1949.2 L1146.6 1959.3 L1148.1 1947.9 L1149.6 1958.0 L1151.1 1947.2 L1152.5 1958.0 L1154.0 1942.7 L1155.5 1961.7 L1157.0 1947.9 L1158.5 1958.0 L1160.0 1946.1 L1161.5 1956.8 L1163.0 1946.1 L1164.5 1955.8 L1166.0 1946.7 L1167.5 1959.2 L1169.0 1947.2 L1170.5 1957.5 L1172.0 1944.1 L1173.5 1955.9 L1175.0 1945.7 L1176.5 1956.8 L1178.0 1942.6 L1179.5 1956.5 L1181.0 1944.4 L1182.5 1955.2 L1184.0 1945.1 L1185.5 1954.6 L1187.0 1940.1 L1188.5 1954.2 L1190.0 1945.9 L1191.5 1961.6 L1193.0 1945.8 L1194.5 1953.8 L1196.0 1944.1 L1197.5 1956.3 L1199.0 1942.7 L1200.5 1955.3 L1202.0 1945.6 L1203.5 1958.3 L1205.0 1941.6 L1206.5 1954.3 L1208.0 1944.3 L1209.5 1952.9 L1211.0 1944.0 L1212.5 1954.3 L1214.0 1944.8 L1215.5 1953.0 L1217.0 1941.9 L1218.5 1959.6 L1220.0 1944.9 L1221.5 1952.5 L1223.0 1943.0 L1224.5 1953.7 L1226.1 1943.8 L1227.6 1951.7 L1229.1 1938.2 L1230.6 1951.8 L1232.1 1939.4 L1233.6 1951.9 L1235.1 1944.3 L1236.6 1953.3 L1238.1 1941.4 L1239.6 1952.1 L1241.1 1944.1 L1242.6 1956.3 L1244.1 1942.8 L1245.6 1952.3 L1247.1 1943.4 L1248.6 1953.3 L1250.1 1939.8 L1251.6 1950.5 L1253.1 1941.8 L1254.6 1951.1 L1256.1 1943.4 L1257.6 1953.1 L1259.1 1942.1 L1260.6 1951.1 L1262.1 1942.8 L1263.6 1950.0 L1265.1 1942.7 L1266.6 1952.2 L1268.1 1941.2 L1269.6 1951.6 L1271.1 1939.9 L1272.6 1950.1 L1274.1 1940.6 L1275.6 1951.5 L1277.1 1942.5 L1278.6 1950.1 L1280.1 1942.1 L1281.6 1950.9 L1283.1 1937.3 L1284.6 1950.4 L1286.1 1941.6 L1287.6 1949.2 L1289.1 1939.8 L1290.6 1951.3 L1292.1 1942.1 L1293.6 1950.1 L1295.1 1940.6 L1296.6 1949.5 L1298.1 1940.4 L1299.6 1950.6 L1301.1 1941.8 L1302.6 1954.2 L1304.1 1940.5 L1305.6 1951.1 L1307.1 1937.9 L1308.6 1949.4 L1310.1 1940.4 L1311.6 1950.8 L1313.1 1941.6 L1314.6 1950.7 L1316.1 1937.5 L1317.6 1949.6 L1319.1 1941.5 L1320.6 1950.1 L1322.1 1941.9 L1323.6 1949.3 L1325.1 1939.3 L1326.6 1949.5 L1328.1 1939.8 L1329.6 1950.3 L1331.1 1941.5 L1332.6 1949.3 L1334.1 1935.5 L1335.6 1951.8 L1337.1 1940.3 L1338.6 1950.8 L1340.1 1941.7 L1341.6 1952.1 L1343.1 1940.2 L1344.6 1952.2 L1346.1 1940.5 L1347.6 1952.1 L1349.1 1942.1 L1350.6 1950.7 L1352.1 1938.8 L1353.6 1953.5 L1355.1 1942.6 L1356.6 1951.0 L1358.1 1935.9 L1359.6 1954.8 L1361.1 1943.5 L1362.6 1951.9 L1364.1 1941.9 L1365.6 1952.1 L1367.1 1940.0 L1368.6 1952.9 L1370.1 1943.1 L1371.6 1953.0 L1373.1 1943.9 L1374.6 1956.1 L1376.1 1945.2 L1377.6 1954.2 L1379.1 1946.0 L1380.6 1958.0 L1382.1 1946.3 L1383.6 1954.4 L1385.1 1939.1 L1386.6 1954.3 L1388.1 1945.4 L1389.6 1958.4 L1391.1 1945.3 L1392.6 1954.6 L1394.1 1945.4 L1395.6 1954.2 L1397.1 1945.0 L1398.6 1958.1 L1400.1 1946.1 L1401.6 1955.6 L1403.1 1942.8 L1404.6 1954.5 L1406.1 1944.3 L1407.6 1959.2 L1409.1 1943.2 L1410.6 1954.9 L1412.1 1947.5 L1413.6 1955.5 L1415.1 1945.3 L1416.6 1956.0 L1418.1 1943.5 L1419.6 1954.3 L1421.1 1942.6 L1422.6 1958.4 L1424.1 1945.9 L1425.6 1955.1 L1427.1 1941.7 L1428.6 1958.4 L1430.1 1944.2 L1431.6 1955.1 L1433.1 1943.4 L1434.6 1952.9 L1436.1 1944.9 L1437.6 1952.6 L1439.1 1944.4 L1440.6 1953.1 L1442.1 1944.2 L1443.6 1954.5 L1445.1 1944.1 L1446.6 1952.0 L1448.1 1940.9 L1449.6 1956.2 L1451.1 1942.4 L1452.6 1951.6 L1454.1 1941.7 L1455.6 1953.6 L1457.1 1939.5 L1458.6 1952.5 L1460.1 1942.8 L1461.6 1957.8 L1463.1 1943.0 L1464.6 1952.4 L1466.1 1944.2 L1467.6 1952.2 L1469.1 1941.0 L1470.6 1951.9 L1472.1 1940.5 L1473.6 1953.0 L1475.2 1937.1 L1476.7 1950.9 L1478.2 1942.6 L1479.7 1954.7 L1481.2 1942.0 L1482.8 1956.2 L1484.3 1942.4 L1485.8 1951.2 L1487.4 1941.9 L1488.9 1951.9 L1490.4 1943.5 L1492.0 1954.0 L1493.5 1943.6 L1495.0 1951.4 L1496.6 1940.3 L1498.1 1953.4 L1500.0 1945.0 L1501.5 1953.0 L1503.0 1944.2 L1504.5 1952.6 L1506.0 1943.4 L1507.5 1955.4 L1509.0 1943.1 L1510.5 1950.9 L1512.0 1940.1 L1513.5 1951.7 L1515.0 1942.0 L1516.5 1950.8 L1518.0 1940.5 L1519.5 1948.4 L1521.0 1939.0 L1522.5 1949.9 L1524.0 1939.7 L1525.5 1948.2 L1527.0 1935.7 L1528.5 1948.1 L1530.0 1939.6 L1531.5 1947.6 L1533.0 1938.0 L1534.5 1948.4 L1536.0 1937.0 L1537.5 1948.8 L1539.0 1938.5 L1540.5 1945.9 L1542.0 1932.0 L1543.4 1946.4 L1544.8 1936.5 L1546.2 1948.9 L1547.6 1934.5 L1549.0 1942.4 L1550.4 1931.5 L1551.1 1941.3 L1551.8 1929.1 L1552.5 1938.7 L1553.2 1928.5 L1553.9 1941.5 L1554.6 1923.6 L1555.3 1935.0 L1556.0 1922.8 L1556.7 1931.4 L1557.1 1920.5 L1557.5 1926.4 L1557.8 1917.5 L1558.2 1923.0 L1558.6 1909.0 L1558.9 1923.0 L1559.3 1910.7 L1559.7 1917.5 L1560.1 1908.7 L1560.4 1920.2 L1560.8 1905.6 L1561.2 1913.1 L1561.5 1902.7 L1561.9 1909.4 L1562.3 1899.2 L1562.7 1906.7 L1563.0 1896.8 L1563.2 1907.3 L1563.3 1892.3 L1563.5 1899.6 L1563.7 1889.9 L1563.8 1898.0 L1564.0 1887.5 L1564.1 1894.3 L1564.3 1883.0 L1564.4 1894.9 L1564.6 1878.3 L1564.8 1887.5 L1564.9 1878.5 L1565.1 1887.6 L1565.2 1875.7 L1565.4 1881.8 L1565.5 1872.9 L1565.7 1880.2 L1565.9 1869.6 L1566.0 1876.5 L1566.2 1864.8 L1566.3 1872.5 L1566.5 1863.2 L1566.6 1873.6 L1566.8 1859.2 L1566.9 1872.8 L1567.0 1854.8 L1567.2 1864.3 L1567.3 1855.2 L1567.4 1865.6 L1567.5 1845.6 L1567.6 1860.8 L1567.8 1847.5 L1567.9 1859.4 L1568.0 1846.1 L1568.1 1852.8 L1568.2 1843.2 L1568.4 1855.2 L1568.5 1836.0 L1568.6 1850.3 L1568.7 1837.2 L1568.8 1843.6 L1569.0 1833.8 L1569.1 1840.0 L1569.2 1831.0 L1569.3 1839.7 L1569.4 1827.2 L1569.4 1834.7 L1569.5 1825.0 L1569.5 1833.6 L1569.6 1820.5 L1569.6 1827.8 L1569.7 1819.2 L1569.7 1827.8 L1569.8 1813.8 L1569.8 1821.8 L1569.9 1812.1 L1569.9 1818.6 L1570.0 1809.6 L1570.0 1823.1 L1570.1 1805.4 L1570.1 1812.7 L1570.2 1804.0 L1570.2 1809.9 L1570.3 1795.7 L1570.3 1807.1 L1570.4 1797.6 L1570.4 1804.7 L1570.5 1794.7 L1570.5 1800.7 L1570.6 1792.0 L1570.6 1798.3 L1570.7 1787.4 L1570.7 1795.9 L1570.8 1784.9 L1570.8 1791.9 L1570.9 1783.0 L1570.9 1792.3 L1571.0 1777.7 L1571.0 1789.0 L1571.1 1776.8 L1571.1 1785.2 L1571.2 1773.9 L1571.2 1783.0 L1571.3 1769.3 L1571.3 1777.8 L1571.4 1762.9 L1571.4 1774.0 L1571.5 1763.2 L1571.5 1771.2 L1571.6 1762.1 L1571.6 1769.4 L1571.7 1752.7 L1571.7 1765.0 L1571.8 1755.8 L1571.8 1763.3 L1571.9 1753.3 L1572.0 1758.9 L1572.0 1750.2 L1572.1 1763.4 L1572.1 1747.0 L1572.2 1758.3 L1572.2 1743.8 L1572.3 1750.8 L1572.3 1738.3 L1572.4 1747.4 L1572.4 1737.6 M1582.6 1773.7 L1582.6 1766.3 L1582.7 1777.2 L1582.7 1769.0 L1582.8 1781.0 L1582.8 1769.5 L1582.9 1783.3 L1582.9 1775.9 L1583.0 1786.7 L1583.0 1779.5 L1583.1 1788.8 L1583.1 1781.8 L1583.2 1794.3 L1583.2 1786.0 L1583.3 1800.9 L1583.4 1789.1 L1583.4 1797.8 L1583.5 1791.4 L1583.5 1807.3 L1583.6 1795.2 L1583.6 1805.3 L1583.7 1797.6 L1583.7 1807.7 L1583.8 1801.0 L1583.8 1812.5 L1583.9 1797.6 L1583.9 1819.9 L1584.0 1806.2 L1584.0 1816.8 L1584.1 1806.2 L1584.2 1819.6 L1584.3 1811.7 L1584.4 1821.6 L1584.4 1814.6 L1584.5 1827.3 L1584.6 1815.6 L1584.7 1828.3 L1584.8 1818.2 L1584.8 1830.7 L1584.9 1824.8 L1585.0 1835.3 L1585.1 1825.1 L1585.2 1839.5 L1585.2 1830.0 L1585.3 1841.0 L1585.4 1831.8 L1585.5 1847.0 L1585.6 1836.5 L1585.6 1847.6 L1585.7 1839.8 L1585.8 1849.8 L1585.9 1841.3 L1586.0 1852.4 L1586.1 1841.0 L1586.2 1854.9 L1586.3 1847.0 L1586.4 1857.8 L1586.5 1852.0 L1586.6 1860.7 L1586.7 1853.8 L1586.8 1865.8 L1586.9 1857.9 L1587.0 1871.4 L1587.1 1860.3 L1587.2 1873.0 L1587.3 1863.6 L1587.4 1873.0 L1587.5 1866.6 L1587.6 1878.8 L1587.7 1870.2 L1587.8 1880.8 L1587.9 1869.2 L1588.1 1883.3 L1588.2 1875.3 L1588.3 1885.1 L1588.4 1878.6 L1588.6 1888.0 L1588.7 1878.9 L1588.8 1890.3 L1588.9 1884.7 L1589.1 1894.8 L1589.2 1880.3 L1589.3 1897.5 L1589.5 1890.7 L1589.6 1900.2 L1589.7 1892.9 L1589.8 1903.0 L1590.0 1896.4 L1590.1 1905.8 L1590.2 1898.6 L1590.3 1909.2 L1590.6 1901.1 L1590.9 1911.3 L1591.1 1904.6 L1591.4 1915.2 L1591.6 1908.0 L1591.9 1916.7 L1592.2 1906.8 L1592.4 1921.4 L1592.7 1913.4 L1593.0 1922.6 L1593.2 1915.2 L1593.5 1928.7 L1593.8 1912.3 L1594.0 1929.7 L1594.3 1920.5 L1594.5 1931.8 L1595.3 1923.1 L1596.1 1935.7 L1596.9 1926.8 L1597.7 1937.0 L1598.5 1930.3 L1599.3 1940.4 L1600.1 1932.9 L1600.8 1943.5 L1602.2 1932.6 L1603.6 1944.6 L1605.0 1934.7 L1606.4 1944.8 L1607.8 1936.1 L1609.2 1945.9 L1610.8 1937.7 L1612.3 1944.7 L1613.8 1937.3 L1615.4 1951.4 L1616.9 1931.9 L1618.4 1944.1 L1619.9 1936.9 L1621.5 1949.3 L1623.0 1935.0 L1624.5 1945.8 L1626.1 1935.2 L1627.6 1943.5 L1629.1 1935.8 L1630.6 1943.8 L1632.1 1933.3 L1633.6 1946.4 L1635.1 1934.9 L1636.6 1942.8 L1638.1 1935.4 L1639.6 1942.6 L1641.1 1934.9 L1642.6 1945.2 L1644.1 1934.3 L1645.6 1942.9 L1647.1 1933.8 L1647.7 1941.2 L1648.3 1932.1 L1648.9 1941.2 L1649.6 1925.8 L1650.2 1936.7 L1650.5 1926.8 L1650.8 1938.7 L1651.1 1923.7 L1651.4 1929.6 L1651.7 1919.5 L1652.0 1927.8 L1652.3 1913.9 L1652.8 1923.9 L1653.4 1914.5 L1653.9 1920.4 L1654.4 1910.3 L1654.9 1922.1 L1655.5 1912.8 L1656.0 1924.9 L1656.5 1916.2 L1656.8 1928.1 L1657.0 1919.8 L1657.3 1929.6 L1657.6 1922.9 L1657.8 1938.7 L1658.1 1922.6 L1658.4 1935.9 L1658.6 1927.8 L1659.5 1938.1 L1660.4 1931.7 L1661.3 1941.5 L1662.5 1931.3 L1663.7 1939.5 L1664.8 1930.9 L1666.0 1937.6 L1666.6 1929.1 L1667.3 1938.5 L1667.9 1920.9 L1668.6 1933.1 L1669.2 1922.7 L1669.9 1931.5 L1670.6 1920.9 L1671.2 1929.0 L1671.5 1914.7 L1671.9 1925.3 L1672.2 1914.1 L1672.5 1921.2 L1672.8 1912.6 L1673.2 1919.2 L1673.5 1908.2 L1673.8 1915.2 L1674.1 1905.8 L1674.5 1913.2 L1674.8 1902.8 L1675.1 1911.8 L1675.4 1898.5 L1675.6 1912.8 L1675.7 1897.1 L1675.8 1904.0 L1676.0 1894.5 L1676.1 1903.5 L1676.2 1890.1 L1676.4 1899.4 L1676.5 1888.8 L1676.6 1895.1 L1676.8 1885.9 L1676.9 1893.2 L1677.1 1882.7 L1677.2 1891.5 L1677.3 1880.2 L1677.5 1888.3 L1677.6 1877.6 L1677.7 1885.3 L1677.9 1872.0 L1678.0 1880.6 L1678.2 1871.3 L1678.3 1879.7 L1678.4 1865.7 L1678.5 1874.2 L1678.6 1865.6 L1678.7 1872.1 L1678.8 1860.5 L1678.9 1875.2 L1679.0 1855.6 L1679.1 1867.6 L1679.2 1855.9 L1679.3 1862.3 L1679.4 1851.3 L1679.5 1860.2 L1679.6 1849.8 L1679.7 1856.2 L1679.8 1845.3 L1679.9 1853.2 L1680.0 1842.5 L1680.1 1854.5 L1680.2 1840.7 L1680.3 1847.7 L1680.4 1836.6 L1680.6 1846.7 L1680.7 1834.3 L1680.9 1841.8 L1681.0 1832.4 L1681.2 1842.8 L1681.3 1828.7 L1681.5 1840.9 L1681.6 1824.6 L1681.8 1832.1 L1681.9 1822.6 L1682.5 1829.0 L1683.1 1820.5 L1683.6 1826.5 L1683.7 1815.0 L1683.7 1826.4 L1683.8 1811.2 L1683.9 1821.1 L1683.9 1811.3 L1684.0 1818.5 L1684.0 1808.1 L1684.1 1814.0 L1684.2 1802.9 L1684.2 1812.1 L1684.3 1802.6 L1684.3 1808.7 L1684.4 1799.1 L1684.5 1806.1 L1684.5 1790.0 L1684.6 1804.3 L1684.6 1792.0 L1684.7 1800.9 L1684.8 1786.2 L1684.8 1799.3 L1684.9 1787.0 L1684.9 1795.6 L1685.0 1781.5 L1685.0 1791.9 L1685.1 1781.6 L1685.1 1788.6 L1685.2 1778.0 L1685.2 1784.0 L1685.3 1774.6 L1685.3 1786.2 L1685.4 1766.1 L1685.4 1779.5 L1685.5 1766.3 L1685.5 1775.7 L1685.5 1765.2 L1685.6 1773.3 L1685.6 1762.1 L1685.7 1773.7 L1685.7 1759.8 L1685.8 1766.8 L1685.8 1752.2 L1685.9 1765.2 L1685.9 1753.3 L1686.0 1760.4 L1686.0 1751.3 L1686.1 1758.7 L1686.1 1747.6 L1686.2 1754.7 L1686.2 1745.1 L1686.3 1752.8 L1686.3 1742.4 L1686.4 1749.8 L1686.4 1738.7 L1686.5 1747.4 L1686.5 1736.2 M1700.2 1794.8 L1700.3 1788.5 L1700.3 1800.4 L1700.4 1788.9 L1700.4 1800.9 L1700.5 1790.6 L1700.5 1803.8 L1700.6 1797.8 L1700.6 1814.1 L1700.7 1795.8 L1700.7 1812.8 L1700.8 1804.0 L1700.8 1814.5 L1700.9 1803.2 L1700.9 1815.5 L1701.0 1810.1 L1701.1 1819.3 L1701.1 1813.0 L1701.2 1823.7 L1701.2 1814.6 L1701.3 1827.4 L1701.3 1812.4 L1701.4 1827.8 L1701.4 1821.6 L1701.5 1832.7 L1701.5 1824.7 L1701.6 1835.0 L1701.6 1828.1 L1701.7 1837.2 L1701.7 1830.9 L1701.8 1839.9 L1701.9 1832.9 L1701.9 1842.6 L1702.0 1835.9 L1702.0 1846.7 L1702.1 1839.9 L1702.2 1850.9 L1702.2 1839.4 L1702.3 1853.6 L1702.3 1845.8 L1702.4 1855.3 L1702.5 1847.4 L1702.5 1859.9 L1702.6 1850.2 L1702.6 1862.0 L1702.7 1852.2 L1702.8 1865.2 L1702.8 1856.5 L1702.9 1866.7 L1702.9 1860.9 L1703.0 1871.1 L1703.1 1860.2 L1703.2 1875.1 L1703.3 1863.0 L1703.3 1876.2 L1703.4 1869.9 L1703.5 1879.6 L1703.6 1871.9 L1703.7 1882.7 L1703.7 1874.7 L1703.8 1884.6 L1703.9 1875.0 L1704.0 1889.1 L1704.1 1877.0 L1704.2 1886.4 L1704.3 1875.5 L1704.4 1881.9 L1704.4 1872.5 L1704.5 1878.4 L1704.6 1867.8 L1704.7 1882.5 L1704.8 1863.5 L1704.9 1872.5 L1705.0 1863.6 L1705.1 1870.3 L1705.2 1858.0 L1705.3 1866.2 L1705.5 1860.4 L1705.7 1870.5 L1705.9 1863.0 L1706.1 1873.4 L1706.3 1865.0 L1706.5 1874.4 L1706.6 1861.4 L1706.7 1880.0 L1706.8 1869.9 L1706.9 1880.4 L1707.0 1873.7 L1707.1 1885.5 L1707.2 1877.6 L1707.4 1886.4 L1707.5 1880.9 L1707.6 1893.0 L1707.7 1883.8 L1707.8 1892.9 L1707.9 1883.3 L1708.0 1896.1 L1708.2 1889.4 L1708.4 1898.9 L1708.6 1889.1 L1708.8 1905.3 L1709.0 1895.2 L1709.2 1905.5 L1709.5 1896.4 L1709.7 1907.8 L1709.9 1901.3 L1710.1 1913.7 L1710.6 1903.6 L1711.1 1913.6 L1711.7 1904.1 L1712.2 1917.6 L1712.7 1909.4 L1713.2 1920.1 L1714.5 1908.6 L1715.9 1920.7 L1717.2 1904.1 L1718.5 1915.8 L1718.8 1903.7 L1719.1 1913.3 L1719.4 1902.5 L1719.7 1909.8 L1720.1 1900.0 L1720.4 1906.0 L1720.7 1895.7 L1721.0 1902.8 L1721.3 1894.2 L1721.6 1900.7 L1721.8 1890.7 L1721.9 1897.8 L1722.0 1886.7 L1722.2 1896.4 L1722.3 1885.3 L1722.5 1890.7 L1722.6 1879.4 L1722.7 1888.6 L1722.9 1877.5 L1723.0 1886.9 L1723.1 1876.1 L1723.3 1884.6 L1723.4 1868.9 L1723.5 1878.8 L1723.7 1870.2 L1723.8 1876.5 L1723.9 1866.0 L1724.0 1874.4 L1724.1 1863.6 L1724.1 1870.4 L1724.2 1861.3 L1724.2 1868.2 L1724.3 1856.7 L1724.3 1865.9 L1724.4 1852.6 L1724.4 1862.9 L1724.5 1850.9 L1724.5 1858.3 L1724.6 1847.3 L1724.6 1861.4 L1724.7 1845.8 L1724.7 1853.0 L1724.8 1840.8 L1724.8 1849.9 L1724.9 1839.8 L1724.9 1848.2 L1725.0 1836.8 L1725.0 1843.3 L1725.1 1832.1 L1725.1 1840.6 L1725.2 1828.1 M1728.2 1838.5 L1728.2 1831.1 L1728.3 1844.1 L1728.3 1833.3 L1728.4 1842.9 L1728.4 1836.9 L1728.5 1846.9 L1728.5 1839.9 L1728.6 1851.1 L1728.7 1841.6 L1728.7 1854.7 L1728.8 1844.3 L1728.8 1856.6 L1728.9 1848.2 L1728.9 1860.1 L1729.0 1850.6 L1729.8 1858.6 L1730.6 1849.3 L1731.4 1856.4 L1732.1 1847.4 L1732.4 1854.4 L1732.7 1837.6 L1732.9 1851.0 L1733.2 1835.8 L1733.5 1849.2 L1733.7 1832.8 L1734.0 1845.2 L1734.2 1835.6 L1734.4 1841.9 L1734.6 1827.3 L1734.7 1838.5 L1734.9 1828.2 L1735.1 1838.8 L1735.3 1823.5 L1735.4 1836.7 L1735.6 1823.6 L1735.8 1832.8 L1735.9 1816.8 L1736.2 1826.7 L1736.5 1814.6 L1736.8 1825.8 L1737.1 1814.2 L1737.4 1822.0 L1737.5 1815.1 L1737.7 1824.0 L1737.9 1818.0 L1738.0 1827.6 L1738.2 1818.1 L1738.3 1832.0 L1738.5 1823.3 L1738.6 1833.0 L1738.8 1826.6 L1738.9 1836.4 L1739.1 1829.2 L1739.2 1838.0 L1739.3 1832.5 L1739.4 1841.5 L1739.6 1833.4 L1739.7 1846.0 L1739.8 1838.4 L1739.9 1848.1 L1740.1 1840.4 L1740.2 1851.8 L1740.3 1842.7 L1740.4 1852.9 L1740.6 1846.3 L1740.7 1856.0 L1740.8 1848.4 L1740.9 1859.5 L1741.1 1852.4 L1741.2 1862.9 L1741.3 1854.2 L1741.5 1864.9 L1741.6 1855.4 L1741.7 1869.7 L1741.9 1856.6 L1742.0 1872.7 L1742.2 1862.4 L1742.3 1875.0 L1742.4 1867.2 L1742.6 1878.0 L1742.7 1867.7 L1742.9 1881.6 L1743.0 1874.4 L1743.1 1888.6 L1743.3 1873.3 L1743.4 1887.6 L1743.6 1879.3 L1743.7 1889.6 L1744.0 1882.9 L1744.3 1892.3 L1744.7 1885.1 L1745.0 1896.8 L1745.3 1889.4 L1745.6 1903.7 L1746.0 1888.9 L1746.3 1906.4 L1746.6 1895.0 L1746.9 1904.2 L1747.3 1896.3 L1747.6 1909.0 L1747.9 1901.0 L1748.9 1910.9 L1750.0 1903.0 L1751.1 1911.7 L1752.1 1904.6 L1753.4 1913.9 L1754.7 1903.2 L1756.0 1909.5 L1757.4 1901.0 L1758.1 1911.7 L1758.9 1898.0 L1759.6 1905.0 L1760.4 1891.1 L1761.1 1902.4 L1761.9 1891.7 L1762.6 1902.3 L1763.4 1891.0 L1764.1 1897.8 L1764.9 1887.9 L1765.6 1895.9 L1766.4 1884.5 L1767.1 1892.5 L1767.9 1882.7 L1768.9 1890.2 L1770.0 1878.7 L1771.0 1888.6 L1772.1 1880.1 L1772.9 1890.6 L1773.7 1881.5 L1774.6 1890.9 L1775.4 1884.7 L1776.3 1896.5 L1776.8 1881.9 L1777.4 1899.2 L1778.0 1890.3 L1778.6 1899.7 L1779.2 1890.9 L1779.8 1903.1 L1780.3 1893.6 L1780.9 1905.7 L1781.5 1896.0 L1782.8 1912.1 L1784.0 1900.6 L1785.3 1910.0 L1786.6 1898.8 L1787.8 1911.4 L1789.1 1904.4 L1790.3 1912.4 L1791.6 1903.1 L1792.9 1914.1 L1794.1 1905.9 L1795.3 1915.5 L1796.5 1908.1 L1797.7 1920.2 L1798.9 1911.0 L1800.1 1924.4 L1801.3 1910.2 L1802.5 1923.5 L1803.6 1908.3 L1804.6 1921.4 L1805.7 1909.6 L1806.7 1915.6 L1807.8 1902.0 L1808.3 1914.6 L1808.8 1898.2 L1809.3 1910.1 L1809.9 1900.1 L1810.4 1909.0 L1810.9 1897.9 L1811.4 1906.5 L1812.0 1895.5 L1812.5 1901.1 L1813.0 1891.9 L1813.4 1902.1 L1813.7 1886.3 L1814.1 1899.3 L1814.4 1883.2 L1814.8 1893.9 L1815.1 1882.9 L1815.5 1891.1 L1815.8 1881.2 L1816.2 1888.2 L1816.5 1877.4 L1816.9 1884.5 L1817.2 1875.1 L1817.8 1883.4 L1818.3 1871.7 L1818.8 1881.8 L1819.3 1869.8 L1819.9 1876.9 L1820.4 1864.6 L1820.8 1878.2 L1821.3 1868.8 L1821.7 1880.5 L1822.2 1873.4 L1822.6 1882.2 L1823.1 1875.5 L1823.5 1885.1 L1823.8 1878.6 L1824.0 1891.9 L1824.3 1882.4 L1824.5 1891.1 L1824.7 1885.1 L1825.0 1893.9 L1825.2 1887.0 L1825.5 1897.7 L1825.7 1883.5 L1826.0 1900.6 L1826.2 1892.9 L1826.4 1902.3 L1826.7 1896.8 L1827.0 1907.0 L1827.3 1899.8 L1827.7 1908.9 L1828.0 1898.1 L1828.3 1918.6 L1828.6 1905.3 L1828.9 1915.6 L1829.3 1907.9 L1829.6 1921.9 L1829.9 1909.8 L1830.2 1921.0 L1830.6 1913.5 L1830.9 1922.8 L1831.5 1914.2 L1832.0 1925.9 L1832.6 1916.5 L1833.2 1932.4 L1833.8 1922.4 L1834.4 1932.3 L1835.0 1924.6 L1835.6 1936.7 L1836.1 1926.7 L1837.5 1936.2 L1838.9 1925.8 L1840.3 1939.0 L1841.7 1930.5 L1843.1 1939.6 L1844.5 1930.5 L1845.9 1943.3 L1847.3 1931.0 L1848.7 1938.4 L1850.1 1930.3 L1851.5 1938.3 L1852.9 1926.0 L1854.3 1936.4 L1855.7 1928.5 L1857.1 1937.5 L1858.5 1925.9 L1859.8 1935.2 L1861.1 1922.5 L1862.4 1936.0 L1863.7 1924.4 L1865.0 1932.9 L1866.3 1919.1 L1867.6 1931.4 L1868.4 1919.9 L1869.2 1928.9 L1870.0 1919.8 L1870.7 1927.6 L1871.5 1914.5 L1872.3 1923.8 L1872.4 1914.2 L1872.6 1921.1 L1872.8 1907.0 L1873.0 1917.6 L1873.2 1906.8 L1873.3 1921.5 L1873.5 1905.3 L1873.7 1913.6 L1873.9 1901.6 L1874.0 1910.4 L1874.2 1894.1 L1874.4 1906.9 L1874.6 1896.3 L1874.7 1902.3 L1874.8 1892.5 L1875.0 1900.7 L1875.1 1884.9 L1875.3 1896.4 L1875.4 1885.9 L1875.5 1895.0 L1875.7 1883.8 L1875.8 1890.4 L1875.9 1880.5 L1876.1 1888.3 L1876.2 1877.5 L1876.3 1886.3 L1876.5 1868.3 L1876.7 1883.2 L1877.0 1872.4 L1877.2 1879.2 L1877.4 1869.4 L1877.7 1878.3 L1877.9 1866.8 L1878.2 1872.6 L1878.3 1864.7 L1878.5 1880.0 L1878.7 1869.5 L1878.8 1878.4 L1879.0 1870.7 L1879.2 1881.2 L1879.3 1874.6 L1879.5 1887.0 L1879.7 1873.0 L1879.8 1888.1 L1879.9 1878.4 L1880.0 1895.5 L1880.1 1876.9 L1880.3 1894.5 L1880.4 1883.6 L1880.5 1896.6 L1880.6 1889.9 L1880.7 1902.4 L1880.8 1892.3 L1880.9 1902.7 L1881.0 1894.3 L1881.1 1905.5 L1881.2 1898.6 L1881.3 1909.7 L1881.4 1900.0 L1881.5 1913.9 L1881.6 1904.2 L1881.7 1913.8 L1881.8 1906.3 L1881.9 1916.6 L1882.1 1909.1 L1882.3 1922.7 L1882.5 1913.1 L1882.7 1922.4 L1882.9 1914.7 L1883.1 1926.1 L1883.3 1918.3 L1883.5 1928.5 L1883.7 1922.5 L1883.9 1931.4 L1884.1 1924.4 L1884.3 1937.7 L1884.5 1925.6 L1885.7 1936.2 L1887.0 1929.0 L1888.2 1938.3 L1889.5 1931.5 L1890.8 1941.9 L1892.2 1932.3 L1893.6 1940.1 L1895.0 1932.1 L1896.4 1939.5 L1897.8 1927.3 L1899.2 1941.4 L1901.0 1931.9 L1902.8 1939.9 L1904.3 1929.9 L1905.8 1944.2 L1907.3 1932.0 L1908.8 1943.9 L1910.4 1930.9 L1911.9 1946.1 L1913.4 1930.9 L1914.9 1942.4 L1916.4 1933.8 L1917.9 1942.1 L1919.5 1932.9 L1921.0 1941.9 L1922.5 1933.0 L1924.0 1942.2 L1925.5 1933.7 L1927.0 1943.2 L1928.6 1930.9 L1930.1 1943.7 L1931.6 1932.8 L1933.1 1945.1 L1934.6 1930.0 L1936.1 1945.4 L1937.6 1934.6 L1939.1 1948.7 L1940.6 1934.7 L1942.1 1946.6 L1943.6 1931.1 L1945.1 1943.7 L1946.6 1935.2 L1948.1 1945.4 L1949.6 1933.8 L1951.1 1943.4 L1952.5 1935.3 L1953.9 1943.1 L1955.3 1930.6 L1956.7 1943.0 L1958.1 1934.6 L1959.5 1942.3 L1960.9 1933.8 L1962.3 1941.7 L1963.7 1933.7 L1965.1 1942.2 L1966.5 1929.2 L1967.9 1943.9 L1969.3 1936.7 L1970.7 1944.9 L1972.1 1938.4 L1973.6 1950.9 L1975.1 1938.5 L1976.6 1948.3 L1978.1 1938.2 L1979.6 1948.1 L1981.1 1938.5 L1982.6 1947.4 L1984.1 1939.8 L1985.6 1948.1 L1987.1 1940.7 L1988.6 1949.3 L1990.1 1938.9 L1991.6 1948.5 L1993.1 1941.1 L1994.6 1950.1 L1996.1 1939.7 L1997.6 1950.7 L1999.1 1941.1 L2000.6 1950.4 L2002.1 1941.9 L2003.6 1949.8 L2005.1 1937.1 L2006.6 1950.6 L2008.1 1941.7 L2009.6 1951.2 L2011.1 1938.8 L2012.6 1952.6 L2014.1 1936.3 L2015.6 1951.0 L2017.2 1939.2 L2018.7 1950.3 L2020.2 1942.6 L2021.8 1950.1 L2023.3 1941.7 L2024.8 1951.4 L2026.3 1941.8 L2027.9 1949.2 L2029.4 1941.0 L2030.9 1950.1 L2032.3 1941.6 L2033.7 1950.8 L2035.1 1942.5 L2036.5 1951.7 L2037.9 1943.5 L2039.3 1956.2 L2040.7 1945.2 L2042.1 1954.9 L2043.5 1945.5 L2045.1 1957.1 L2046.7 1946.8 L2048.3 1956.5 L2049.8 1941.0 L2051.4 1956.3 L2053.0 1948.4 L2054.6 1956.3 L2056.1 1947.8 L2057.6 1957.1 L2059.1 1946.9 L2060.6 1959.7 L2062.1 1943.6 L2063.6 1959.8 L2065.1 1948.6 L2066.6 1957.4 L2068.1 1948.4 L2069.6 1956.3 L2071.1 1947.3 L2072.6 1956.3 L2074.1 1943.7 L2075.6 1955.5" fill="none" stroke="#0a0808" stroke-width="2.1" stroke-linejoin="bevel" stroke-linecap="butt"/><line x1="1579.2" y1="1156.8" x2="1578.2" y2="1500" stroke="#0a0808" stroke-width="4.5"/>
</g>
<text x="102.5" y="170.4" font-size="77">(a)</text>
<text x="1175.0" y="167.0" font-size="77">(b)</text>
<text x="102.0" y="1287.5" font-size="77">(c)</text>
<text x="1175.0" y="1270.7" font-size="77">(d)</text>
<g id="inset-b">
<line x1="1207.3" y1="668.5" x2="1207.3" y2="674.0" stroke="#161313" stroke-width="2.7"/>
<text transform="translate(1207.3 689.8) scale(1.250 1)" font-size="11.5" text-anchor="middle" stroke="#0c0909" stroke-width="0.34">8.0</text>
<line x1="1237.2" y1="670.8" x2="1237.2" y2="674.0" stroke="#161313" stroke-width="2.7"/>
<line x1="1267.1" y1="668.5" x2="1267.1" y2="674.0" stroke="#161313" stroke-width="2.7"/>
<text transform="translate(1267.1 689.8) scale(1.250 1)" font-size="11.5" text-anchor="middle" stroke="#0c0909" stroke-width="0.34">7.5</text>
<line x1="1297.0" y1="670.8" x2="1297.0" y2="674.0" stroke="#161313" stroke-width="2.7"/>
<line x1="1326.9" y1="668.5" x2="1326.9" y2="674.0" stroke="#161313" stroke-width="2.7"/>
<text transform="translate(1326.9 689.8) scale(1.250 1)" font-size="11.5" text-anchor="middle" stroke="#0c0909" stroke-width="0.34">7.0</text>
<line x1="1356.9" y1="670.8" x2="1356.9" y2="674.0" stroke="#161313" stroke-width="2.7"/>
<line x1="1386.8" y1="668.5" x2="1386.8" y2="674.0" stroke="#161313" stroke-width="2.7"/>
<text transform="translate(1386.8 689.8) scale(1.250 1)" font-size="11.5" text-anchor="middle" stroke="#0c0909" stroke-width="0.34">6.5</text>
<line x1="1416.7" y1="670.8" x2="1416.7" y2="674.0" stroke="#161313" stroke-width="2.7"/>
<line x1="1446.6" y1="668.5" x2="1446.6" y2="674.0" stroke="#161313" stroke-width="2.7"/>
<text transform="translate(1446.6 689.8) scale(1.250 1)" font-size="11.5" text-anchor="middle" stroke="#0c0909" stroke-width="0.34">6.0</text>
<line x1="1205.8" y1="674.0" x2="1448.1" y2="674.0" stroke="#161313" stroke-width="3.0"/>
<path d="M1207.8 644.3 L1446.8 644.3" fill="none" stroke="#0a0808" stroke-width="10.0" stroke-linejoin="round" stroke-linecap="butt"/><path d="M1208.0 656.9 L1209.0 636.5 L1211.3 652.6 L1212.9 634.4 L1214.3 655.1 L1215.7 639.3 L1217.7 650.2 L1218.7 637.0 L1220.7 649.7 L1222.2 639.1 L1223.9 655.1 L1225.8 635.6 L1227.3 651.5 L1228.3 639.0 L1230.1 651.4 L1232.1 633.9 L1233.4 653.1 L1235.3 638.3 L1236.5 658.1 L1238.6 634.6 L1240.1 651.9 L1241.7 634.1 L1243.0 653.6 L1244.6 634.3 L1246.3 653.4 L1247.9 630.5 L1249.4 653.5 L1251.3 636.9 L1253.0 655.0 L1254.1 634.9 L1255.9 654.5 L1257.7 637.2 L1258.9 653.2 L1260.7 633.5 L1262.0 649.8 L1264.3 637.1 L1265.7 653.5 L1267.2 635.1 L1268.6 655.5 L1270.5 635.8 L1272.1 652.6 L1273.9 636.3 L1274.9 655.7 L1277.1 635.6 L1278.2 651.3 L1280.1 636.5 L1281.4 655.7 L1283.2 634.5 L1285.1 650.1 L1286.3 632.8 L1288.2 649.5 L1289.8 630.0 L1291.6 649.5 L1293.0 627.8 L1294.7 652.3 L1295.9 629.5 L1297.5 653.9 L1298.9 628.8 L1301.2 655.8 L1302.2 633.8 L1304.3 655.9 L1305.8 638.3 L1307.6 650.9 L1308.5 637.2 L1310.6 659.3 L1312.1 635.5 L1314.0 655.5 L1315.0 637.0 L1317.1 654.7 L1318.2 633.1 L1320.4 653.5 L1321.7 637.9 L1323.2 652.6 L1324.5 634.8 L1326.5 652.0 L1328.5 639.3 L1329.9 655.3 L1331.2 636.4 L1332.9 653.3 L1334.6 637.7 L1336.0 651.1 L1337.8 637.2 L1339.3 649.3 L1340.8 634.0 L1342.4 655.0 L1343.8 636.1 L1345.9 651.5 L1347.4 638.7 L1348.8 652.8 L1350.3 633.2 L1352.4 650.6 L1353.5 633.7 L1355.4 649.6 L1357.1 629.4 L1358.3 653.8 L1360.0 639.3 L1361.5 650.8 L1363.0 635.7 L1365.0 653.8 L1366.3 636.6 L1368.6 651.1 L1369.8 630.7 L1371.4 654.5 L1372.6 634.5 L1374.8 652.4 L1376.5 634.9 L1377.9 651.2 L1379.2 633.7 L1380.7 651.0 L1382.5 635.1 L1384.3 655.8 L1385.9 632.6 L1387.6 654.4 L1389.1 637.9 L1390.4 652.8 L1392.6 632.9 L1394.2 651.4 L1395.8 632.7 L1397.2 650.4 L1398.4 637.4 L1400.0 654.7 L1401.9 637.9 L1403.5 650.8 L1405.1 638.4 L1406.4 652.0 L1408.3 633.2 L1410.1 655.9 L1411.4 632.6 L1413.2 653.5 L1414.3 633.4 L1416.3 651.6 L1417.7 636.4 L1419.8 653.8 L1420.8 639.2 L1422.9 654.9 L1424.7 636.3 L1426.0 653.6 L1427.6 638.0 L1428.9 653.4 L1431.0 636.3 L1432.3 653.2 L1433.6 638.1 L1435.8 651.7 L1437.4 637.8 L1438.8 654.0 L1440.0 636.4 L1441.9 649.2 L1443.7 638.5 L1445.4 652.8 L1446.9 639.1" fill="none" stroke="#0a0808" stroke-width="2.5" stroke-linejoin="miter" stroke-miterlimit="6"/>
<path d="M1285.0 645.2 L1287.1 633.6 L1288.6 605.0 L1289.5 560.4 L1290.4 537.1 L1291.8 532.3 L1293.6 537.1 L1294.6 565.7 L1295.7 594.3 L1297.1 603.2 L1298.9 600.7 L1301.1 605.0 L1302.5 612.1 L1303.6 580.0 L1304.3 538.9 L1305.2 518.4 L1306.4 514.3 L1308.2 518.4 L1309.3 538.9 L1310.4 580.0 L1311.4 619.3 L1312.9 637.1 L1315.4 645.2Z" fill="#0a0808" stroke="#0a0808" stroke-width="1.2" stroke-linejoin="round"/>
</g>
<g id="inset-d">
<line x1="1838.3" y1="1684.5" x2="1838.3" y2="1692.0" stroke="#161313" stroke-width="3.6"/>
<text transform="translate(1838.3 1714.0) scale(1.120 1)" font-size="18.5" text-anchor="middle" stroke="#0c0909" stroke-width="0.55">2.0</text>
<line x1="1868.0" y1="1688.0" x2="1868.0" y2="1692.0" stroke="#161313" stroke-width="3.6"/>
<line x1="1897.6" y1="1684.5" x2="1897.6" y2="1692.0" stroke="#161313" stroke-width="3.6"/>
<text transform="translate(1897.6 1714.0) scale(1.120 1)" font-size="18.5" text-anchor="middle" stroke="#0c0909" stroke-width="0.55">1.5</text>
<line x1="1927.3" y1="1688.0" x2="1927.3" y2="1692.0" stroke="#161313" stroke-width="3.6"/>
<line x1="1956.9" y1="1684.5" x2="1956.9" y2="1692.0" stroke="#161313" stroke-width="3.6"/>
<text transform="translate(1956.9 1714.0) scale(1.120 1)" font-size="18.5" text-anchor="middle" stroke="#0c0909" stroke-width="0.55">1.0</text>
<line x1="1986.6" y1="1688.0" x2="1986.6" y2="1692.0" stroke="#161313" stroke-width="3.6"/>
<line x1="2016.3" y1="1684.5" x2="2016.3" y2="1692.0" stroke="#161313" stroke-width="3.6"/>
<text transform="translate(2016.3 1714.0) scale(1.120 1)" font-size="18.5" text-anchor="middle" stroke="#0c0909" stroke-width="0.55">0.5</text>
<line x1="2045.9" y1="1688.0" x2="2045.9" y2="1692.0" stroke="#161313" stroke-width="3.6"/>
<line x1="2075.6" y1="1684.5" x2="2075.6" y2="1692.0" stroke="#161313" stroke-width="3.6"/>
<text transform="translate(2075.6 1714.0) scale(1.120 1)" font-size="18.5" text-anchor="middle" stroke="#0c0909" stroke-width="0.55">0.0</text>
<line x1="1836.3" y1="1692.0" x2="2077.6" y2="1692.0" stroke="#161313" stroke-width="4.0"/>
<path d="M1862.5 1623.3 L1867.2 1630.8 L1900.8 1633.7 L1934.5 1638.4 L1942.9 1637.7 L1947.9 1637.1 L1952.9 1639.7 L1959.7 1643.8 L1984.9 1652.7 L2018.5 1659.4 L2052.1 1661.9 L2076.5 1665.3" fill="none" stroke="#0a0808" stroke-width="10.5" stroke-linejoin="round" stroke-linecap="butt"/><path d="M1862.3 1629.4 L1864.4 1607.9 L1865.4 1633.6 L1867.6 1623.9 L1868.9 1648.4 L1870.2 1622.8 L1871.7 1645.6 L1873.6 1624.2 L1875.4 1642.1 L1876.7 1621.9 L1878.8 1643.5 L1880.0 1621.7 L1882.0 1640.2 L1883.2 1625.9 L1884.7 1640.3 L1886.6 1620.5 L1887.8 1647.1 L1889.6 1627.3 L1891.5 1638.3 L1893.0 1627.2 L1894.4 1641.5 L1896.1 1622.2 L1897.9 1641.5 L1898.9 1627.1 L1901.0 1650.3 L1902.4 1623.0 L1904.1 1643.7 L1905.5 1627.1 L1907.6 1646.1 L1908.4 1624.0 L1910.0 1646.2 L1912.1 1625.9 L1913.5 1644.7 L1915.6 1630.2 L1916.7 1642.3 L1918.2 1628.4 L1920.1 1644.3 L1921.4 1629.3 L1923.5 1643.2 L1925.2 1630.3 L1926.3 1643.2 L1927.7 1628.2 L1929.4 1645.2 L1930.9 1625.7 L1933.2 1645.4 L1934.3 1627.2 L1936.2 1645.0 L1937.9 1630.3 L1939.7 1647.5 L1941.1 1628.5 L1942.7 1649.5 L1944.1 1628.3 L1946.6 1646.2 L1947.7 1627.3 L1949.3 1645.8 L1951.6 1631.2 L1953.0 1651.3 L1955.0 1634.6 L1956.0 1661.0 L1958.4 1631.6 L1959.9 1651.7 L1961.5 1637.5 L1962.8 1653.5 L1964.5 1634.0 L1965.7 1656.4 L1967.6 1641.3 L1969.1 1652.9 L1970.4 1640.7 L1972.4 1657.2 L1973.7 1637.9 L1975.3 1657.1 L1976.8 1641.2 L1978.8 1657.0 L1979.8 1645.7 L1982.0 1660.3 L1983.2 1646.4 L1984.5 1658.6 L1986.3 1643.0 L1988.1 1659.1 L1990.0 1647.8 L1991.5 1661.7 L1992.6 1644.8 L1994.4 1662.0 L1995.8 1648.4 L1997.5 1665.2 L1999.0 1643.6 L2001.1 1666.1 L2002.6 1648.8 L2004.2 1663.2 L2005.3 1647.7 L2007.0 1668.3 L2008.8 1649.8 L2010.2 1665.8 L2012.0 1643.5 L2013.4 1665.2 L2015.6 1649.4 L2016.9 1666.0 L2018.2 1652.7 L2020.4 1668.6 L2021.7 1648.2 L2023.0 1670.1 L2024.9 1651.9 L2026.9 1668.5 L2028.2 1649.0 L2030.0 1668.5 L2031.0 1640.7 L2033.1 1667.8 L2034.9 1654.2 L2036.0 1666.1 L2037.4 1654.3 L2039.4 1671.5 L2041.2 1648.8 L2042.9 1669.0 L2044.4 1651.9 L2045.6 1672.8 L2047.5 1654.6 L2049.0 1670.2 L2050.6 1652.4 L2052.3 1669.6 L2054.1 1654.2 L2055.2 1682.7 L2057.1 1654.9 L2058.4 1669.1 L2060.1 1654.2 L2062.2 1673.8 L2063.4 1653.6 L2065.4 1672.3 L2066.9 1658.5 L2068.3 1673.1 L2070.2 1654.8 L2071.9 1673.5 L2073.5 1658.4 L2074.5 1670.9 L2076.8 1659.9" fill="none" stroke="#0a0808" stroke-width="2.5" stroke-linejoin="miter" stroke-miterlimit="6"/>
<path d="M1837.3 1611.5 L1840.3 1604.8 L1844.0 1598.1 L1846.7 1577.9 L1848.7 1544.3 L1850.1 1505.6 L1851.4 1473.7 L1852.8 1463.6 L1853.8 1461.1 L1855.1 1463.6 L1856.5 1477.1 L1857.8 1510.7 L1859.2 1551.0 L1860.8 1584.6 L1862.9 1608.2 L1866.4 1623.3 L1870.6 1631.7 L1870.6 1641.8 L1863.9 1636.7 L1860.8 1628.3 L1858.0 1601.4 L1856.3 1569.5 L1854.8 1530.8 L1853.4 1502.3 L1852.1 1530.8 L1850.8 1569.5 L1849.1 1598.1 L1846.2 1611.5 L1842.9 1619.9 L1840.3 1628.3 L1838.3 1623.3Z" fill="#0a0808" stroke="#0a0808" stroke-width="1.2" stroke-linejoin="round"/>
</g>
</g>
</svg></body></html>
